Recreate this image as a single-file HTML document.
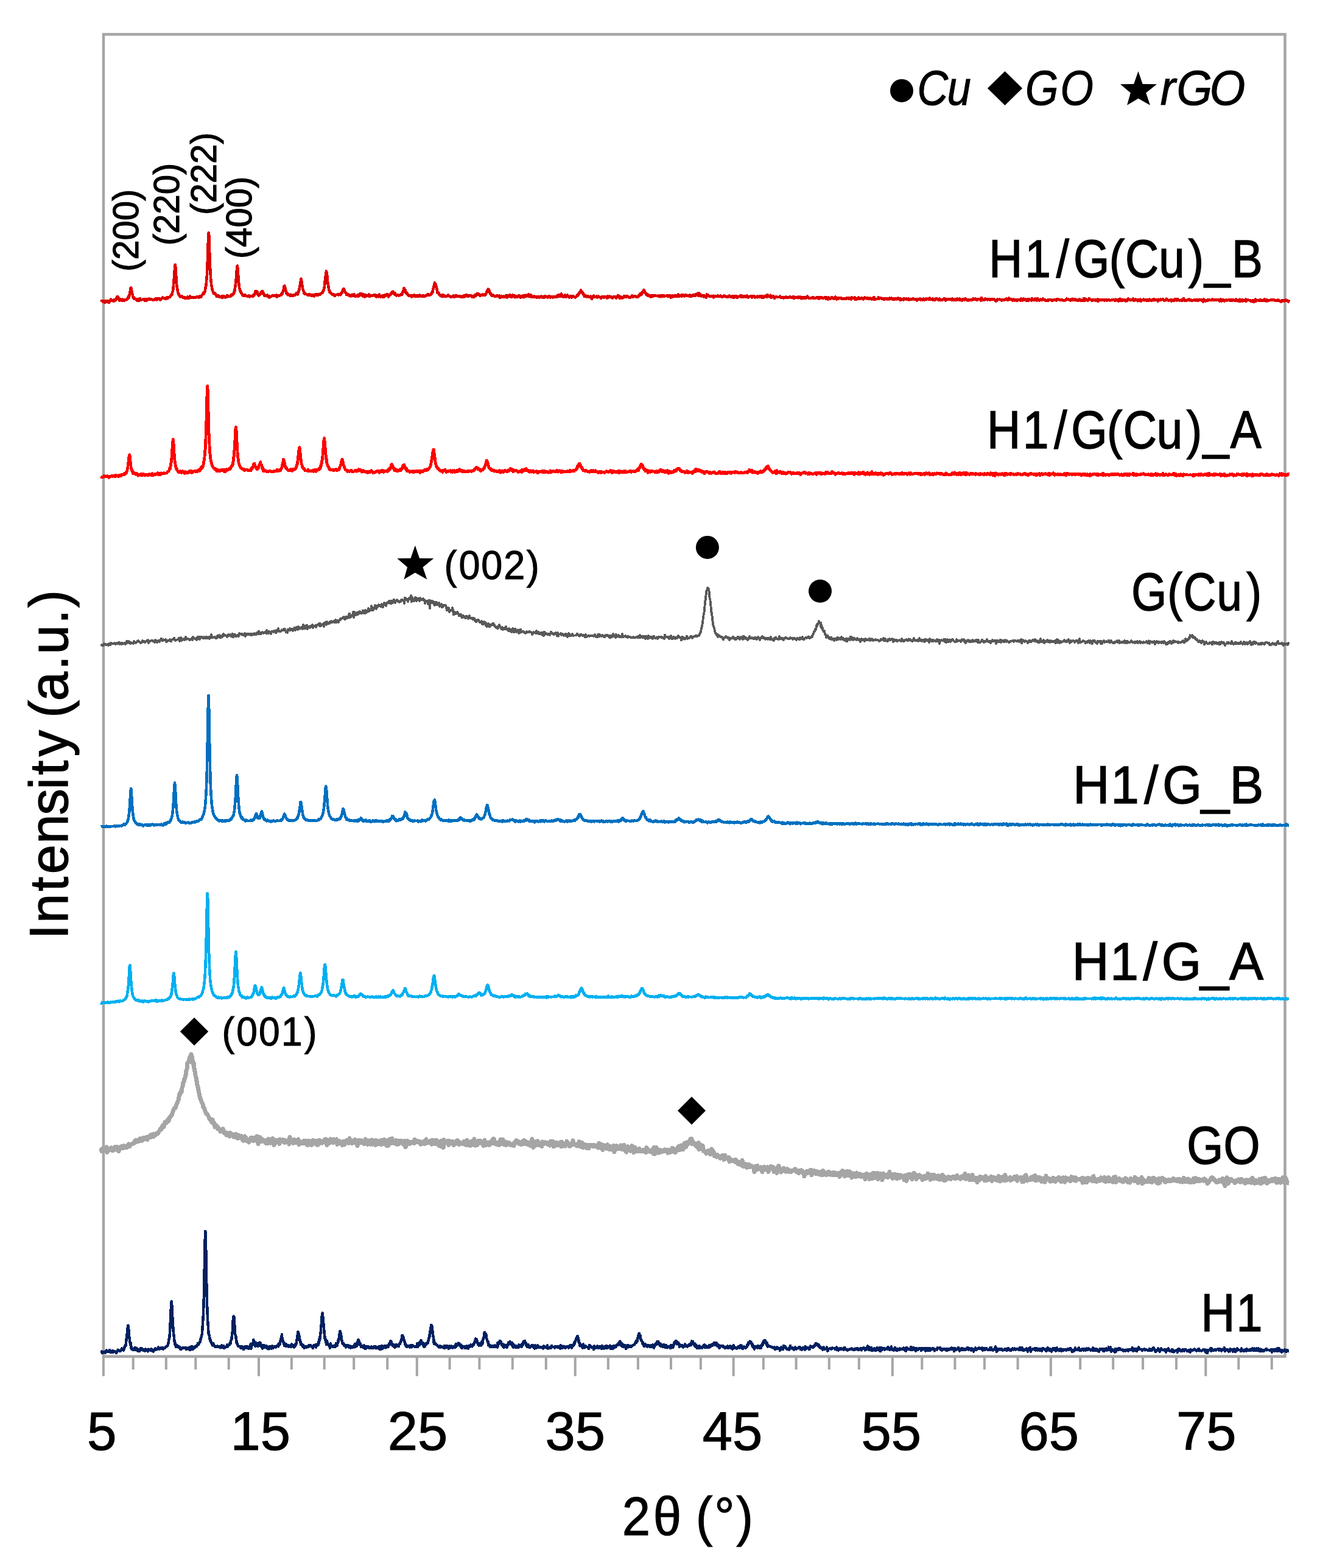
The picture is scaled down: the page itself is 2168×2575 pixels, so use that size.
<!DOCTYPE html>
<html><head><meta charset="utf-8"><title>XRD patterns</title>
<style>html,body{margin:0;padding:0;background:#fff;}svg{display:block;}</style>
</head><body>
<svg width="2168" height="2575" viewBox="0 0 2168 2575">
<rect width="2168" height="2575" fill="#fff"/>
<rect x="170.0" y="56.4" width="1940.5" height="2171.2" fill="none" stroke="#A6A6A6" stroke-width="4.5"/>
<path d="M169.9,2227.6V2260M218.7,2227.6V2249M272.8,2227.6V2249M321.3,2227.6V2249M375.7,2227.6V2249M425.0,2227.6V2260M478.9,2227.6V2249M532.7,2227.6V2249M581.2,2227.6V2249M636.2,2227.6V2249M684.8,2227.6V2260M738.6,2227.6V2249M787.4,2227.6V2249M841.8,2227.6V2249M896.8,2227.6V2249M944.7,2227.6V2260M998.8,2227.6V2249M1047.9,2227.6V2249M1102.0,2227.6V2249M1150.9,2227.6V2249M1204.7,2227.6V2260M1253.8,2227.6V2249M1307.6,2227.6V2249M1361.8,2227.6V2249M1410.8,2227.6V2249M1465.8,2227.6V2260M1514.3,2227.6V2249M1568.4,2227.6V2249M1616.9,2227.6V2249M1671.6,2227.6V2249M1725.9,2227.6V2260M1774.2,2227.6V2249M1828.2,2227.6V2249M1877.1,2227.6V2249M1932.0,2227.6V2249M1980.3,2227.6V2260M2034.3,2227.6V2249M2088.8,2227.6V2249" stroke="#A6A6A6" stroke-width="4" fill="none"/>
<polyline points="166.0,1885.2 167.0,1890.5 168.0,1886.3 169.0,1887.5 170.0,1887.8 171.0,1886.4 172.0,1885.2 173.0,1889.1 174.0,1888.5 175.0,1883.9 176.0,1892.3 177.0,1889.5 178.0,1886.1 179.0,1889.2 180.0,1886.5 181.0,1887.2 182.0,1888.7 183.0,1884.7 184.0,1888.1 185.0,1889.6 186.0,1889.4 187.0,1886.1 188.0,1888.3 189.0,1883.3 190.0,1886.0 191.0,1887.0 192.0,1883.5 193.0,1885.8 194.0,1889.1 195.0,1890.6 196.0,1886.9 197.0,1886.9 198.0,1883.4 199.0,1882.7 200.0,1882.2 201.0,1885.7 202.0,1885.9 203.0,1883.1 204.0,1881.7 205.0,1884.2 206.0,1883.9 207.0,1882.7 208.0,1884.8 209.0,1881.8 210.0,1881.4 211.0,1879.0 212.0,1880.7 213.0,1882.4 214.0,1879.5 215.0,1879.0 216.0,1879.1 217.0,1878.3 218.0,1878.3 219.0,1877.8 220.0,1877.5 221.0,1874.5 222.0,1876.0 223.0,1872.2 224.0,1875.2 225.0,1872.1 226.0,1873.9 227.0,1874.6 228.0,1872.7 229.0,1873.3 230.0,1869.9 231.0,1871.0 232.0,1873.4 233.0,1869.8 234.0,1872.7 235.0,1868.8 236.0,1869.4 237.0,1868.7 238.0,1870.3 239.0,1870.9 240.0,1867.8 241.0,1868.9 242.0,1871.7 243.0,1867.9 244.0,1866.7 245.0,1868.3 246.0,1866.8 247.0,1865.6 248.0,1863.3 249.0,1867.3 250.0,1864.4 251.0,1864.9 252.0,1862.6 253.0,1866.1 254.0,1864.6 255.0,1864.4 256.0,1861.9 257.0,1862.2 258.0,1862.2 259.0,1861.7 260.0,1859.7 261.0,1858.2 262.0,1856.7 263.0,1855.0 264.0,1853.5 265.0,1854.5 266.0,1852.3 267.0,1848.1 268.0,1849.8 269.0,1850.4 270.0,1846.8 271.0,1842.8 272.0,1844.2 273.0,1844.3 274.0,1841.9 275.0,1839.4 276.0,1841.7 277.0,1840.2 278.0,1835.5 279.0,1835.4 280.0,1833.1 281.0,1832.1 282.0,1831.5 283.0,1828.8 284.0,1825.8 285.0,1822.8 286.0,1820.6 287.0,1819.9 288.0,1819.7 289.0,1816.2 290.0,1813.5 291.0,1811.4 292.0,1808.5 293.0,1806.6 294.0,1801.1 295.0,1796.8 296.0,1796.3 297.0,1792.1 298.0,1793.3 299.0,1787.1 300.0,1783.5 301.0,1777.7 302.0,1776.9 303.0,1771.5 304.0,1770.2 305.0,1765.6 306.0,1758.3 307.0,1755.3 308.0,1745.6 309.0,1744.9 310.0,1744.3 311.0,1739.9 312.0,1735.9 313.0,1733.7 314.0,1731.5 315.0,1733.8 316.0,1740.1 317.0,1746.9 318.0,1744.9 319.0,1754.2 320.0,1759.7 321.0,1766.1 322.0,1769.0 323.0,1775.1 324.0,1781.8 325.0,1785.8 326.0,1790.6 327.0,1795.2 328.0,1800.1 329.0,1804.1 330.0,1806.6 331.0,1809.6 332.0,1811.1 333.0,1813.5 334.0,1818.8 335.0,1819.1 336.0,1821.2 337.0,1824.9 338.0,1827.3 339.0,1829.2 340.0,1829.5 341.0,1830.5 342.0,1832.7 343.0,1834.1 344.0,1837.6 345.0,1837.2 346.0,1839.2 347.0,1839.4 348.0,1843.1 349.0,1838.6 350.0,1844.1 351.0,1846.0 352.0,1844.0 353.0,1851.0 354.0,1848.2 355.0,1849.3 356.0,1848.8 357.0,1853.3 358.0,1853.2 359.0,1852.6 360.0,1854.9 361.0,1856.5 362.0,1858.2 363.0,1856.9 364.0,1855.3 365.0,1856.6 366.0,1853.8 367.0,1857.3 368.0,1860.7 369.0,1860.6 370.0,1859.9 371.0,1859.9 372.0,1864.2 373.0,1862.0 374.0,1863.6 375.0,1863.0 376.0,1861.1 377.0,1866.1 378.0,1860.6 379.0,1861.0 380.0,1862.9 381.0,1862.6 382.0,1863.2 383.0,1863.4 384.0,1867.1 385.0,1865.3 386.0,1866.2 387.0,1862.2 388.0,1864.1 389.0,1868.6 390.0,1863.7 391.0,1869.3 392.0,1864.5 393.0,1867.7 394.0,1865.3 395.0,1867.9 396.0,1865.6 397.0,1867.3 398.0,1871.9 399.0,1867.4 400.0,1873.2 401.0,1867.5 402.0,1866.0 403.0,1869.1 404.0,1868.1 405.0,1873.5 406.0,1871.5 407.0,1872.5 408.0,1871.3 409.0,1876.0 410.0,1872.0 411.0,1871.5 412.0,1868.3 413.0,1868.2 414.0,1871.1 415.0,1873.3 416.0,1873.8 417.0,1868.7 418.0,1872.6 419.0,1871.9 420.0,1868.7 421.0,1873.1 422.0,1866.0 423.0,1872.7 424.0,1878.6 425.0,1869.7 426.0,1872.6 427.0,1867.7 428.0,1870.9 429.0,1874.9 430.0,1870.4 431.0,1873.2 432.0,1872.5 433.0,1872.5 434.0,1874.2 435.0,1875.0 436.0,1877.1 437.0,1876.2 438.0,1872.7 439.0,1877.9 440.0,1877.6 441.0,1870.4 442.0,1876.3 443.0,1876.8 444.0,1877.2 445.0,1876.2 446.0,1871.5 447.0,1874.2 448.0,1869.6 449.0,1874.6 450.0,1880.3 451.0,1876.8 452.0,1877.2 453.0,1873.7 454.0,1872.5 455.0,1872.3 456.0,1875.5 457.0,1873.1 458.0,1873.5 459.0,1878.2 460.0,1871.0 461.0,1871.8 462.0,1873.9 463.0,1875.0 464.0,1874.9 465.0,1871.7 466.0,1875.8 467.0,1875.0 468.0,1876.3 469.0,1872.6 470.0,1876.0 471.0,1876.0 472.0,1873.7 473.0,1874.9 474.0,1874.0 475.0,1879.0 476.0,1867.4 477.0,1871.7 478.0,1871.1 479.0,1874.5 480.0,1873.7 481.0,1874.4 482.0,1877.4 483.0,1871.3 484.0,1873.3 485.0,1875.0 486.0,1872.4 487.0,1876.5 488.0,1876.4 489.0,1873.7 490.0,1871.0 491.0,1879.7 492.0,1876.8 493.0,1876.7 494.0,1875.8 495.0,1875.6 496.0,1877.7 497.0,1875.6 498.0,1874.0 499.0,1877.4 500.0,1875.8 501.0,1873.6 502.0,1873.3 503.0,1878.6 504.0,1877.2 505.0,1880.7 506.0,1874.2 507.0,1873.6 508.0,1876.6 509.0,1879.1 510.0,1877.1 511.0,1876.6 512.0,1880.4 513.0,1873.5 514.0,1872.2 515.0,1873.5 516.0,1874.6 517.0,1876.3 518.0,1878.0 519.0,1876.4 520.0,1879.3 521.0,1873.2 522.0,1880.2 523.0,1873.2 524.0,1878.2 525.0,1872.8 526.0,1876.1 527.0,1875.3 528.0,1876.5 529.0,1877.0 530.0,1874.5 531.0,1874.9 532.0,1875.7 533.0,1871.6 534.0,1873.1 535.0,1870.8 536.0,1875.0 537.0,1880.7 538.0,1876.8 539.0,1872.7 540.0,1873.1 541.0,1877.4 542.0,1873.6 543.0,1870.7 544.0,1872.2 545.0,1872.1 546.0,1872.2 547.0,1876.6 548.0,1875.0 549.0,1871.0 550.0,1873.4 551.0,1871.9 552.0,1871.7 553.0,1870.9 554.0,1879.3 555.0,1874.0 556.0,1876.3 557.0,1877.1 558.0,1873.9 559.0,1876.2 560.0,1876.3 561.0,1875.5 562.0,1880.5 563.0,1875.7 564.0,1874.4 565.0,1876.6 566.0,1879.6 567.0,1877.6 568.0,1873.8 569.0,1872.8 570.0,1872.7 571.0,1873.4 572.0,1876.1 573.0,1877.3 574.0,1869.3 575.0,1875.2 576.0,1872.4 577.0,1877.0 578.0,1877.6 579.0,1873.3 580.0,1874.2 581.0,1872.9 582.0,1876.4 583.0,1871.2 584.0,1872.5 585.0,1873.7 586.0,1878.6 587.0,1881.6 588.0,1875.5 589.0,1872.3 590.0,1875.7 591.0,1873.3 592.0,1876.7 593.0,1872.7 594.0,1874.6 595.0,1875.5 596.0,1876.9 597.0,1875.4 598.0,1878.8 599.0,1875.9 600.0,1870.9 601.0,1878.0 602.0,1874.9 603.0,1873.9 604.0,1879.5 605.0,1873.0 606.0,1875.8 607.0,1873.8 608.0,1879.1 609.0,1874.7 610.0,1876.2 611.0,1872.0 612.0,1879.3 613.0,1872.9 614.0,1877.9 615.0,1878.5 616.0,1878.8 617.0,1880.3 618.0,1872.6 619.0,1876.6 620.0,1876.0 621.0,1876.7 622.0,1878.4 623.0,1875.9 624.0,1873.5 625.0,1875.4 626.0,1879.5 627.0,1872.6 628.0,1875.8 629.0,1873.1 630.0,1878.4 631.0,1871.4 632.0,1874.7 633.0,1875.3 634.0,1875.9 635.0,1881.6 636.0,1879.6 637.0,1873.0 638.0,1881.1 639.0,1872.5 640.0,1870.8 641.0,1871.8 642.0,1876.1 643.0,1877.0 644.0,1869.9 645.0,1876.7 646.0,1874.9 647.0,1877.4 648.0,1874.6 649.0,1877.9 650.0,1877.0 651.0,1872.6 652.0,1879.3 653.0,1876.2 654.0,1877.5 655.0,1878.9 656.0,1873.1 657.0,1875.4 658.0,1873.6 659.0,1873.3 660.0,1876.4 661.0,1876.6 662.0,1879.1 663.0,1879.3 664.0,1875.7 665.0,1873.7 666.0,1884.0 667.0,1881.4 668.0,1875.6 669.0,1873.5 670.0,1874.9 671.0,1876.7 672.0,1878.9 673.0,1878.5 674.0,1877.2 675.0,1875.5 676.0,1876.6 677.0,1875.4 678.0,1876.4 679.0,1876.0 680.0,1877.6 681.0,1871.5 682.0,1875.4 683.0,1875.6 684.0,1873.5 685.0,1875.9 686.0,1873.7 687.0,1874.7 688.0,1875.7 689.0,1875.8 690.0,1875.0 691.0,1879.3 692.0,1877.0 693.0,1877.4 694.0,1877.2 695.0,1874.9 696.0,1874.3 697.0,1878.7 698.0,1875.7 699.0,1872.1 700.0,1871.0 701.0,1877.2 702.0,1874.7 703.0,1876.4 704.0,1875.2 705.0,1875.6 706.0,1876.2 707.0,1873.4 708.0,1876.5 709.0,1879.1 710.0,1878.4 711.0,1872.1 712.0,1873.2 713.0,1873.2 714.0,1875.9 715.0,1878.7 716.0,1877.4 717.0,1872.1 718.0,1876.7 719.0,1878.6 720.0,1875.4 721.0,1881.4 722.0,1874.9 723.0,1879.5 724.0,1882.5 725.0,1873.3 726.0,1875.7 727.0,1878.0 728.0,1884.7 729.0,1871.9 730.0,1877.9 731.0,1877.2 732.0,1875.4 733.0,1874.3 734.0,1875.1 735.0,1875.7 736.0,1873.2 737.0,1880.4 738.0,1873.6 739.0,1875.3 740.0,1874.7 741.0,1875.4 742.0,1876.7 743.0,1874.5 744.0,1875.8 745.0,1880.8 746.0,1879.1 747.0,1875.7 748.0,1878.7 749.0,1874.4 750.0,1877.0 751.0,1872.8 752.0,1873.5 753.0,1874.2 754.0,1879.6 755.0,1877.0 756.0,1877.8 757.0,1876.8 758.0,1877.4 759.0,1877.5 760.0,1878.4 761.0,1876.9 762.0,1874.2 763.0,1874.5 764.0,1879.6 765.0,1880.2 766.0,1878.0 767.0,1872.4 768.0,1880.6 769.0,1877.5 770.0,1876.5 771.0,1876.8 772.0,1875.8 773.0,1881.2 774.0,1881.0 775.0,1874.1 776.0,1876.3 777.0,1877.6 778.0,1880.1 779.0,1870.7 780.0,1879.3 781.0,1881.2 782.0,1876.1 783.0,1876.9 784.0,1880.2 785.0,1878.0 786.0,1873.6 787.0,1874.1 788.0,1874.4 789.0,1873.5 790.0,1877.1 791.0,1875.8 792.0,1877.2 793.0,1878.9 794.0,1881.7 795.0,1877.7 796.0,1872.4 797.0,1880.7 798.0,1876.9 799.0,1880.1 800.0,1876.0 801.0,1877.9 802.0,1876.8 803.0,1877.1 804.0,1880.4 805.0,1875.5 806.0,1877.6 807.0,1877.7 808.0,1876.2 809.0,1871.6 810.0,1878.0 811.0,1870.0 812.0,1873.3 813.0,1876.0 814.0,1878.2 815.0,1879.3 816.0,1879.3 817.0,1878.7 818.0,1876.2 819.0,1880.2 820.0,1876.5 821.0,1880.0 822.0,1871.5 823.0,1874.7 824.0,1875.7 825.0,1877.2 826.0,1871.1 827.0,1879.2 828.0,1879.7 829.0,1879.2 830.0,1875.9 831.0,1880.8 832.0,1875.8 833.0,1879.5 834.0,1877.0 835.0,1877.1 836.0,1876.8 837.0,1877.1 838.0,1880.0 839.0,1880.8 840.0,1880.8 841.0,1879.5 842.0,1878.9 843.0,1878.3 844.0,1881.6 845.0,1876.0 846.0,1875.6 847.0,1877.3 848.0,1872.9 849.0,1876.6 850.0,1877.0 851.0,1874.6 852.0,1875.7 853.0,1878.9 854.0,1876.6 855.0,1877.4 856.0,1879.8 857.0,1875.6 858.0,1874.3 859.0,1877.1 860.0,1878.3 861.0,1872.6 862.0,1878.9 863.0,1876.4 864.0,1876.2 865.0,1875.1 866.0,1876.8 867.0,1879.7 868.0,1878.6 869.0,1879.4 870.0,1876.4 871.0,1881.4 872.0,1880.6 873.0,1877.4 874.0,1870.8 875.0,1877.6 876.0,1884.4 877.0,1877.3 878.0,1874.9 879.0,1881.8 880.0,1876.0 881.0,1878.8 882.0,1879.5 883.0,1873.9 884.0,1877.9 885.0,1880.7 886.0,1876.8 887.0,1879.3 888.0,1877.7 889.0,1880.3 890.0,1882.4 891.0,1875.0 892.0,1877.1 893.0,1878.8 894.0,1876.3 895.0,1875.8 896.0,1877.0 897.0,1877.2 898.0,1876.3 899.0,1878.8 900.0,1880.0 901.0,1879.9 902.0,1879.8 903.0,1881.1 904.0,1874.7 905.0,1877.8 906.0,1878.6 907.0,1879.5 908.0,1874.1 909.0,1883.0 910.0,1876.0 911.0,1878.9 912.0,1880.2 913.0,1881.1 914.0,1876.6 915.0,1877.0 916.0,1879.4 917.0,1879.9 918.0,1880.8 919.0,1878.4 920.0,1876.8 921.0,1875.2 922.0,1883.0 923.0,1875.2 924.0,1880.5 925.0,1879.4 926.0,1880.7 927.0,1881.2 928.0,1882.2 929.0,1878.7 930.0,1879.9 931.0,1874.1 932.0,1879.1 933.0,1876.8 934.0,1878.7 935.0,1882.2 936.0,1879.4 937.0,1882.0 938.0,1878.8 939.0,1880.3 940.0,1878.3 941.0,1873.0 942.0,1877.6 943.0,1878.8 944.0,1879.9 945.0,1879.6 946.0,1879.3 947.0,1882.0 948.0,1881.3 949.0,1878.8 950.0,1882.0 951.0,1874.9 952.0,1879.2 953.0,1879.6 954.0,1883.3 955.0,1878.7 956.0,1876.5 957.0,1880.6 958.0,1884.5 959.0,1879.8 960.0,1880.1 961.0,1879.9 962.0,1880.6 963.0,1883.8 964.0,1885.6 965.0,1881.9 966.0,1880.5 967.0,1885.5 968.0,1881.2 969.0,1881.2 970.0,1880.2 971.0,1880.4 972.0,1881.8 973.0,1880.6 974.0,1882.4 975.0,1881.7 976.0,1882.9 977.0,1880.7 978.0,1881.2 979.0,1882.4 980.0,1882.0 981.0,1882.2 982.0,1885.0 983.0,1879.4 984.0,1877.3 985.0,1884.1 986.0,1881.8 987.0,1885.8 988.0,1882.3 989.0,1879.7 990.0,1888.2 991.0,1883.8 992.0,1881.7 993.0,1881.1 994.0,1884.4 995.0,1881.4 996.0,1884.2 997.0,1886.2 998.0,1879.9 999.0,1882.6 1000.0,1884.7 1001.0,1887.8 1002.0,1886.0 1003.0,1882.6 1004.0,1887.5 1005.0,1883.1 1006.0,1883.6 1007.0,1885.1 1008.0,1881.5 1009.0,1892.0 1010.0,1887.4 1011.0,1885.0 1012.0,1883.1 1013.0,1881.8 1014.0,1885.7 1015.0,1886.6 1016.0,1883.9 1017.0,1884.5 1018.0,1886.5 1019.0,1885.1 1020.0,1880.7 1021.0,1887.1 1022.0,1886.1 1023.0,1887.4 1024.0,1883.8 1025.0,1880.5 1026.0,1882.7 1027.0,1886.7 1028.0,1891.2 1029.0,1892.0 1030.0,1887.0 1031.0,1882.7 1032.0,1885.6 1033.0,1887.6 1034.0,1887.7 1035.0,1887.0 1036.0,1890.2 1037.0,1884.7 1038.0,1881.6 1039.0,1884.9 1040.0,1884.3 1041.0,1892.9 1042.0,1887.0 1043.0,1884.0 1044.0,1889.2 1045.0,1890.2 1046.0,1887.9 1047.0,1888.4 1048.0,1890.6 1049.0,1889.4 1050.0,1886.5 1051.0,1889.8 1052.0,1890.7 1053.0,1889.4 1054.0,1890.8 1055.0,1890.3 1056.0,1888.3 1057.0,1888.7 1058.0,1890.7 1059.0,1888.0 1060.0,1892.3 1061.0,1892.6 1062.0,1884.7 1063.0,1889.7 1064.0,1888.1 1065.0,1888.6 1066.0,1890.6 1067.0,1889.9 1068.0,1891.9 1069.0,1891.3 1070.0,1891.5 1071.0,1888.7 1072.0,1889.9 1073.0,1894.4 1074.0,1884.6 1075.0,1895.1 1076.0,1889.4 1077.0,1893.7 1078.0,1884.3 1079.0,1889.7 1080.0,1892.8 1081.0,1891.1 1082.0,1893.2 1083.0,1888.5 1084.0,1889.2 1085.0,1888.9 1086.0,1891.8 1087.0,1891.6 1088.0,1890.1 1089.0,1889.7 1090.0,1889.6 1091.0,1890.4 1092.0,1887.8 1093.0,1889.9 1094.0,1889.6 1095.0,1888.6 1096.0,1888.4 1097.0,1893.4 1098.0,1888.2 1099.0,1890.6 1100.0,1892.9 1101.0,1891.2 1102.0,1889.3 1103.0,1891.6 1104.0,1885.4 1105.0,1885.7 1106.0,1887.5 1107.0,1887.7 1108.0,1887.8 1109.0,1892.4 1110.0,1891.6 1111.0,1887.0 1112.0,1887.4 1113.0,1884.2 1114.0,1886.9 1115.0,1882.4 1116.0,1888.9 1117.0,1883.7 1118.0,1886.0 1119.0,1881.0 1120.0,1887.3 1121.0,1885.0 1122.0,1887.8 1123.0,1882.5 1124.0,1877.6 1125.0,1878.9 1126.0,1877.0 1127.0,1883.2 1128.0,1877.0 1129.0,1876.0 1130.0,1878.7 1131.0,1877.3 1132.0,1877.3 1133.0,1874.5 1134.0,1870.5 1135.0,1872.0 1136.0,1870.1 1137.0,1878.9 1138.0,1878.5 1139.0,1875.9 1140.0,1879.0 1141.0,1879.9 1142.0,1880.7 1143.0,1881.3 1144.0,1883.1 1145.0,1882.0 1146.0,1877.2 1147.0,1876.7 1148.0,1887.5 1149.0,1886.5 1150.0,1879.4 1151.0,1886.5 1152.0,1884.4 1153.0,1885.7 1154.0,1881.1 1155.0,1889.9 1156.0,1888.3 1157.0,1890.9 1158.0,1892.0 1159.0,1893.0 1160.0,1894.3 1161.0,1891.3 1162.0,1891.5 1163.0,1889.8 1164.0,1893.1 1165.0,1891.5 1166.0,1889.6 1167.0,1895.8 1168.0,1895.0 1169.0,1887.0 1170.0,1889.4 1171.0,1893.8 1172.0,1891.4 1173.0,1898.1 1174.0,1895.9 1175.0,1897.2 1176.0,1898.5 1177.0,1899.9 1178.0,1896.2 1179.0,1898.8 1180.0,1898.3 1181.0,1900.0 1182.0,1899.7 1183.0,1902.2 1184.0,1900.3 1185.0,1898.2 1186.0,1900.0 1187.0,1897.2 1188.0,1901.1 1189.0,1904.4 1190.0,1899.5 1191.0,1897.3 1192.0,1901.5 1193.0,1900.8 1194.0,1902.3 1195.0,1901.2 1196.0,1903.2 1197.0,1900.8 1198.0,1907.5 1199.0,1903.4 1200.0,1905.6 1201.0,1906.6 1202.0,1904.7 1203.0,1906.5 1204.0,1905.1 1205.0,1905.0 1206.0,1905.9 1207.0,1908.1 1208.0,1904.1 1209.0,1905.3 1210.0,1906.0 1211.0,1906.9 1212.0,1911.5 1213.0,1909.0 1214.0,1908.6 1215.0,1910.1 1216.0,1912.7 1217.0,1908.6 1218.0,1913.3 1219.0,1905.4 1220.0,1909.2 1221.0,1915.4 1222.0,1915.9 1223.0,1912.8 1224.0,1911.6 1225.0,1914.9 1226.0,1912.1 1227.0,1917.2 1228.0,1916.6 1229.0,1915.8 1230.0,1912.1 1231.0,1916.8 1232.0,1914.0 1233.0,1914.3 1234.0,1914.1 1235.0,1915.0 1236.0,1916.8 1237.0,1917.9 1238.0,1918.1 1239.0,1924.6 1240.0,1915.6 1241.0,1919.5 1242.0,1915.2 1243.0,1916.5 1244.0,1914.3 1245.0,1920.3 1246.0,1918.2 1247.0,1918.0 1248.0,1917.5 1249.0,1920.2 1250.0,1916.8 1251.0,1919.2 1252.0,1924.5 1253.0,1918.1 1254.0,1917.0 1255.0,1916.1 1256.0,1920.7 1257.0,1919.0 1258.0,1917.1 1259.0,1917.0 1260.0,1919.2 1261.0,1916.7 1262.0,1924.5 1263.0,1918.9 1264.0,1919.0 1265.0,1919.3 1266.0,1915.1 1267.0,1916.1 1268.0,1918.9 1269.0,1919.8 1270.0,1916.8 1271.0,1924.1 1272.0,1921.2 1273.0,1923.3 1274.0,1923.1 1275.0,1919.7 1276.0,1926.3 1277.0,1920.7 1278.0,1915.8 1279.0,1914.7 1280.0,1920.6 1281.0,1922.8 1282.0,1920.9 1283.0,1925.0 1284.0,1920.1 1285.0,1922.3 1286.0,1922.8 1287.0,1918.5 1288.0,1921.8 1289.0,1922.0 1290.0,1923.9 1291.0,1924.3 1292.0,1923.8 1293.0,1919.6 1294.0,1923.3 1295.0,1924.2 1296.0,1921.7 1297.0,1923.6 1298.0,1923.7 1299.0,1924.8 1300.0,1922.2 1301.0,1923.3 1302.0,1922.7 1303.0,1922.4 1304.0,1920.9 1305.0,1921.7 1306.0,1919.8 1307.0,1922.2 1308.0,1924.5 1309.0,1924.4 1310.0,1924.8 1311.0,1922.8 1312.0,1926.6 1313.0,1922.2 1314.0,1925.3 1315.0,1924.6 1316.0,1921.9 1317.0,1922.1 1318.0,1925.7 1319.0,1924.1 1320.0,1924.8 1321.0,1931.8 1322.0,1925.8 1323.0,1924.8 1324.0,1926.4 1325.0,1923.2 1326.0,1924.4 1327.0,1926.0 1328.0,1923.0 1329.0,1925.0 1330.0,1924.7 1331.0,1925.5 1332.0,1921.1 1333.0,1929.8 1334.0,1925.3 1335.0,1926.9 1336.0,1923.1 1337.0,1922.5 1338.0,1925.9 1339.0,1925.1 1340.0,1927.5 1341.0,1923.7 1342.0,1923.7 1343.0,1926.9 1344.0,1927.9 1345.0,1928.5 1346.0,1926.2 1347.0,1927.0 1348.0,1924.5 1349.0,1929.7 1350.0,1929.3 1351.0,1929.3 1352.0,1922.8 1353.0,1928.9 1354.0,1925.0 1355.0,1928.0 1356.0,1927.9 1357.0,1929.9 1358.0,1926.5 1359.0,1926.2 1360.0,1924.7 1361.0,1924.3 1362.0,1928.6 1363.0,1925.1 1364.0,1929.0 1365.0,1926.5 1366.0,1926.1 1367.0,1929.8 1368.0,1929.6 1369.0,1925.2 1370.0,1927.2 1371.0,1927.7 1372.0,1929.4 1373.0,1926.0 1374.0,1926.8 1375.0,1927.6 1376.0,1929.6 1377.0,1930.2 1378.0,1926.7 1379.0,1932.3 1380.0,1929.2 1381.0,1926.3 1382.0,1924.5 1383.0,1927.1 1384.0,1922.6 1385.0,1928.8 1386.0,1929.8 1387.0,1931.5 1388.0,1929.7 1389.0,1924.4 1390.0,1927.9 1391.0,1930.3 1392.0,1923.4 1393.0,1926.7 1394.0,1930.3 1395.0,1928.9 1396.0,1924.0 1397.0,1927.7 1398.0,1929.0 1399.0,1934.0 1400.0,1928.0 1401.0,1926.9 1402.0,1929.7 1403.0,1930.0 1404.0,1930.6 1405.0,1932.7 1406.0,1929.1 1407.0,1926.0 1408.0,1929.5 1409.0,1929.4 1410.0,1931.8 1411.0,1931.5 1412.0,1927.7 1413.0,1931.4 1414.0,1932.0 1415.0,1929.2 1416.0,1932.0 1417.0,1930.1 1418.0,1930.2 1419.0,1929.4 1420.0,1931.8 1421.0,1936.8 1422.0,1930.5 1423.0,1927.1 1424.0,1929.4 1425.0,1928.6 1426.0,1930.8 1427.0,1929.8 1428.0,1936.3 1429.0,1932.0 1430.0,1934.7 1431.0,1928.5 1432.0,1929.8 1433.0,1935.3 1434.0,1926.3 1435.0,1930.7 1436.0,1926.7 1437.0,1934.1 1438.0,1927.0 1439.0,1929.8 1440.0,1930.1 1441.0,1926.5 1442.0,1936.6 1443.0,1930.2 1444.0,1934.6 1445.0,1929.0 1446.0,1927.2 1447.0,1931.3 1448.0,1931.2 1449.0,1937.9 1450.0,1928.3 1451.0,1927.1 1452.0,1929.2 1453.0,1931.7 1454.0,1932.3 1455.0,1929.2 1456.0,1930.2 1457.0,1932.4 1458.0,1933.7 1459.0,1929.7 1460.0,1931.4 1461.0,1924.5 1462.0,1928.8 1463.0,1932.2 1464.0,1931.2 1465.0,1930.8 1466.0,1935.2 1467.0,1930.6 1468.0,1928.7 1469.0,1931.9 1470.0,1931.9 1471.0,1928.7 1472.0,1933.9 1473.0,1935.6 1474.0,1930.1 1475.0,1929.4 1476.0,1931.4 1477.0,1934.6 1478.0,1930.3 1479.0,1929.9 1480.0,1930.3 1481.0,1932.3 1482.0,1932.3 1483.0,1931.4 1484.0,1934.7 1485.0,1937.3 1486.0,1930.5 1487.0,1934.4 1488.0,1932.6 1489.0,1939.2 1490.0,1929.8 1491.0,1931.2 1492.0,1932.3 1493.0,1928.6 1494.0,1931.6 1495.0,1933.8 1496.0,1928.6 1497.0,1932.5 1498.0,1936.5 1499.0,1930.8 1500.0,1930.1 1501.0,1926.2 1502.0,1932.0 1503.0,1928.4 1504.0,1933.7 1505.0,1936.3 1506.0,1933.7 1507.0,1930.5 1508.0,1934.0 1509.0,1931.3 1510.0,1929.8 1511.0,1931.3 1512.0,1933.1 1513.0,1931.7 1514.0,1933.9 1515.0,1937.8 1516.0,1934.1 1517.0,1934.5 1518.0,1931.1 1519.0,1935.9 1520.0,1933.6 1521.0,1935.2 1522.0,1930.9 1523.0,1933.4 1524.0,1927.2 1525.0,1932.0 1526.0,1930.9 1527.0,1930.5 1528.0,1937.1 1529.0,1929.3 1530.0,1932.6 1531.0,1932.7 1532.0,1934.3 1533.0,1935.5 1534.0,1929.2 1535.0,1931.8 1536.0,1931.4 1537.0,1934.8 1538.0,1935.4 1539.0,1932.2 1540.0,1931.9 1541.0,1930.8 1542.0,1934.1 1543.0,1937.3 1544.0,1934.2 1545.0,1931.6 1546.0,1931.4 1547.0,1931.7 1548.0,1929.4 1549.0,1937.6 1550.0,1933.6 1551.0,1932.7 1552.0,1938.9 1553.0,1934.0 1554.0,1937.1 1555.0,1934.2 1556.0,1936.2 1557.0,1933.8 1558.0,1932.7 1559.0,1934.6 1560.0,1935.4 1561.0,1936.3 1562.0,1934.2 1563.0,1933.1 1564.0,1932.9 1565.0,1934.5 1566.0,1932.6 1567.0,1933.0 1568.0,1935.2 1569.0,1935.3 1570.0,1935.1 1571.0,1932.1 1572.0,1930.5 1573.0,1934.6 1574.0,1934.3 1575.0,1933.1 1576.0,1934.5 1577.0,1936.1 1578.0,1933.6 1579.0,1935.1 1580.0,1931.8 1581.0,1933.6 1582.0,1932.2 1583.0,1930.7 1584.0,1935.2 1585.0,1927.4 1586.0,1934.1 1587.0,1936.1 1588.0,1935.2 1589.0,1930.6 1590.0,1934.9 1591.0,1930.0 1592.0,1932.2 1593.0,1937.8 1594.0,1934.8 1595.0,1937.2 1596.0,1931.8 1597.0,1929.5 1598.0,1932.7 1599.0,1937.6 1600.0,1936.7 1601.0,1937.1 1602.0,1934.2 1603.0,1934.4 1604.0,1934.1 1605.0,1941.6 1606.0,1934.9 1607.0,1938.9 1608.0,1934.3 1609.0,1938.0 1610.0,1932.1 1611.0,1933.6 1612.0,1935.6 1613.0,1933.4 1614.0,1933.8 1615.0,1934.5 1616.0,1933.6 1617.0,1938.6 1618.0,1937.6 1619.0,1931.6 1620.0,1939.0 1621.0,1934.9 1622.0,1934.9 1623.0,1934.6 1624.0,1937.1 1625.0,1936.8 1626.0,1933.8 1627.0,1935.2 1628.0,1932.0 1629.0,1939.6 1630.0,1933.1 1631.0,1933.1 1632.0,1933.5 1633.0,1935.5 1634.0,1937.0 1635.0,1934.4 1636.0,1935.3 1637.0,1934.5 1638.0,1938.4 1639.0,1935.9 1640.0,1931.3 1641.0,1938.9 1642.0,1936.2 1643.0,1940.0 1644.0,1934.0 1645.0,1934.3 1646.0,1935.0 1647.0,1932.1 1648.0,1934.6 1649.0,1938.5 1650.0,1937.2 1651.0,1929.8 1652.0,1938.6 1653.0,1936.4 1654.0,1937.6 1655.0,1935.7 1656.0,1936.1 1657.0,1935.8 1658.0,1935.8 1659.0,1933.2 1660.0,1938.2 1661.0,1936.2 1662.0,1936.7 1663.0,1936.6 1664.0,1935.0 1665.0,1935.7 1666.0,1932.6 1667.0,1936.4 1668.0,1936.5 1669.0,1935.3 1670.0,1931.8 1671.0,1939.1 1672.0,1935.5 1673.0,1935.9 1674.0,1935.2 1675.0,1934.5 1676.0,1935.0 1677.0,1933.3 1678.0,1934.6 1679.0,1940.9 1680.0,1938.8 1681.0,1940.8 1682.0,1934.6 1683.0,1931.6 1684.0,1932.8 1685.0,1929.8 1686.0,1938.7 1687.0,1939.0 1688.0,1936.4 1689.0,1937.1 1690.0,1937.1 1691.0,1935.9 1692.0,1937.9 1693.0,1933.8 1694.0,1935.2 1695.0,1935.9 1696.0,1932.2 1697.0,1933.9 1698.0,1937.3 1699.0,1937.1 1700.0,1930.5 1701.0,1938.5 1702.0,1937.2 1703.0,1938.2 1704.0,1936.2 1705.0,1937.8 1706.0,1933.3 1707.0,1935.9 1708.0,1933.9 1709.0,1935.2 1710.0,1939.2 1711.0,1940.3 1712.0,1936.6 1713.0,1935.4 1714.0,1938.4 1715.0,1937.6 1716.0,1941.1 1717.0,1938.0 1718.0,1931.0 1719.0,1936.7 1720.0,1935.8 1721.0,1934.7 1722.0,1936.9 1723.0,1936.7 1724.0,1935.8 1725.0,1940.2 1726.0,1937.5 1727.0,1937.6 1728.0,1937.0 1729.0,1939.6 1730.0,1934.1 1731.0,1939.6 1732.0,1936.2 1733.0,1940.3 1734.0,1940.1 1735.0,1937.9 1736.0,1935.7 1737.0,1937.4 1738.0,1937.6 1739.0,1933.3 1740.0,1936.0 1741.0,1935.2 1742.0,1940.1 1743.0,1940.9 1744.0,1935.1 1745.0,1935.6 1746.0,1933.8 1747.0,1937.5 1748.0,1938.8 1749.0,1941.1 1750.0,1933.9 1751.0,1939.1 1752.0,1936.6 1753.0,1935.3 1754.0,1936.1 1755.0,1935.2 1756.0,1938.0 1757.0,1937.0 1758.0,1939.8 1759.0,1935.8 1760.0,1932.6 1761.0,1934.7 1762.0,1937.8 1763.0,1933.6 1764.0,1935.3 1765.0,1938.3 1766.0,1933.8 1767.0,1939.1 1768.0,1937.9 1769.0,1935.7 1770.0,1937.0 1771.0,1936.0 1772.0,1936.2 1773.0,1936.4 1774.0,1937.2 1775.0,1937.0 1776.0,1935.4 1777.0,1934.9 1778.0,1942.1 1779.0,1934.6 1780.0,1936.9 1781.0,1940.1 1782.0,1939.6 1783.0,1935.5 1784.0,1942.0 1785.0,1941.4 1786.0,1936.5 1787.0,1934.4 1788.0,1938.8 1789.0,1936.9 1790.0,1936.6 1791.0,1935.4 1792.0,1935.9 1793.0,1937.7 1794.0,1939.5 1795.0,1932.5 1796.0,1931.8 1797.0,1939.7 1798.0,1935.4 1799.0,1939.0 1800.0,1937.7 1801.0,1940.4 1802.0,1939.6 1803.0,1936.8 1804.0,1937.1 1805.0,1938.2 1806.0,1939.2 1807.0,1936.0 1808.0,1934.0 1809.0,1937.8 1810.0,1937.4 1811.0,1937.2 1812.0,1935.2 1813.0,1939.0 1814.0,1933.5 1815.0,1936.5 1816.0,1940.6 1817.0,1935.0 1818.0,1938.6 1819.0,1938.7 1820.0,1938.7 1821.0,1933.7 1822.0,1940.0 1823.0,1938.0 1824.0,1938.9 1825.0,1938.4 1826.0,1937.9 1827.0,1940.6 1828.0,1941.1 1829.0,1933.4 1830.0,1935.9 1831.0,1937.4 1832.0,1932.7 1833.0,1941.2 1834.0,1936.0 1835.0,1939.1 1836.0,1938.3 1837.0,1937.3 1838.0,1935.5 1839.0,1937.0 1840.0,1938.1 1841.0,1939.7 1842.0,1937.4 1843.0,1937.0 1844.0,1937.3 1845.0,1941.0 1846.0,1938.6 1847.0,1936.4 1848.0,1935.0 1849.0,1937.0 1850.0,1935.9 1851.0,1937.0 1852.0,1941.2 1853.0,1939.6 1854.0,1938.6 1855.0,1939.0 1856.0,1942.1 1857.0,1935.4 1858.0,1939.1 1859.0,1937.6 1860.0,1938.4 1861.0,1938.3 1862.0,1937.4 1863.0,1939.4 1864.0,1933.1 1865.0,1938.8 1866.0,1939.7 1867.0,1935.9 1868.0,1935.9 1869.0,1942.6 1870.0,1936.1 1871.0,1937.3 1872.0,1936.4 1873.0,1936.8 1874.0,1936.7 1875.0,1933.3 1876.0,1943.8 1877.0,1936.6 1878.0,1939.1 1879.0,1938.1 1880.0,1941.4 1881.0,1939.9 1882.0,1940.9 1883.0,1941.0 1884.0,1940.3 1885.0,1938.4 1886.0,1940.5 1887.0,1934.6 1888.0,1940.4 1889.0,1940.0 1890.0,1939.1 1891.0,1935.3 1892.0,1941.5 1893.0,1936.8 1894.0,1939.9 1895.0,1934.1 1896.0,1938.0 1897.0,1936.9 1898.0,1936.6 1899.0,1936.9 1900.0,1942.6 1901.0,1938.4 1902.0,1939.3 1903.0,1943.4 1904.0,1935.2 1905.0,1942.1 1906.0,1937.6 1907.0,1937.1 1908.0,1937.6 1909.0,1934.3 1910.0,1935.0 1911.0,1935.9 1912.0,1937.3 1913.0,1940.2 1914.0,1941.1 1915.0,1937.7 1916.0,1939.5 1917.0,1939.6 1918.0,1938.1 1919.0,1939.1 1920.0,1937.3 1921.0,1939.9 1922.0,1938.1 1923.0,1938.7 1924.0,1939.2 1925.0,1939.0 1926.0,1937.0 1927.0,1935.5 1928.0,1938.5 1929.0,1937.4 1930.0,1937.5 1931.0,1938.5 1932.0,1937.1 1933.0,1939.8 1934.0,1939.7 1935.0,1936.6 1936.0,1939.6 1937.0,1936.5 1938.0,1940.4 1939.0,1940.2 1940.0,1938.7 1941.0,1940.8 1942.0,1941.2 1943.0,1939.8 1944.0,1934.5 1945.0,1939.1 1946.0,1939.3 1947.0,1940.7 1948.0,1936.5 1949.0,1940.5 1950.0,1939.7 1951.0,1939.8 1952.0,1936.0 1953.0,1936.9 1954.0,1941.5 1955.0,1940.8 1956.0,1938.7 1957.0,1941.4 1958.0,1939.5 1959.0,1937.9 1960.0,1935.2 1961.0,1941.3 1962.0,1938.6 1963.0,1939.5 1964.0,1934.8 1965.0,1937.7 1966.0,1939.6 1967.0,1938.4 1968.0,1937.2 1969.0,1936.4 1970.0,1939.4 1971.0,1938.1 1972.0,1938.2 1973.0,1938.3 1974.0,1937.5 1975.0,1938.2 1976.0,1937.6 1977.0,1939.1 1978.0,1935.8 1979.0,1936.5 1980.0,1939.1 1981.0,1938.6 1982.0,1939.4 1983.0,1943.7 1984.0,1940.8 1985.0,1941.6 1986.0,1940.0 1987.0,1938.8 1988.0,1937.2 1989.0,1934.8 1990.0,1935.8 1991.0,1933.7 1992.0,1936.5 1993.0,1935.4 1994.0,1936.9 1995.0,1939.1 1996.0,1938.2 1997.0,1941.1 1998.0,1941.2 1999.0,1941.5 2000.0,1941.1 2001.0,1939.8 2002.0,1938.0 2003.0,1940.2 2004.0,1938.6 2005.0,1938.7 2006.0,1940.1 2007.0,1936.7 2008.0,1935.4 2009.0,1939.9 2010.0,1943.3 2011.0,1941.8 2012.0,1947.8 2013.0,1936.0 2014.0,1937.7 2015.0,1933.9 2016.0,1937.2 2017.0,1943.6 2018.0,1942.9 2019.0,1936.9 2020.0,1938.5 2021.0,1937.4 2022.0,1936.2 2023.0,1938.7 2024.0,1938.5 2025.0,1939.5 2026.0,1939.9 2027.0,1940.9 2028.0,1942.4 2029.0,1939.1 2030.0,1938.8 2031.0,1939.3 2032.0,1940.3 2033.0,1939.0 2034.0,1937.0 2035.0,1938.1 2036.0,1941.0 2037.0,1937.0 2038.0,1941.2 2039.0,1936.1 2040.0,1940.7 2041.0,1940.7 2042.0,1938.9 2043.0,1939.3 2044.0,1938.8 2045.0,1943.2 2046.0,1938.4 2047.0,1937.7 2048.0,1940.2 2049.0,1941.9 2050.0,1940.1 2051.0,1939.0 2052.0,1941.7 2053.0,1937.6 2054.0,1937.6 2055.0,1936.6 2056.0,1942.2 2057.0,1934.3 2058.0,1936.5 2059.0,1940.0 2060.0,1940.3 2061.0,1943.4 2062.0,1940.4 2063.0,1938.3 2064.0,1942.6 2065.0,1941.9 2066.0,1942.1 2067.0,1941.9 2068.0,1940.6 2069.0,1936.1 2070.0,1937.0 2071.0,1943.9 2072.0,1939.5 2073.0,1935.2 2074.0,1939.6 2075.0,1941.6 2076.0,1940.3 2077.0,1939.5 2078.0,1934.2 2079.0,1939.6 2080.0,1939.1 2081.0,1943.3 2082.0,1939.5 2083.0,1939.3 2084.0,1938.5 2085.0,1939.2 2086.0,1940.1 2087.0,1938.3 2088.0,1937.5 2089.0,1936.6 2090.0,1939.7 2091.0,1938.7 2092.0,1938.7 2093.0,1936.0 2094.0,1937.6 2095.0,1935.2 2096.0,1941.6 2097.0,1942.2 2098.0,1940.4 2099.0,1939.2 2100.0,1940.5 2101.0,1936.1 2102.0,1936.5 2103.0,1942.1 2104.0,1937.1 2105.0,1939.3 2106.0,1937.9 2107.0,1933.9 2108.0,1937.9 2109.0,1941.3 2110.0,1942.4 2111.0,1933.7 2112.0,1935.9 2113.0,1938.1 2114.0,1941.7 2115.0,1942.2 2116.0,1943.1 2117.0,1943.3" fill="none" stroke="#A5A5A5" stroke-width="7.0" stroke-linejoin="round" stroke-linecap="butt" shape-rendering="crispEdges"/>
<polyline points="166.0,2220.2 167.0,2219.3 168.0,2222.0 169.0,2220.2 170.0,2220.5 171.0,2219.9 172.0,2219.8 173.0,2221.6 174.0,2218.7 175.0,2217.5 176.0,2219.0 177.0,2220.1 178.0,2219.4 179.0,2219.6 180.0,2216.8 181.0,2218.4 182.0,2221.2 183.0,2219.2 184.0,2218.4 185.0,2221.0 186.0,2218.4 187.0,2220.3 188.0,2219.4 189.0,2219.6 190.0,2220.4 191.0,2222.1 192.0,2220.5 193.0,2217.2 194.0,2216.7 195.0,2217.7 196.0,2217.8 197.0,2218.9 198.0,2217.6 199.0,2217.6 200.0,2214.4 201.0,2216.5 202.0,2216.7 203.0,2217.7 204.0,2215.2 204.3,2213.8 204.8,2211.0 205.0,2212.4 205.3,2211.8 205.8,2210.2 206.0,2210.1 206.3,2209.5 206.8,2207.3 207.0,2208.9 207.3,2202.3 207.8,2197.8 208.0,2199.0 208.3,2193.6 208.8,2189.4 209.0,2187.2 209.3,2182.4 209.8,2179.6 210.0,2178.1 210.3,2176.6 210.8,2179.3 211.0,2181.5 211.3,2183.0 211.8,2190.5 212.0,2192.2 212.3,2195.3 212.8,2199.2 213.0,2204.1 213.3,2204.0 213.8,2204.2 214.0,2208.0 214.3,2204.6 214.8,2210.5 215.0,2211.7 215.3,2213.4 215.8,2212.6 216.0,2211.6 216.3,2216.0 217.0,2215.5 218.0,2216.8 219.0,2215.1 220.0,2216.8 221.0,2213.6 222.0,2217.1 223.0,2213.5 224.0,2215.2 225.0,2214.6 226.0,2218.6 227.0,2218.3 228.0,2216.1 229.0,2218.9 230.0,2217.2 231.0,2214.1 232.0,2216.5 233.0,2214.5 234.0,2217.1 235.0,2217.6 236.0,2215.9 237.0,2218.2 238.0,2218.5 239.0,2215.6 240.0,2217.8 241.0,2216.7 242.0,2216.4 243.0,2219.3 244.0,2215.7 245.0,2216.2 246.0,2216.6 247.0,2217.5 248.0,2217.8 249.0,2215.2 250.0,2218.6 251.0,2219.2 252.0,2219.5 253.0,2216.6 254.0,2215.6 255.0,2214.7 256.0,2216.7 257.0,2216.0 258.0,2215.9 259.0,2215.0 260.0,2212.5 261.0,2215.3 262.0,2215.4 263.0,2214.9 264.0,2213.2 265.0,2214.7 266.0,2214.7 267.0,2213.0 268.0,2215.4 269.0,2214.0 270.0,2213.9 271.0,2213.7 272.0,2212.1 273.0,2211.5 274.0,2211.2 275.0,2209.8 275.8,2208.1 276.0,2205.9 276.3,2206.4 276.8,2205.1 277.0,2200.3 277.3,2200.3 277.8,2197.8 278.0,2196.3 278.3,2196.5 278.8,2190.4 279.0,2185.9 279.3,2181.6 279.8,2171.0 280.0,2167.5 280.3,2164.5 280.8,2148.4 281.0,2147.7 281.3,2140.4 281.8,2137.1 282.0,2138.0 282.3,2144.1 282.8,2151.4 283.0,2156.2 283.3,2163.9 283.8,2169.6 284.0,2179.4 284.3,2179.1 284.8,2187.3 285.0,2191.6 285.3,2191.7 285.8,2194.9 286.0,2200.6 286.3,2200.1 286.8,2204.4 287.0,2204.5 287.3,2204.6 287.8,2208.9 288.0,2206.5 289.0,2211.9 290.0,2208.9 291.0,2209.7 292.0,2210.9 293.0,2212.8 294.0,2211.2 295.0,2212.1 296.0,2215.5 297.0,2213.8 298.0,2215.4 299.0,2214.3 300.0,2213.0 301.0,2212.8 302.0,2214.2 303.0,2214.0 304.0,2213.2 305.0,2213.1 306.0,2216.1 307.0,2215.4 308.0,2214.2 309.0,2213.2 310.0,2213.0 311.0,2216.6 312.0,2212.6 313.0,2216.8 314.0,2212.2 315.0,2210.8 316.0,2215.9 317.0,2212.5 318.0,2214.7 319.0,2212.8 320.0,2211.4 321.0,2212.8 322.0,2210.5 323.0,2211.0 324.0,2209.5 325.0,2206.2 326.0,2208.3 327.0,2205.6 328.0,2204.4 329.0,2202.7 330.0,2196.6 331.0,2194.7 331.3,2192.8 331.8,2191.1 332.0,2187.7 332.3,2184.1 332.8,2176.7 333.0,2174.9 333.3,2168.1 333.8,2161.0 334.0,2155.4 334.3,2147.1 334.8,2131.1 335.0,2123.8 335.3,2110.2 335.8,2082.2 336.0,2074.7 336.3,2056.0 336.8,2033.1 337.0,2026.7 337.3,2021.8 337.8,2032.9 338.0,2040.1 338.3,2054.6 338.8,2084.0 339.0,2095.8 339.3,2110.6 339.8,2131.2 340.0,2137.2 340.3,2147.0 340.8,2160.0 341.0,2162.3 341.3,2171.2 341.8,2177.6 342.0,2178.1 342.3,2185.6 342.8,2190.9 343.0,2187.7 343.3,2191.4 344.0,2194.5 345.0,2201.0 346.0,2200.8 347.0,2205.7 348.0,2207.1 349.0,2209.3 350.0,2205.8 351.0,2208.2 352.0,2209.6 353.0,2211.8 354.0,2210.9 355.0,2212.2 356.0,2212.1 357.0,2210.3 358.0,2211.6 359.0,2211.3 360.0,2211.6 361.0,2210.8 362.0,2213.3 363.0,2212.7 364.0,2209.4 365.0,2213.3 366.0,2211.4 367.0,2210.0 368.0,2213.9 369.0,2212.0 370.0,2212.4 371.0,2211.5 372.0,2211.4 373.0,2208.4 374.0,2211.8 375.0,2209.0 376.0,2209.3 377.0,2208.0 377.8,2205.3 378.0,2204.5 378.3,2205.5 378.8,2206.2 379.0,2202.7 379.3,2201.7 379.8,2200.6 380.0,2198.6 380.3,2199.6 380.8,2194.8 381.0,2196.1 381.3,2189.8 381.8,2186.9 382.0,2180.0 382.3,2176.9 382.8,2167.6 383.0,2165.9 383.3,2162.7 383.8,2161.7 384.0,2163.2 384.3,2162.8 384.8,2167.1 385.0,2172.2 385.3,2176.4 385.8,2182.9 386.0,2187.4 386.3,2191.2 386.8,2193.1 387.0,2194.7 387.3,2193.9 387.8,2199.6 388.0,2202.7 388.3,2201.4 388.8,2205.8 389.0,2206.0 389.3,2206.7 389.8,2207.8 390.0,2207.1 391.0,2210.3 392.0,2211.3 393.0,2211.0 394.0,2211.0 395.0,2213.4 396.0,2214.0 397.0,2211.0 398.0,2213.4 399.0,2212.4 400.0,2215.9 401.0,2212.0 402.0,2211.6 403.0,2211.2 404.0,2213.9 405.0,2211.0 406.0,2213.5 407.0,2211.7 408.0,2214.4 409.0,2214.5 410.0,2213.7 411.0,2208.7 411.5,2209.2 412.0,2207.0 412.5,2214.6 413.0,2209.3 413.5,2209.0 414.0,2208.9 414.5,2208.7 415.0,2206.0 415.5,2205.2 416.0,2203.5 416.5,2200.3 417.0,2204.5 417.5,2204.8 418.0,2203.4 418.5,2204.6 419.0,2209.0 419.5,2211.0 420.0,2208.3 420.4,2209.6 420.5,2208.2 420.9,2209.7 421.0,2205.4 421.4,2206.1 421.5,2210.2 421.9,2209.3 422.0,2210.2 422.4,2209.7 422.5,2210.5 422.9,2209.8 423.0,2209.1 423.4,2209.7 423.9,2207.6 424.0,2210.5 424.4,2206.4 424.9,2206.3 425.0,2208.1 425.4,2205.4 425.9,2206.7 426.0,2207.3 426.4,2206.2 426.9,2204.7 427.0,2208.4 427.4,2207.0 427.9,2205.9 428.0,2210.6 428.4,2208.7 428.9,2210.2 429.0,2210.8 429.4,2209.2 429.9,2211.9 430.0,2208.8 430.4,2209.5 430.9,2210.8 431.0,2214.7 431.4,2212.5 431.9,2213.6 432.0,2211.3 432.4,2212.9 433.0,2209.1 434.0,2212.1 435.0,2213.2 436.0,2211.8 437.0,2209.8 438.0,2210.4 439.0,2213.8 440.0,2214.9 441.0,2212.3 442.0,2215.3 443.0,2210.9 444.0,2213.8 445.0,2213.3 446.0,2214.4 447.0,2210.5 448.0,2214.2 449.0,2212.8 450.0,2211.2 451.0,2211.7 452.0,2211.9 453.0,2212.4 454.0,2210.5 455.0,2210.1 456.0,2211.0 456.7,2210.4 457.0,2210.9 457.2,2211.3 457.7,2206.7 458.0,2208.9 458.2,2209.1 458.7,2208.0 459.0,2205.7 459.2,2207.9 459.7,2208.1 460.0,2204.3 460.2,2202.6 460.7,2202.9 461.0,2200.4 461.2,2199.5 461.7,2197.3 462.0,2195.0 462.2,2195.0 462.7,2193.1 463.0,2191.5 463.2,2196.5 463.7,2197.3 464.0,2198.2 464.2,2201.3 464.7,2201.4 465.0,2204.6 465.2,2204.9 465.7,2204.9 466.0,2204.3 466.2,2207.4 466.7,2208.0 467.0,2209.7 467.2,2206.2 467.7,2209.0 468.0,2209.8 468.2,2210.2 468.7,2210.2 469.0,2210.7 470.0,2207.3 471.0,2210.6 472.0,2210.3 473.0,2209.1 474.0,2211.7 475.0,2211.0 476.0,2209.8 477.0,2209.4 478.0,2211.9 479.0,2207.5 480.0,2210.9 481.0,2209.1 482.0,2210.6 483.0,2212.7 484.0,2210.5 484.5,2208.2 485.0,2209.9 485.5,2209.6 486.0,2207.1 486.5,2207.0 487.0,2202.7 487.5,2201.0 488.0,2197.2 488.5,2193.6 489.0,2191.0 489.5,2187.3 490.0,2187.3 490.5,2191.8 491.0,2192.0 491.5,2193.8 492.0,2199.9 492.5,2202.2 493.0,2200.7 493.5,2203.1 494.0,2208.2 494.5,2206.8 495.0,2207.8 495.5,2207.5 496.0,2207.2 497.0,2211.5 498.0,2209.1 499.0,2211.5 500.0,2213.8 501.0,2212.0 502.0,2211.1 503.0,2212.4 504.0,2212.4 505.0,2210.9 506.0,2212.0 507.0,2209.8 508.0,2209.0 509.0,2210.8 510.0,2208.9 511.0,2210.5 512.0,2211.2 513.0,2211.5 514.0,2213.9 515.0,2209.5 516.0,2210.0 517.0,2209.7 518.0,2208.4 519.0,2212.6 520.0,2207.7 521.0,2207.7 522.0,2206.6 523.0,2208.9 523.6,2203.4 524.0,2201.7 524.1,2204.4 524.6,2199.9 525.0,2196.1 525.1,2200.5 525.6,2197.7 526.0,2191.5 526.1,2191.1 526.6,2188.8 527.0,2183.5 527.1,2181.5 527.6,2175.9 528.0,2175.1 528.1,2172.6 528.6,2162.5 529.0,2159.5 529.1,2159.0 529.6,2156.3 530.0,2158.1 530.1,2161.5 530.6,2163.1 531.0,2168.3 531.1,2170.8 531.6,2176.7 532.0,2181.9 532.1,2183.1 532.6,2187.3 533.0,2194.0 533.1,2191.8 533.6,2198.1 534.0,2196.9 534.1,2197.2 534.6,2201.1 535.0,2201.7 535.1,2203.7 535.6,2204.7 536.0,2208.2 537.0,2201.8 538.0,2205.9 539.0,2208.3 540.0,2208.7 541.0,2209.4 542.0,2213.8 543.0,2206.6 544.0,2211.3 545.0,2210.0 546.0,2210.4 547.0,2212.0 548.0,2210.2 549.0,2211.3 550.0,2211.8 551.0,2211.2 552.0,2205.9 552.7,2207.1 553.0,2205.8 553.2,2206.3 553.7,2206.5 554.0,2209.5 554.2,2205.0 554.7,2204.4 555.0,2203.8 555.2,2205.7 555.7,2200.8 556.0,2201.1 556.2,2200.8 556.7,2197.8 557.0,2192.1 557.2,2192.0 557.7,2192.2 558.0,2187.0 558.2,2188.7 558.7,2185.9 559.0,2189.1 559.2,2188.9 559.7,2188.8 560.0,2192.5 560.2,2192.4 560.7,2196.1 561.0,2200.5 561.2,2200.0 561.7,2202.3 562.0,2205.2 562.2,2203.7 562.7,2207.0 563.0,2206.3 563.2,2206.5 563.7,2206.5 564.0,2206.2 564.2,2206.2 564.7,2206.9 565.0,2209.5 566.0,2210.1 567.0,2208.8 568.0,2212.4 569.0,2209.8 570.0,2210.4 571.0,2209.1 572.0,2210.0 573.0,2212.7 574.0,2212.1 575.0,2210.5 576.0,2213.4 577.0,2211.4 578.0,2211.6 579.0,2213.0 580.0,2212.0 581.0,2210.5 582.0,2209.1 582.6,2212.5 583.0,2206.7 583.1,2209.3 583.6,2207.3 584.0,2208.7 584.1,2210.8 584.6,2208.5 585.0,2207.9 585.1,2208.4 585.6,2210.7 586.0,2209.1 586.1,2207.1 586.6,2204.7 587.0,2204.1 587.1,2204.9 587.6,2202.9 588.0,2202.3 588.1,2200.7 588.6,2199.9 589.0,2200.5 589.1,2202.7 589.6,2201.9 590.0,2208.1 590.1,2205.3 590.6,2206.7 591.0,2208.2 591.1,2205.3 591.6,2206.0 592.0,2208.1 592.1,2209.5 592.6,2210.1 593.0,2212.2 593.1,2211.9 593.6,2211.8 594.0,2212.2 594.1,2211.0 594.6,2212.1 595.0,2210.6 596.0,2210.8 597.0,2213.1 598.0,2209.4 599.0,2214.1 600.0,2215.0 601.0,2211.5 602.0,2213.5 603.0,2212.6 604.0,2210.9 605.0,2213.0 606.0,2213.3 607.0,2214.1 608.0,2212.1 609.0,2212.8 610.0,2211.7 611.0,2214.1 612.0,2212.5 613.0,2213.9 614.0,2211.6 615.0,2212.8 616.0,2211.3 617.0,2211.5 618.0,2214.3 619.0,2212.3 620.0,2212.5 621.0,2213.7 622.0,2211.4 623.0,2215.5 624.0,2211.4 625.0,2211.9 626.0,2215.8 627.0,2209.9 628.0,2215.1 629.0,2212.9 630.0,2213.1 631.0,2210.6 632.0,2212.3 633.0,2210.0 634.0,2213.3 635.0,2211.1 636.0,2210.1 636.5,2210.1 637.0,2210.4 637.5,2211.7 638.0,2210.4 638.5,2208.1 639.0,2207.3 639.5,2206.3 640.0,2208.1 640.5,2206.7 641.0,2203.3 641.5,2201.8 642.0,2203.9 642.5,2203.4 643.0,2205.7 643.5,2205.6 644.0,2207.3 644.5,2208.8 645.0,2209.9 645.5,2208.6 646.0,2210.5 646.5,2208.9 647.0,2208.2 647.5,2210.6 648.0,2212.3 649.0,2212.8 650.0,2210.6 651.0,2208.1 652.0,2211.0 653.0,2210.0 654.0,2210.8 655.0,2210.8 655.4,2208.2 655.9,2207.3 656.0,2207.7 656.4,2206.7 656.9,2205.5 657.0,2207.1 657.4,2204.9 657.9,2204.5 658.0,2204.1 658.4,2202.5 658.9,2202.6 659.0,2200.7 659.4,2199.6 659.9,2198.8 660.0,2197.0 660.4,2193.4 660.9,2193.3 661.0,2193.1 661.4,2194.4 661.9,2196.5 662.0,2194.6 662.4,2195.4 662.9,2199.8 663.0,2197.0 663.4,2200.2 663.9,2202.5 664.0,2202.0 664.4,2203.2 664.9,2205.2 665.0,2207.4 665.4,2206.9 665.9,2206.1 666.0,2207.6 666.4,2209.3 666.9,2211.1 667.0,2209.8 667.4,2209.3 668.0,2211.5 669.0,2211.4 670.0,2210.8 671.0,2209.9 672.0,2211.2 673.0,2212.7 674.0,2209.8 675.0,2209.1 676.0,2212.3 677.0,2209.3 678.0,2209.6 679.0,2211.2 680.0,2211.1 681.0,2211.5 682.0,2211.5 683.0,2211.9 684.0,2210.8 685.0,2209.4 685.4,2206.2 685.9,2212.0 686.0,2211.3 686.4,2210.8 686.9,2209.5 687.0,2208.1 687.4,2209.8 687.9,2208.5 688.0,2206.4 688.4,2209.5 688.9,2205.0 689.0,2206.4 689.4,2208.9 689.9,2204.2 690.0,2205.5 690.4,2206.1 690.9,2203.8 691.0,2201.6 691.4,2202.8 691.9,2203.6 692.0,2201.6 692.4,2206.4 692.9,2205.5 693.0,2206.2 693.4,2206.2 693.9,2207.1 694.0,2206.2 694.4,2205.0 694.9,2208.7 695.0,2207.8 695.4,2210.4 695.9,2206.6 696.0,2208.7 696.4,2211.8 696.9,2206.7 697.0,2206.9 697.4,2209.0 698.0,2211.2 699.0,2206.6 700.0,2208.0 701.0,2206.8 702.0,2205.0 702.4,2204.8 702.9,2206.0 703.0,2204.2 703.4,2201.1 703.9,2200.6 704.0,2201.4 704.4,2197.6 704.9,2196.5 705.0,2196.4 705.4,2191.7 705.9,2194.4 706.0,2188.5 706.4,2188.1 706.9,2183.8 707.0,2182.4 707.4,2182.2 707.9,2177.8 708.0,2176.1 708.4,2178.5 708.9,2178.6 709.0,2176.6 709.4,2178.2 709.9,2185.5 710.0,2184.7 710.4,2185.9 710.9,2192.6 711.0,2190.3 711.4,2194.0 711.9,2196.5 712.0,2195.2 712.4,2201.0 712.9,2207.1 713.0,2203.1 713.4,2203.9 713.9,2204.2 714.0,2204.7 714.4,2206.0 715.0,2207.5 716.0,2207.1 717.0,2208.8 718.0,2209.1 719.0,2210.8 720.0,2211.8 721.0,2212.3 722.0,2210.3 723.0,2210.4 724.0,2212.4 725.0,2211.1 726.0,2211.3 727.0,2212.4 728.0,2212.4 729.0,2213.8 730.0,2210.1 731.0,2213.6 732.0,2211.3 733.0,2213.1 734.0,2210.1 735.0,2211.9 736.0,2211.2 737.0,2214.8 738.0,2210.7 739.0,2213.8 740.0,2210.8 741.0,2210.3 742.0,2212.4 743.0,2213.5 744.0,2211.7 745.0,2212.5 746.0,2211.8 746.6,2211.1 747.0,2213.2 747.1,2211.1 747.6,2212.2 748.0,2208.9 748.1,2210.3 748.6,2211.7 749.0,2209.3 749.1,2206.7 749.6,2210.6 750.0,2209.9 750.1,2208.5 750.6,2208.5 751.0,2207.3 751.1,2208.2 751.6,2208.7 752.0,2207.2 752.1,2206.5 752.6,2205.8 753.0,2206.3 753.1,2205.9 753.6,2208.5 754.0,2205.9 754.1,2206.8 754.6,2208.8 755.0,2209.3 755.1,2209.3 755.6,2208.8 756.0,2210.1 756.1,2207.8 756.6,2208.0 757.0,2208.6 757.1,2211.2 757.6,2212.9 758.0,2210.4 758.1,2210.2 758.6,2210.8 759.0,2214.1 760.0,2211.9 761.0,2211.9 762.0,2211.0 763.0,2212.6 764.0,2213.9 765.0,2212.2 766.0,2210.7 767.0,2213.8 768.0,2211.8 769.0,2214.4 770.0,2210.1 771.0,2211.3 772.0,2211.7 773.0,2208.5 774.0,2210.9 775.0,2211.3 775.5,2209.9 776.0,2210.4 776.5,2209.6 777.0,2207.6 777.5,2209.3 778.0,2206.4 778.5,2206.3 779.0,2204.6 779.5,2205.6 780.0,2202.8 780.5,2201.8 781.0,2198.5 781.5,2201.0 782.0,2203.1 782.5,2199.1 783.0,2203.7 783.5,2204.1 784.0,2202.5 784.5,2205.3 785.0,2208.0 785.5,2207.1 786.0,2208.1 786.5,2209.5 787.0,2207.5 787.5,2209.4 788.0,2206.2 789.0,2206.6 790.0,2209.4 790.8,2208.5 791.0,2207.6 791.3,2203.6 791.8,2204.7 792.0,2203.3 792.3,2206.8 792.8,2200.7 793.0,2200.2 793.3,2200.3 793.8,2199.8 794.0,2197.6 794.3,2196.7 794.8,2195.2 795.0,2193.8 795.3,2189.4 795.8,2188.0 796.0,2191.6 796.3,2188.3 796.8,2190.3 797.0,2189.9 797.3,2189.9 797.8,2190.1 798.0,2193.2 798.3,2191.7 798.8,2198.3 799.0,2196.8 799.3,2198.3 799.8,2199.1 800.0,2199.6 800.3,2201.2 800.8,2202.4 801.0,2202.4 801.3,2202.9 801.8,2205.9 802.0,2207.8 802.3,2209.4 802.8,2208.4 803.0,2207.4 804.0,2209.5 805.0,2211.9 806.0,2210.1 807.0,2211.8 808.0,2211.2 809.0,2211.0 810.0,2210.1 811.0,2212.1 812.0,2209.8 813.0,2209.5 814.0,2211.3 815.0,2212.0 815.6,2211.7 816.0,2211.4 816.1,2209.7 816.6,2209.6 817.0,2211.2 817.1,2212.5 817.6,2205.0 818.0,2210.4 818.1,2208.8 818.6,2207.8 819.0,2206.2 819.1,2206.2 819.6,2204.5 820.0,2206.0 820.1,2204.0 820.6,2204.4 821.0,2202.0 821.1,2205.9 821.6,2204.9 822.0,2202.3 822.1,2204.8 822.6,2204.1 823.0,2204.0 823.1,2205.5 823.6,2207.5 824.0,2209.2 824.1,2207.5 824.6,2209.5 825.0,2209.3 825.1,2209.4 825.6,2210.4 826.0,2207.3 826.1,2208.8 826.6,2211.9 827.0,2207.9 827.1,2208.7 827.6,2213.0 828.0,2208.8 829.0,2210.7 830.0,2211.0 831.0,2210.1 831.6,2211.8 832.0,2211.5 832.1,2209.2 832.6,2212.6 833.0,2208.6 833.1,2209.1 833.6,2209.2 834.0,2209.4 834.1,2207.3 834.6,2208.8 835.0,2204.7 835.1,2207.1 835.6,2205.8 836.0,2205.6 836.1,2206.4 836.6,2206.2 837.0,2204.4 837.1,2205.4 837.6,2203.0 838.0,2204.8 838.1,2206.8 838.6,2204.9 839.0,2205.9 839.1,2206.5 839.6,2208.4 840.0,2208.3 840.1,2207.7 840.6,2207.1 841.0,2209.3 841.1,2204.8 841.6,2210.2 842.0,2208.7 842.1,2210.9 842.6,2210.1 843.0,2212.4 843.1,2209.5 843.6,2207.8 844.0,2210.9 845.0,2210.4 846.0,2211.2 847.0,2213.2 848.0,2210.2 849.0,2212.5 850.0,2212.8 851.0,2213.0 852.0,2208.4 853.0,2211.4 854.0,2209.9 855.0,2210.2 855.4,2209.1 855.9,2209.6 856.0,2211.4 856.4,2212.2 856.9,2210.3 857.0,2207.4 857.4,2210.6 857.9,2206.4 858.0,2207.5 858.4,2209.1 858.9,2205.8 859.0,2207.5 859.4,2205.4 859.9,2203.1 860.0,2205.0 860.4,2203.2 860.9,2206.0 861.0,2206.0 861.4,2205.5 861.9,2201.9 862.0,2206.3 862.4,2204.5 862.9,2205.6 863.0,2205.4 863.4,2205.0 863.9,2206.9 864.0,2208.2 864.4,2209.9 864.9,2209.1 865.0,2208.5 865.4,2208.2 865.9,2209.0 866.0,2211.9 866.4,2210.9 866.9,2210.6 867.0,2207.9 867.4,2207.9 868.0,2211.9 869.0,2212.2 870.0,2213.2 871.0,2212.0 872.0,2210.9 873.0,2209.5 874.0,2210.8 875.0,2208.8 876.0,2212.7 877.0,2213.0 878.0,2214.4 879.0,2209.7 880.0,2210.4 881.0,2213.4 882.0,2213.0 883.0,2209.5 884.0,2211.5 885.0,2212.7 886.0,2212.0 887.0,2213.1 888.0,2212.6 889.0,2211.8 890.0,2213.2 891.0,2212.5 892.0,2214.3 893.0,2210.5 894.0,2212.3 895.0,2211.6 896.0,2212.3 897.0,2213.2 898.0,2213.6 899.0,2209.5 900.0,2214.4 901.0,2213.4 902.0,2213.4 903.0,2212.7 904.0,2214.1 905.0,2213.3 906.0,2210.0 907.0,2211.6 908.0,2212.3 909.0,2212.1 910.0,2212.0 911.0,2213.5 912.0,2210.9 913.0,2211.5 914.0,2211.1 915.0,2212.5 916.0,2213.2 917.0,2211.2 918.0,2213.1 919.0,2211.7 920.0,2214.6 921.0,2209.2 922.0,2212.5 923.0,2214.2 924.0,2211.9 925.0,2210.7 926.0,2211.1 927.0,2213.2 928.0,2211.5 929.0,2213.8 930.0,2212.2 931.0,2211.3 932.0,2211.4 933.0,2212.6 934.0,2213.3 935.0,2210.4 936.0,2209.7 937.0,2209.5 938.0,2211.6 939.0,2213.3 940.0,2209.3 941.0,2210.4 942.0,2207.8 942.5,2209.2 943.0,2204.9 943.5,2207.1 944.0,2203.3 944.5,2202.8 945.0,2203.2 945.5,2200.8 946.0,2199.3 946.5,2198.5 947.0,2196.6 947.5,2197.4 948.0,2196.0 948.5,2193.9 949.0,2196.2 949.5,2196.9 950.0,2198.8 950.5,2203.8 951.0,2201.5 951.5,2206.0 952.0,2207.5 952.5,2210.4 953.0,2207.1 953.5,2208.2 954.0,2208.9 955.0,2208.8 956.0,2212.7 957.0,2213.5 958.0,2207.5 959.0,2210.8 960.0,2213.3 961.0,2210.1 962.0,2210.8 963.0,2212.0 964.0,2212.0 965.0,2211.8 966.0,2212.0 967.0,2215.0 968.0,2208.8 969.0,2211.6 970.0,2210.7 971.0,2212.8 972.0,2211.8 973.0,2213.2 974.0,2212.5 975.0,2216.0 976.0,2210.5 977.0,2211.8 978.0,2213.9 979.0,2212.0 980.0,2212.8 981.0,2210.3 982.0,2213.6 983.0,2212.4 984.0,2213.4 985.0,2211.2 986.0,2211.7 987.0,2211.3 988.0,2215.1 989.0,2209.9 990.0,2213.2 991.0,2212.9 992.0,2214.5 993.0,2212.9 994.0,2210.9 995.0,2213.3 996.0,2209.8 997.0,2214.0 998.0,2212.3 999.0,2211.3 1000.0,2211.6 1001.0,2213.2 1002.0,2209.7 1003.0,2214.8 1004.0,2211.1 1005.0,2214.4 1006.0,2212.2 1007.0,2214.8 1008.0,2209.9 1009.0,2212.9 1010.0,2211.2 1011.0,2210.0 1012.0,2211.8 1012.5,2209.9 1013.0,2208.8 1013.5,2209.2 1014.0,2207.8 1014.5,2208.2 1015.0,2207.8 1015.5,2208.8 1016.0,2206.3 1016.5,2204.6 1017.0,2206.3 1017.5,2204.1 1018.0,2203.0 1018.5,2202.8 1019.0,2207.7 1019.5,2205.5 1020.0,2208.8 1020.5,2205.6 1021.0,2206.1 1021.5,2211.0 1022.0,2208.5 1022.5,2209.0 1023.0,2209.3 1023.5,2208.4 1024.0,2211.8 1025.0,2208.8 1026.0,2212.1 1027.0,2209.5 1028.0,2215.2 1029.0,2212.4 1030.0,2213.0 1031.0,2208.8 1032.0,2211.9 1033.0,2210.3 1034.0,2209.9 1035.0,2209.8 1036.0,2212.2 1037.0,2210.8 1038.0,2209.8 1039.0,2209.3 1040.0,2208.9 1041.0,2208.5 1042.0,2208.2 1043.0,2206.0 1044.0,2205.1 1044.5,2202.4 1045.0,2204.8 1045.5,2204.6 1046.0,2201.7 1046.5,2203.1 1047.0,2198.1 1047.5,2197.5 1048.0,2197.2 1048.5,2193.9 1049.0,2190.7 1049.5,2191.3 1050.0,2189.7 1050.5,2192.4 1051.0,2193.0 1051.5,2193.2 1052.0,2196.3 1052.5,2200.1 1053.0,2201.0 1053.5,2202.3 1054.0,2202.1 1054.5,2202.8 1055.0,2203.6 1055.5,2207.2 1056.0,2204.8 1057.0,2208.3 1058.0,2211.0 1059.0,2206.8 1060.0,2210.2 1061.0,2208.6 1062.0,2210.2 1063.0,2211.4 1064.0,2209.2 1065.0,2208.9 1066.0,2210.3 1067.0,2211.3 1068.0,2210.4 1069.0,2209.5 1070.0,2212.0 1071.0,2209.2 1072.0,2208.5 1073.0,2210.7 1074.0,2213.5 1075.0,2209.1 1075.5,2209.4 1076.0,2207.7 1076.5,2208.0 1077.0,2206.7 1077.5,2208.4 1078.0,2206.4 1078.5,2205.6 1079.0,2207.5 1079.5,2203.2 1080.0,2206.3 1080.5,2204.2 1081.0,2203.0 1081.5,2204.5 1082.0,2204.5 1082.5,2205.9 1083.0,2205.8 1083.5,2209.6 1084.0,2209.0 1084.5,2209.7 1085.0,2206.7 1085.5,2208.4 1086.0,2211.1 1086.5,2210.5 1087.0,2209.9 1088.0,2210.2 1089.0,2212.2 1090.0,2207.9 1091.0,2209.7 1092.0,2209.0 1093.0,2212.9 1094.0,2209.1 1095.0,2210.9 1096.0,2213.3 1097.0,2210.8 1098.0,2211.6 1099.0,2211.2 1100.0,2212.1 1101.0,2214.2 1102.0,2208.9 1103.0,2210.3 1104.0,2212.5 1105.0,2213.1 1105.5,2208.9 1106.0,2210.9 1106.5,2209.4 1107.0,2208.8 1107.5,2205.1 1108.0,2204.1 1108.5,2206.1 1109.0,2204.9 1109.5,2204.2 1110.0,2201.9 1110.5,2205.5 1111.0,2202.9 1111.5,2207.4 1112.0,2203.4 1112.5,2204.9 1113.0,2206.2 1113.5,2205.3 1114.0,2205.1 1114.5,2206.4 1115.0,2207.9 1115.5,2207.6 1116.0,2211.8 1116.5,2208.4 1117.0,2210.7 1118.0,2211.2 1119.0,2210.6 1120.0,2209.0 1121.0,2211.5 1122.0,2212.3 1123.0,2211.2 1124.0,2211.0 1125.0,2207.7 1126.0,2209.3 1127.0,2210.6 1128.0,2211.0 1129.0,2211.7 1130.0,2209.8 1131.0,2210.1 1131.5,2208.0 1132.0,2210.2 1132.5,2210.0 1133.0,2208.3 1133.5,2209.5 1134.0,2207.0 1134.5,2206.1 1135.0,2205.8 1135.5,2208.6 1136.0,2202.6 1136.5,2205.0 1137.0,2204.1 1137.5,2204.9 1138.0,2202.9 1138.5,2206.7 1139.0,2207.3 1139.5,2206.5 1140.0,2206.9 1140.5,2208.2 1141.0,2210.1 1141.5,2206.7 1142.0,2211.6 1142.5,2209.3 1143.0,2211.3 1144.0,2209.2 1145.0,2213.8 1146.0,2211.5 1147.0,2214.0 1148.0,2210.5 1149.0,2210.6 1150.0,2213.4 1151.0,2212.8 1152.0,2212.3 1153.0,2213.7 1154.0,2212.5 1155.0,2211.4 1156.0,2209.0 1157.0,2208.4 1158.0,2212.8 1159.0,2212.7 1160.0,2210.4 1161.0,2212.6 1162.0,2211.4 1163.0,2211.6 1164.0,2212.9 1165.0,2208.9 1166.0,2211.5 1167.0,2211.5 1168.0,2210.0 1168.5,2210.2 1169.0,2207.9 1169.5,2209.5 1170.0,2209.8 1170.5,2209.5 1171.0,2206.7 1171.5,2208.3 1172.0,2206.9 1172.5,2206.9 1173.0,2205.3 1173.5,2205.9 1174.0,2205.1 1174.5,2208.7 1175.0,2204.9 1175.5,2207.6 1176.0,2206.5 1176.5,2204.9 1177.0,2208.5 1177.5,2210.2 1178.0,2210.0 1178.5,2210.5 1179.0,2208.5 1179.5,2210.6 1180.0,2208.3 1181.0,2213.5 1182.0,2213.6 1183.0,2209.9 1184.0,2211.1 1185.0,2210.0 1186.0,2210.9 1187.0,2211.4 1188.0,2210.4 1189.0,2211.6 1190.0,2213.3 1191.0,2211.9 1192.0,2213.5 1193.0,2212.2 1194.0,2212.7 1195.0,2210.6 1196.0,2214.0 1197.0,2210.9 1198.0,2212.1 1199.0,2210.7 1200.0,2213.4 1201.0,2211.1 1202.0,2213.5 1203.0,2215.6 1204.0,2213.2 1205.0,2209.3 1206.0,2214.2 1207.0,2213.0 1208.0,2213.6 1209.0,2213.3 1210.0,2214.5 1211.0,2214.2 1212.0,2212.6 1213.0,2210.8 1214.0,2212.5 1215.0,2213.8 1216.0,2209.7 1217.0,2212.7 1218.0,2209.7 1219.0,2214.1 1220.0,2215.1 1221.0,2213.5 1222.0,2211.3 1223.0,2213.0 1224.0,2213.5 1225.0,2213.6 1226.0,2212.7 1226.5,2211.9 1227.0,2208.4 1227.5,2209.3 1228.0,2209.7 1228.5,2208.5 1229.0,2204.8 1229.5,2206.8 1230.0,2205.3 1230.5,2206.1 1231.0,2205.7 1231.5,2202.7 1232.0,2203.5 1232.5,2205.1 1233.0,2203.6 1233.5,2205.7 1234.0,2205.1 1234.5,2206.0 1235.0,2209.0 1235.5,2208.1 1236.0,2208.0 1236.5,2211.7 1237.0,2209.3 1237.5,2210.1 1238.0,2210.4 1239.0,2215.5 1240.0,2212.2 1241.0,2212.8 1242.0,2211.0 1243.0,2213.0 1244.0,2213.4 1245.0,2209.8 1246.0,2212.2 1247.0,2213.8 1248.0,2213.8 1249.0,2210.9 1250.0,2213.5 1250.5,2208.5 1251.0,2210.7 1251.5,2209.4 1252.0,2206.4 1252.5,2208.8 1253.0,2204.6 1253.5,2204.7 1254.0,2204.7 1254.5,2202.2 1255.0,2205.2 1255.5,2202.3 1256.0,2200.9 1256.5,2203.4 1257.0,2203.4 1257.5,2202.5 1258.0,2204.2 1258.5,2207.2 1259.0,2208.0 1259.5,2205.2 1260.0,2209.8 1260.5,2210.4 1261.0,2211.3 1261.5,2209.3 1262.0,2209.3 1263.0,2211.0 1264.0,2210.7 1265.0,2211.7 1266.0,2211.5 1267.0,2212.2 1268.0,2212.1 1269.0,2213.1 1270.0,2213.4 1271.0,2212.9 1272.0,2212.5 1273.0,2215.9 1274.0,2214.9 1275.0,2214.3 1276.0,2212.3 1277.0,2214.7 1278.0,2213.5 1279.0,2214.7 1280.0,2214.2 1281.0,2217.7 1282.0,2214.0 1283.0,2212.4 1284.0,2215.6 1285.0,2215.8 1286.0,2216.1 1287.0,2210.1 1288.0,2212.7 1289.0,2212.9 1290.0,2211.6 1291.0,2214.3 1292.0,2215.2 1293.0,2215.8 1294.0,2215.6 1295.0,2214.2 1296.0,2216.6 1297.0,2214.6 1298.0,2210.0 1299.0,2213.8 1300.0,2213.1 1301.0,2214.8 1302.0,2213.6 1303.0,2213.8 1304.0,2216.4 1305.0,2213.2 1306.0,2212.2 1307.0,2214.7 1308.0,2215.3 1309.0,2214.2 1310.0,2214.3 1311.0,2213.4 1312.0,2212.3 1313.0,2213.2 1314.0,2212.7 1315.0,2216.2 1316.0,2213.9 1317.0,2216.5 1318.0,2214.1 1319.0,2212.9 1320.0,2214.6 1321.0,2214.6 1322.0,2216.3 1323.0,2211.2 1324.0,2213.6 1325.0,2214.8 1326.0,2213.0 1327.0,2214.2 1328.0,2213.5 1329.0,2216.1 1330.0,2215.7 1331.0,2210.4 1332.0,2211.0 1333.0,2211.9 1334.0,2212.6 1335.0,2212.0 1335.5,2211.1 1336.0,2212.5 1336.5,2212.5 1337.0,2210.8 1337.5,2209.7 1338.0,2209.6 1338.5,2207.7 1339.0,2209.6 1339.5,2209.1 1340.0,2205.9 1340.5,2209.2 1341.0,2206.8 1341.5,2208.3 1342.0,2207.4 1342.5,2207.6 1343.0,2209.5 1343.5,2207.6 1344.0,2209.3 1344.5,2208.4 1345.0,2211.5 1345.5,2210.9 1346.0,2211.2 1346.5,2211.2 1347.0,2213.4 1348.0,2213.3 1349.0,2213.0 1350.0,2212.9 1351.0,2216.6 1352.0,2216.3 1353.0,2212.5 1354.0,2216.2 1355.0,2215.2 1356.0,2215.0 1357.0,2215.3 1358.0,2212.6 1359.0,2218.5 1360.0,2217.9 1361.0,2214.9 1362.0,2214.9 1363.0,2215.1 1364.0,2213.9 1365.0,2215.8 1366.0,2214.9 1367.0,2213.4 1368.0,2214.3 1369.0,2214.1 1370.0,2214.2 1371.0,2214.6 1372.0,2216.1 1373.0,2214.5 1374.0,2212.7 1375.0,2217.3 1376.0,2214.3 1377.0,2217.4 1378.0,2215.6 1379.0,2216.0 1380.0,2213.9 1381.0,2215.4 1382.0,2214.7 1383.0,2215.2 1384.0,2216.0 1385.0,2214.7 1386.0,2216.5 1387.0,2213.1 1388.0,2213.7 1389.0,2216.0 1390.0,2216.1 1391.0,2216.9 1392.0,2217.8 1393.0,2216.0 1394.0,2216.5 1395.0,2215.8 1396.0,2215.6 1397.0,2215.2 1398.0,2215.6 1399.0,2214.6 1400.0,2215.2 1401.0,2216.6 1402.0,2216.2 1403.0,2217.2 1404.0,2214.7 1405.0,2214.9 1406.0,2216.1 1407.0,2214.2 1408.0,2214.1 1409.0,2216.4 1410.0,2215.0 1411.0,2216.8 1412.0,2215.6 1413.0,2214.8 1414.0,2213.9 1415.0,2217.3 1416.0,2215.3 1417.0,2214.1 1418.0,2213.2 1419.0,2213.6 1420.0,2214.8 1421.0,2217.3 1422.0,2214.1 1423.0,2215.9 1424.0,2215.8 1425.0,2210.4 1426.0,2213.5 1427.0,2216.7 1428.0,2212.3 1429.0,2217.1 1430.0,2215.5 1431.0,2212.9 1432.0,2218.3 1433.0,2215.2 1434.0,2217.8 1435.0,2215.8 1436.0,2214.3 1437.0,2217.1 1438.0,2218.2 1439.0,2217.4 1440.0,2213.6 1441.0,2216.4 1442.0,2213.7 1443.0,2214.6 1444.0,2217.5 1445.0,2213.3 1446.0,2219.3 1447.0,2213.1 1448.0,2213.5 1449.0,2216.6 1450.0,2215.2 1451.0,2215.3 1452.0,2214.1 1453.0,2216.6 1454.0,2215.8 1455.0,2215.4 1456.0,2214.2 1457.0,2213.2 1458.0,2215.5 1459.0,2212.2 1460.0,2214.5 1461.0,2216.5 1462.0,2216.5 1463.0,2214.9 1464.0,2211.6 1465.0,2216.3 1466.0,2216.9 1467.0,2215.6 1468.0,2217.5 1469.0,2217.1 1470.0,2213.0 1471.0,2215.2 1472.0,2214.8 1473.0,2217.9 1474.0,2217.2 1475.0,2215.7 1476.0,2216.4 1477.0,2216.9 1478.0,2214.5 1479.0,2215.3 1480.0,2215.4 1481.0,2214.9 1482.0,2215.1 1483.0,2215.9 1484.0,2213.6 1485.0,2213.8 1486.0,2216.8 1487.0,2217.9 1488.0,2218.4 1489.0,2212.9 1490.0,2216.2 1491.0,2214.3 1492.0,2214.8 1493.0,2215.2 1494.0,2216.2 1495.0,2216.4 1496.0,2211.9 1497.0,2214.7 1498.0,2217.2 1499.0,2215.8 1500.0,2213.1 1501.0,2214.1 1502.0,2214.4 1503.0,2217.1 1504.0,2218.3 1505.0,2213.9 1506.0,2216.4 1507.0,2215.2 1508.0,2216.5 1509.0,2215.2 1510.0,2213.9 1511.0,2214.6 1512.0,2214.6 1513.0,2217.8 1514.0,2214.4 1515.0,2216.4 1516.0,2214.3 1517.0,2214.6 1518.0,2215.9 1519.0,2214.7 1520.0,2218.6 1521.0,2217.6 1522.0,2213.9 1523.0,2216.4 1524.0,2217.9 1525.0,2213.8 1526.0,2215.0 1527.0,2217.9 1528.0,2214.4 1529.0,2216.6 1530.0,2215.5 1531.0,2215.9 1532.0,2214.0 1533.0,2215.5 1534.0,2215.0 1535.0,2218.3 1536.0,2216.6 1537.0,2215.8 1538.0,2215.6 1539.0,2216.7 1540.0,2213.2 1541.0,2214.1 1542.0,2214.2 1543.0,2214.4 1544.0,2213.1 1545.0,2216.4 1546.0,2214.9 1547.0,2217.6 1548.0,2215.5 1549.0,2215.1 1550.0,2216.3 1551.0,2216.3 1552.0,2215.2 1553.0,2216.5 1554.0,2217.6 1555.0,2215.0 1556.0,2217.6 1557.0,2215.4 1558.0,2217.0 1559.0,2215.6 1560.0,2215.1 1561.0,2216.1 1562.0,2214.0 1563.0,2213.2 1564.0,2215.6 1565.0,2215.3 1566.0,2214.0 1567.0,2218.9 1568.0,2216.3 1569.0,2214.6 1570.0,2216.5 1571.0,2216.5 1572.0,2215.1 1573.0,2215.3 1574.0,2212.9 1575.0,2216.0 1576.0,2218.6 1577.0,2217.5 1578.0,2217.3 1579.0,2214.8 1580.0,2214.1 1581.0,2217.1 1582.0,2216.2 1583.0,2215.4 1584.0,2215.2 1585.0,2217.2 1586.0,2216.7 1587.0,2215.0 1588.0,2215.6 1589.0,2213.2 1590.0,2213.9 1591.0,2216.6 1592.0,2215.0 1593.0,2214.4 1594.0,2216.2 1595.0,2217.7 1596.0,2214.5 1597.0,2215.3 1598.0,2215.4 1599.0,2219.5 1600.0,2217.3 1601.0,2216.2 1602.0,2213.6 1603.0,2216.9 1604.0,2216.6 1605.0,2215.5 1606.0,2214.6 1607.0,2215.1 1608.0,2213.3 1609.0,2215.2 1610.0,2215.1 1611.0,2214.4 1612.0,2215.3 1613.0,2213.4 1614.0,2217.5 1615.0,2215.5 1616.0,2214.0 1617.0,2217.0 1618.0,2216.6 1619.0,2215.0 1620.0,2213.8 1621.0,2215.7 1622.0,2216.5 1623.0,2216.8 1624.0,2217.2 1625.0,2217.1 1626.0,2213.6 1627.0,2216.0 1628.0,2213.0 1629.0,2217.3 1630.0,2216.4 1631.0,2217.3 1632.0,2215.9 1633.0,2215.8 1634.0,2215.0 1635.0,2211.6 1636.0,2215.5 1637.0,2219.7 1638.0,2217.8 1639.0,2215.5 1640.0,2216.3 1641.0,2216.5 1642.0,2215.0 1643.0,2215.9 1644.0,2216.4 1645.0,2215.1 1646.0,2216.6 1647.0,2217.7 1648.0,2217.1 1649.0,2216.3 1650.0,2215.6 1651.0,2217.0 1652.0,2215.1 1653.0,2214.9 1654.0,2217.8 1655.0,2215.4 1656.0,2213.9 1657.0,2217.2 1658.0,2217.0 1659.0,2217.6 1660.0,2215.8 1661.0,2217.7 1662.0,2215.7 1663.0,2214.4 1664.0,2215.7 1665.0,2216.3 1666.0,2214.3 1667.0,2215.7 1668.0,2216.3 1669.0,2215.3 1670.0,2216.1 1671.0,2215.9 1672.0,2214.8 1673.0,2216.5 1674.0,2216.9 1675.0,2213.0 1676.0,2215.0 1677.0,2217.2 1678.0,2216.7 1679.0,2213.2 1680.0,2216.4 1681.0,2218.1 1682.0,2217.4 1683.0,2217.2 1684.0,2215.9 1685.0,2216.2 1686.0,2214.3 1687.0,2216.1 1688.0,2219.5 1689.0,2216.1 1690.0,2214.7 1691.0,2216.9 1692.0,2213.0 1693.0,2219.5 1694.0,2217.0 1695.0,2215.7 1696.0,2215.6 1697.0,2214.8 1698.0,2216.3 1699.0,2216.2 1700.0,2213.8 1701.0,2217.6 1702.0,2215.6 1703.0,2214.5 1704.0,2217.6 1705.0,2217.3 1706.0,2215.3 1707.0,2215.2 1708.0,2217.8 1709.0,2215.6 1710.0,2216.5 1711.0,2218.3 1712.0,2214.4 1713.0,2213.9 1714.0,2214.9 1715.0,2215.3 1716.0,2216.3 1717.0,2217.7 1718.0,2215.6 1719.0,2218.8 1720.0,2216.6 1721.0,2213.3 1722.0,2216.2 1723.0,2217.3 1724.0,2217.9 1725.0,2215.2 1726.0,2216.1 1727.0,2219.6 1728.0,2216.5 1729.0,2214.9 1730.0,2214.0 1731.0,2215.6 1732.0,2216.9 1733.0,2214.6 1734.0,2218.4 1735.0,2215.2 1736.0,2213.5 1737.0,2217.3 1738.0,2216.4 1739.0,2216.0 1740.0,2218.3 1741.0,2215.4 1742.0,2217.4 1743.0,2215.6 1744.0,2218.8 1745.0,2216.4 1746.0,2216.4 1747.0,2217.3 1748.0,2216.3 1749.0,2217.1 1750.0,2216.0 1751.0,2217.3 1752.0,2216.5 1753.0,2215.6 1754.0,2217.3 1755.0,2217.1 1756.0,2214.8 1757.0,2216.0 1758.0,2213.9 1759.0,2216.6 1760.0,2217.7 1761.0,2220.1 1762.0,2216.9 1763.0,2218.0 1764.0,2218.6 1765.0,2217.5 1766.0,2213.6 1767.0,2215.7 1768.0,2217.0 1769.0,2216.9 1770.0,2216.6 1771.0,2215.1 1772.0,2213.7 1773.0,2217.0 1774.0,2218.2 1775.0,2215.8 1776.0,2217.3 1777.0,2215.7 1778.0,2216.3 1779.0,2215.6 1780.0,2217.7 1781.0,2215.1 1782.0,2216.7 1783.0,2217.8 1784.0,2216.5 1785.0,2214.7 1786.0,2217.1 1787.0,2216.2 1788.0,2214.6 1789.0,2216.2 1790.0,2216.1 1791.0,2217.4 1792.0,2215.8 1793.0,2216.7 1794.0,2217.4 1795.0,2213.7 1796.0,2218.0 1797.0,2216.5 1798.0,2215.0 1799.0,2216.7 1800.0,2218.1 1801.0,2215.5 1802.0,2215.7 1803.0,2218.6 1804.0,2218.9 1805.0,2219.5 1806.0,2216.6 1807.0,2215.1 1808.0,2215.1 1809.0,2216.1 1810.0,2215.1 1811.0,2217.2 1812.0,2218.4 1813.0,2215.0 1814.0,2218.8 1815.0,2215.2 1816.0,2215.5 1817.0,2214.5 1818.0,2217.7 1819.0,2216.5 1820.0,2216.6 1821.0,2212.3 1822.0,2215.7 1823.0,2217.0 1824.0,2212.5 1825.0,2219.5 1826.0,2217.1 1827.0,2218.2 1828.0,2216.2 1829.0,2218.0 1830.0,2218.5 1831.0,2220.5 1832.0,2215.1 1833.0,2219.8 1834.0,2215.1 1835.0,2216.9 1836.0,2216.1 1837.0,2216.4 1838.0,2213.8 1839.0,2216.3 1840.0,2214.9 1841.0,2216.4 1842.0,2217.1 1843.0,2216.8 1844.0,2216.6 1845.0,2218.8 1846.0,2217.3 1847.0,2217.7 1848.0,2218.8 1849.0,2216.7 1850.0,2216.9 1851.0,2217.8 1852.0,2216.4 1853.0,2218.7 1854.0,2215.9 1855.0,2216.5 1856.0,2216.6 1857.0,2216.3 1858.0,2216.8 1859.0,2216.1 1860.0,2213.2 1861.0,2218.5 1862.0,2216.2 1863.0,2217.9 1864.0,2215.2 1865.0,2217.7 1866.0,2214.9 1867.0,2219.0 1868.0,2216.6 1869.0,2216.1 1870.0,2212.5 1871.0,2213.4 1872.0,2216.0 1873.0,2215.8 1874.0,2215.8 1875.0,2216.0 1876.0,2218.2 1877.0,2216.2 1878.0,2216.2 1879.0,2215.6 1880.0,2215.2 1881.0,2217.3 1882.0,2216.1 1883.0,2216.2 1884.0,2217.2 1885.0,2216.9 1886.0,2217.9 1887.0,2217.9 1888.0,2214.9 1889.0,2215.6 1890.0,2218.2 1891.0,2216.2 1892.0,2217.7 1893.0,2215.5 1894.0,2213.2 1895.0,2213.5 1896.0,2215.8 1897.0,2216.2 1898.0,2220.3 1899.0,2218.0 1900.0,2217.9 1901.0,2218.2 1902.0,2214.5 1903.0,2216.9 1904.0,2216.7 1905.0,2219.8 1906.0,2215.8 1907.0,2214.7 1908.0,2217.0 1909.0,2216.6 1910.0,2217.1 1911.0,2217.3 1912.0,2217.2 1913.0,2216.0 1914.0,2216.3 1915.0,2220.4 1916.0,2216.0 1917.0,2217.7 1918.0,2215.5 1919.0,2214.4 1920.0,2218.3 1921.0,2217.3 1922.0,2219.0 1923.0,2218.6 1924.0,2217.4 1925.0,2215.9 1926.0,2220.0 1927.0,2217.2 1928.0,2220.3 1929.0,2218.2 1930.0,2218.5 1931.0,2218.1 1932.0,2217.9 1933.0,2216.9 1934.0,2220.7 1935.0,2215.9 1936.0,2215.0 1937.0,2217.7 1938.0,2216.3 1939.0,2218.7 1940.0,2217.0 1941.0,2219.0 1942.0,2217.4 1943.0,2216.1 1944.0,2216.8 1945.0,2218.3 1946.0,2216.4 1947.0,2216.0 1948.0,2217.0 1949.0,2217.7 1950.0,2219.1 1951.0,2217.9 1952.0,2218.6 1953.0,2217.0 1954.0,2220.0 1955.0,2220.5 1956.0,2216.3 1957.0,2217.6 1958.0,2217.1 1959.0,2217.8 1960.0,2216.8 1961.0,2216.2 1962.0,2215.4 1963.0,2216.5 1964.0,2217.3 1965.0,2218.8 1966.0,2218.1 1967.0,2216.7 1968.0,2216.3 1969.0,2215.1 1970.0,2218.3 1971.0,2217.4 1972.0,2218.2 1973.0,2218.4 1974.0,2218.1 1975.0,2217.2 1976.0,2216.9 1977.0,2215.8 1978.0,2216.4 1979.0,2217.9 1980.0,2220.7 1981.0,2216.7 1982.0,2217.6 1983.0,2222.1 1984.0,2217.4 1985.0,2216.8 1986.0,2217.3 1987.0,2216.9 1988.0,2214.4 1989.0,2218.5 1990.0,2214.6 1991.0,2216.4 1992.0,2216.6 1993.0,2217.9 1994.0,2216.9 1995.0,2216.5 1996.0,2215.9 1997.0,2217.6 1998.0,2216.7 1999.0,2216.1 2000.0,2215.2 2001.0,2215.9 2002.0,2217.4 2003.0,2214.8 2004.0,2217.3 2005.0,2217.3 2006.0,2218.8 2007.0,2216.1 2008.0,2215.7 2009.0,2217.0 2010.0,2216.5 2011.0,2213.2 2012.0,2218.9 2013.0,2217.5 2014.0,2217.3 2015.0,2215.9 2016.0,2217.6 2017.0,2216.7 2018.0,2219.5 2019.0,2218.2 2020.0,2219.2 2021.0,2215.3 2022.0,2215.8 2023.0,2216.5 2024.0,2216.2 2025.0,2219.5 2026.0,2217.7 2027.0,2215.5 2028.0,2216.7 2029.0,2219.9 2030.0,2216.7 2031.0,2218.1 2032.0,2214.6 2033.0,2216.3 2034.0,2216.9 2035.0,2216.8 2036.0,2217.2 2037.0,2217.7 2038.0,2218.9 2039.0,2214.6 2040.0,2217.3 2041.0,2218.2 2042.0,2217.5 2043.0,2218.9 2044.0,2217.0 2045.0,2216.6 2046.0,2216.0 2047.0,2218.6 2048.0,2215.3 2049.0,2216.6 2050.0,2217.1 2051.0,2218.1 2052.0,2216.8 2053.0,2215.8 2054.0,2218.1 2055.0,2215.5 2056.0,2216.1 2057.0,2214.2 2058.0,2217.5 2059.0,2217.4 2060.0,2214.6 2061.0,2216.9 2062.0,2218.0 2063.0,2216.2 2064.0,2214.7 2065.0,2217.0 2066.0,2218.1 2067.0,2214.4 2068.0,2218.5 2069.0,2217.1 2070.0,2218.6 2071.0,2215.7 2072.0,2218.6 2073.0,2217.7 2074.0,2218.4 2075.0,2217.3 2076.0,2218.7 2077.0,2217.0 2078.0,2216.6 2079.0,2215.7 2080.0,2214.9 2081.0,2217.3 2082.0,2216.7 2083.0,2217.1 2084.0,2216.8 2085.0,2217.8 2086.0,2217.3 2087.0,2216.4 2088.0,2218.4 2089.0,2220.4 2090.0,2216.0 2091.0,2216.6 2092.0,2218.1 2093.0,2216.2 2094.0,2218.8 2095.0,2216.3 2096.0,2215.5 2097.0,2215.9 2098.0,2218.9 2099.0,2214.3 2100.0,2217.5 2101.0,2214.2 2102.0,2218.5 2103.0,2218.0 2104.0,2218.4 2105.0,2220.6 2106.0,2217.3 2107.0,2219.2 2108.0,2218.4 2109.0,2219.1 2110.0,2216.4 2111.0,2219.2 2112.0,2217.1 2113.0,2219.8 2114.0,2219.0 2115.0,2217.7 2116.0,2218.5 2117.0,2218.5" fill="none" stroke="#002060" stroke-width="4.5" stroke-linejoin="round" stroke-linecap="butt" shape-rendering="crispEdges"/>
<polyline points="166.0,1646.8 167.0,1647.9 168.0,1646.2 169.0,1645.8 170.0,1645.8 171.0,1646.3 172.0,1646.4 173.0,1646.7 174.0,1646.8 175.0,1646.4 176.0,1646.3 177.0,1645.7 178.0,1646.6 179.0,1646.7 180.0,1645.9 181.0,1646.3 182.0,1645.5 183.0,1645.8 184.0,1645.8 185.0,1646.1 186.0,1644.9 187.0,1645.6 188.0,1645.9 189.0,1645.6 190.0,1645.6 191.0,1644.0 192.0,1644.7 193.0,1644.8 194.0,1644.5 195.0,1643.6 196.0,1645.2 197.0,1644.6 198.0,1643.3 199.0,1643.9 200.0,1643.9 201.0,1644.0 202.0,1643.5 203.0,1642.2 204.0,1641.8 205.0,1641.5 206.0,1640.8 207.0,1638.5 207.3,1637.8 207.8,1637.2 208.0,1636.5 208.3,1636.2 208.8,1633.9 209.0,1633.2 209.3,1630.3 209.8,1627.5 210.0,1625.9 210.3,1623.8 210.8,1619.2 211.0,1616.4 211.3,1612.6 211.8,1603.8 212.0,1601.2 212.3,1595.9 212.8,1587.3 213.0,1585.7 213.3,1584.9 213.8,1588.5 214.0,1591.1 214.3,1596.3 214.8,1603.4 215.0,1607.6 215.3,1612.2 215.8,1618.7 216.0,1621.0 216.3,1622.9 216.8,1628.1 217.0,1629.0 217.3,1630.4 217.8,1634.0 218.0,1633.8 218.3,1635.3 218.8,1636.2 219.0,1636.3 219.3,1637.5 220.0,1639.1 221.0,1639.7 222.0,1641.4 223.0,1642.7 224.0,1642.9 225.0,1642.5 226.0,1642.5 227.0,1643.6 228.0,1642.6 229.0,1642.9 230.0,1644.4 231.0,1643.8 232.0,1643.9 233.0,1643.6 234.0,1645.2 235.0,1645.4 236.0,1643.8 237.0,1644.3 238.0,1643.7 239.0,1644.1 240.0,1644.6 241.0,1644.5 242.0,1643.8 243.0,1644.1 244.0,1645.3 245.0,1644.4 246.0,1644.6 247.0,1644.1 248.0,1643.8 249.0,1643.2 250.0,1643.3 251.0,1642.9 252.0,1643.2 253.0,1643.2 254.0,1644.0 255.0,1642.8 256.0,1643.8 257.0,1642.5 258.0,1644.8 259.0,1643.2 260.0,1643.5 261.0,1644.2 262.0,1643.2 263.0,1643.3 264.0,1643.2 265.0,1643.4 266.0,1642.7 267.0,1643.8 268.0,1643.4 269.0,1642.8 270.0,1643.2 271.0,1642.3 272.0,1641.9 273.0,1641.9 274.0,1641.9 275.0,1640.6 276.0,1640.8 277.0,1640.6 278.0,1639.0 279.0,1638.6 279.4,1637.3 279.9,1637.0 280.0,1636.7 280.4,1636.0 280.9,1634.1 281.0,1633.1 281.4,1631.3 281.9,1632.3 282.0,1629.1 282.4,1626.9 282.9,1622.6 283.0,1623.2 283.4,1618.8 283.9,1612.8 284.0,1610.5 284.4,1606.4 284.9,1600.0 285.0,1600.2 285.4,1598.1 285.9,1599.1 286.0,1601.1 286.4,1605.3 286.9,1613.5 287.0,1612.8 287.4,1618.1 287.9,1623.1 288.0,1623.6 288.4,1626.7 288.9,1630.0 289.0,1630.7 289.4,1632.1 289.9,1633.9 290.0,1634.3 290.4,1634.9 290.9,1636.3 291.0,1636.6 291.4,1637.8 292.0,1638.4 293.0,1639.3 294.0,1640.2 295.0,1639.8 296.0,1641.1 297.0,1640.6 298.0,1640.9 299.0,1640.8 300.0,1641.5 301.0,1640.9 302.0,1641.6 303.0,1641.1 304.0,1641.0 305.0,1641.5 306.0,1640.8 307.0,1641.8 308.0,1640.8 309.0,1640.9 310.0,1641.7 311.0,1640.3 312.0,1641.4 313.0,1640.9 314.0,1640.8 315.0,1640.8 316.0,1640.1 317.0,1641.3 318.0,1640.5 319.0,1640.4 320.0,1640.3 321.0,1640.2 322.0,1639.6 323.0,1638.7 324.0,1638.1 325.0,1637.7 326.0,1637.7 327.0,1637.8 328.0,1635.9 329.0,1635.5 330.0,1634.9 331.0,1632.9 332.0,1631.0 333.0,1627.8 334.0,1624.6 334.7,1620.5 335.0,1618.5 335.2,1617.2 335.7,1613.3 336.0,1610.6 336.2,1607.2 336.7,1601.1 337.0,1595.2 337.2,1591.0 337.7,1580.0 338.0,1571.7 338.2,1565.1 338.7,1545.9 339.0,1530.9 339.2,1522.8 339.7,1497.0 340.0,1483.0 340.2,1474.4 340.7,1466.9 341.0,1469.5 341.2,1474.9 341.7,1496.5 342.0,1511.0 342.2,1522.6 342.7,1546.1 343.0,1558.2 343.2,1565.7 343.7,1579.3 344.0,1587.4 344.2,1591.6 344.7,1600.1 345.0,1605.5 345.2,1608.9 345.7,1612.4 346.0,1615.9 346.2,1617.2 346.7,1620.6 347.0,1622.3 348.0,1627.1 349.0,1629.4 350.0,1631.7 351.0,1634.4 352.0,1634.8 353.0,1635.7 354.0,1635.6 355.0,1637.3 356.0,1637.8 357.0,1638.0 358.0,1638.9 359.0,1637.4 360.0,1639.0 361.0,1637.9 362.0,1638.3 363.0,1638.0 364.0,1639.4 365.0,1639.0 366.0,1638.9 367.0,1639.1 368.0,1638.0 369.0,1638.7 370.0,1639.0 371.0,1638.5 372.0,1638.6 373.0,1637.6 374.0,1638.3 375.0,1637.7 376.0,1637.5 377.0,1637.7 378.0,1636.2 379.0,1634.8 380.0,1633.9 381.0,1631.2 381.4,1631.5 381.9,1629.1 382.0,1628.7 382.4,1627.4 382.9,1624.0 383.0,1624.1 383.4,1621.4 383.9,1618.5 384.0,1617.2 384.4,1613.1 384.9,1605.4 385.0,1603.9 385.4,1597.4 385.9,1586.3 386.0,1584.0 386.4,1576.7 386.9,1567.4 387.0,1566.2 387.4,1562.8 387.9,1566.9 388.0,1568.3 388.4,1575.6 388.9,1586.8 389.0,1588.3 389.4,1596.2 389.9,1606.3 390.0,1607.1 390.4,1611.6 390.9,1618.4 391.0,1618.5 391.4,1621.6 391.9,1623.2 392.0,1625.9 392.4,1627.1 392.9,1629.7 393.0,1630.2 393.4,1630.0 394.0,1633.1 395.0,1634.4 396.0,1635.3 397.0,1635.0 398.0,1637.8 399.0,1637.5 400.0,1638.1 401.0,1637.4 402.0,1638.6 403.0,1638.7 404.0,1639.3 405.0,1638.1 406.0,1637.5 407.0,1638.3 408.0,1638.0 409.0,1638.5 410.0,1638.1 411.0,1638.0 412.0,1638.1 413.0,1637.7 413.2,1636.8 413.7,1635.5 414.0,1635.9 414.2,1635.6 414.7,1635.0 415.0,1634.4 415.2,1634.1 415.7,1631.8 416.0,1632.4 416.2,1631.7 416.7,1629.8 417.0,1628.2 417.2,1627.7 417.7,1623.7 418.0,1622.8 418.2,1622.0 418.7,1619.2 419.0,1618.6 419.2,1618.9 419.7,1619.2 420.0,1620.0 420.2,1621.2 420.7,1624.3 421.0,1625.2 421.2,1626.7 421.7,1628.6 422.0,1629.9 422.2,1630.8 422.7,1632.1 423.0,1632.3 423.2,1632.7 423.7,1633.5 423.8,1632.9 424.0,1633.5 424.2,1632.9 424.3,1634.1 424.7,1633.6 424.8,1633.0 425.0,1633.3 425.2,1633.9 425.3,1633.6 425.8,1632.2 426.0,1633.7 426.3,1632.5 426.8,1631.6 427.0,1630.8 427.3,1629.7 427.8,1627.7 428.0,1627.7 428.3,1626.4 428.8,1624.1 429.0,1623.8 429.3,1622.6 429.8,1621.3 430.0,1621.8 430.3,1623.2 430.8,1623.8 431.0,1626.5 431.3,1626.6 431.8,1630.4 432.0,1630.1 432.3,1630.2 432.8,1632.8 433.0,1633.1 433.3,1633.6 433.8,1634.8 434.0,1635.1 434.3,1633.9 434.8,1636.4 435.0,1636.1 435.3,1636.6 435.8,1637.3 436.0,1637.1 437.0,1637.0 438.0,1638.3 439.0,1638.0 440.0,1638.5 441.0,1638.1 442.0,1638.5 443.0,1638.2 444.0,1639.5 445.0,1638.2 446.0,1639.2 447.0,1637.8 448.0,1638.8 449.0,1638.6 450.0,1639.1 451.0,1638.7 452.0,1639.7 453.0,1639.9 454.0,1638.1 455.0,1638.6 456.0,1637.6 457.0,1637.4 458.0,1637.5 459.0,1637.6 460.0,1636.9 460.5,1636.1 461.0,1636.3 461.5,1634.6 462.0,1634.0 462.5,1633.5 463.0,1631.5 463.5,1631.6 464.0,1629.1 464.5,1626.9 465.0,1625.2 465.5,1622.7 466.0,1622.6 466.5,1622.5 467.0,1624.8 467.5,1627.0 468.0,1629.8 468.5,1630.7 469.0,1632.8 469.5,1633.2 470.0,1633.3 470.5,1635.1 471.0,1635.3 471.5,1635.4 472.0,1636.5 473.0,1635.9 474.0,1636.6 475.0,1637.3 476.0,1637.4 477.0,1636.7 478.0,1637.1 479.0,1637.0 480.0,1637.1 481.0,1636.5 482.0,1635.3 483.0,1635.8 484.0,1636.3 485.0,1634.5 486.0,1633.9 487.0,1633.1 487.3,1632.1 487.8,1630.8 488.0,1630.9 488.3,1630.0 488.8,1628.3 489.0,1627.9 489.3,1626.2 489.8,1623.8 490.0,1622.9 490.3,1621.6 490.8,1618.0 491.0,1616.1 491.3,1614.2 491.8,1608.9 492.0,1606.5 492.3,1604.1 492.8,1600.3 493.0,1598.9 493.3,1597.7 493.8,1599.9 494.0,1601.4 494.3,1603.7 494.8,1608.5 495.0,1610.7 495.3,1613.7 495.8,1617.0 496.0,1620.3 496.3,1621.6 496.8,1625.4 497.0,1625.4 497.3,1626.3 497.8,1628.9 498.0,1629.1 498.3,1630.4 498.8,1630.8 499.0,1631.2 499.3,1631.6 500.0,1632.7 501.0,1634.3 502.0,1634.1 503.0,1635.4 504.0,1636.2 505.0,1635.5 506.0,1636.1 507.0,1635.9 508.0,1636.2 509.0,1636.6 510.0,1636.9 511.0,1637.0 512.0,1636.2 513.0,1636.9 514.0,1636.2 515.0,1635.9 516.0,1635.9 517.0,1635.3 518.0,1636.1 519.0,1635.0 520.0,1635.8 521.0,1636.7 522.0,1634.6 523.0,1633.6 524.0,1634.2 525.0,1632.7 526.0,1632.1 527.0,1630.6 527.7,1629.3 528.0,1629.5 528.2,1628.0 528.7,1626.4 529.0,1625.0 529.2,1623.9 529.7,1621.4 530.0,1619.4 530.2,1619.0 530.7,1614.6 531.0,1612.2 531.2,1610.0 531.7,1605.1 532.0,1600.0 532.2,1597.7 532.7,1590.6 533.0,1588.1 533.2,1585.7 533.7,1583.9 534.0,1583.9 534.2,1586.1 534.7,1591.7 535.0,1595.4 535.2,1596.8 535.7,1604.4 536.0,1607.2 536.2,1609.0 536.7,1614.0 537.0,1617.7 537.2,1618.4 537.7,1621.1 538.0,1623.4 538.2,1624.3 538.7,1626.0 539.0,1627.4 539.2,1627.5 539.7,1629.6 540.0,1630.1 541.0,1631.4 542.0,1632.8 543.0,1633.9 544.0,1634.0 545.0,1634.8 546.0,1634.8 547.0,1634.9 548.0,1634.3 549.0,1634.7 550.0,1634.8 551.0,1635.3 552.0,1636.5 553.0,1634.5 554.0,1634.4 555.0,1633.6 556.0,1633.3 557.0,1632.4 557.5,1632.2 558.0,1630.3 558.5,1630.2 559.0,1628.7 559.5,1626.8 560.0,1624.2 560.5,1621.8 561.0,1619.1 561.5,1616.1 562.0,1612.4 562.5,1609.6 563.0,1609.1 563.5,1609.4 564.0,1612.9 564.5,1617.4 565.0,1619.0 565.5,1622.9 566.0,1624.5 566.5,1627.1 567.0,1629.1 567.5,1630.7 568.0,1631.2 568.5,1632.8 569.0,1632.2 570.0,1633.8 571.0,1634.7 572.0,1635.3 573.0,1635.5 574.0,1636.8 575.0,1636.0 576.0,1636.8 577.0,1636.7 578.0,1637.6 579.0,1636.6 580.0,1637.1 581.0,1637.1 582.0,1635.2 583.0,1637.0 584.0,1637.3 585.0,1637.5 586.0,1636.0 586.7,1636.3 587.0,1637.0 587.2,1635.8 587.7,1635.8 588.0,1636.4 588.2,1636.3 588.7,1636.4 589.0,1636.1 589.2,1635.6 589.7,1634.5 590.0,1634.5 590.2,1634.6 590.7,1634.3 591.0,1633.7 591.2,1633.9 591.7,1632.5 592.0,1632.4 592.2,1631.8 592.7,1633.3 593.0,1632.3 593.2,1632.9 593.7,1633.5 594.0,1633.4 594.2,1633.4 594.7,1633.9 595.0,1634.4 595.2,1633.8 595.7,1634.9 596.0,1635.8 596.2,1635.7 596.7,1636.3 597.0,1636.5 597.2,1636.5 597.7,1636.4 598.0,1636.6 598.2,1637.0 598.7,1636.5 599.0,1636.1 600.0,1637.3 601.0,1637.1 602.0,1637.7 603.0,1636.9 604.0,1636.5 605.0,1637.2 606.0,1637.0 607.0,1636.9 608.0,1638.2 609.0,1637.6 610.0,1636.9 611.0,1636.6 612.0,1637.4 613.0,1637.8 614.0,1637.6 615.0,1638.1 616.0,1637.6 617.0,1637.7 618.0,1636.5 619.0,1638.1 620.0,1637.2 621.0,1637.9 622.0,1636.7 623.0,1637.0 624.0,1638.0 625.0,1636.8 626.0,1637.5 627.0,1637.2 628.0,1638.2 629.0,1637.5 630.0,1637.9 631.0,1637.2 632.0,1636.3 633.0,1638.1 634.0,1636.7 635.0,1636.9 636.0,1636.7 637.0,1635.7 638.0,1636.6 639.0,1635.6 639.4,1634.7 639.9,1634.6 640.0,1634.1 640.4,1634.6 640.9,1634.4 641.0,1633.9 641.4,1634.0 641.9,1633.2 642.0,1633.4 642.4,1632.5 642.9,1631.5 643.0,1630.9 643.4,1629.8 643.9,1628.8 644.0,1629.2 644.4,1627.8 644.9,1627.9 645.0,1627.5 645.4,1626.2 645.9,1627.4 646.0,1627.9 646.4,1627.7 646.9,1629.7 647.0,1629.0 647.4,1631.1 647.9,1631.7 648.0,1631.5 648.4,1631.5 648.9,1633.0 649.0,1632.8 649.4,1633.9 649.9,1633.8 650.0,1634.5 650.4,1634.4 650.9,1635.2 651.0,1635.4 651.4,1635.3 652.0,1635.6 653.0,1636.2 654.0,1635.3 655.0,1636.1 656.0,1635.8 657.0,1636.3 658.0,1635.1 659.0,1635.2 659.2,1633.8 659.7,1634.9 660.0,1634.2 660.2,1634.0 660.7,1633.7 661.0,1632.3 661.2,1632.5 661.7,1631.8 662.0,1631.0 662.2,1630.5 662.7,1630.0 663.0,1628.6 663.2,1627.9 663.7,1626.5 664.0,1626.2 664.2,1625.9 664.7,1624.4 665.0,1623.8 665.2,1622.8 665.7,1623.6 666.0,1624.0 666.2,1624.5 666.7,1627.1 667.0,1627.1 667.2,1628.8 667.7,1629.6 668.0,1630.3 668.2,1630.7 668.7,1631.1 669.0,1632.2 669.2,1633.2 669.7,1633.8 670.0,1633.9 670.2,1634.3 670.7,1634.5 671.0,1634.9 671.2,1636.1 672.0,1635.4 673.0,1634.9 674.0,1635.0 675.0,1635.9 676.0,1636.6 677.0,1637.1 678.0,1636.7 679.0,1636.9 680.0,1637.2 681.0,1636.4 682.0,1636.9 683.0,1637.1 684.0,1636.8 685.0,1636.6 686.0,1637.2 687.0,1637.5 688.0,1637.0 689.0,1635.7 690.0,1636.5 691.0,1636.6 692.0,1637.0 693.0,1636.5 694.0,1636.4 695.0,1637.1 696.0,1637.1 697.0,1636.4 698.0,1635.6 699.0,1635.4 700.0,1636.1 701.0,1635.1 702.0,1635.1 703.0,1634.6 704.0,1634.1 705.0,1633.4 706.0,1631.5 706.8,1630.4 707.0,1630.5 707.3,1629.8 707.8,1627.9 708.0,1628.9 708.3,1626.4 708.8,1625.8 709.0,1623.6 709.3,1623.5 709.8,1619.5 710.0,1619.6 710.3,1617.3 710.8,1614.0 711.0,1611.7 711.3,1609.9 711.8,1606.3 712.0,1605.1 712.3,1603.3 712.8,1603.3 713.0,1601.9 713.3,1602.8 713.8,1605.5 714.0,1608.3 714.3,1609.3 714.8,1613.3 715.0,1614.7 715.3,1617.1 715.8,1620.3 716.0,1621.3 716.3,1622.3 716.8,1625.5 717.0,1626.0 717.3,1627.8 717.8,1628.7 718.0,1629.0 718.3,1629.0 718.8,1630.8 719.0,1631.4 720.0,1633.4 721.0,1633.7 722.0,1634.7 723.0,1635.1 724.0,1636.1 725.0,1636.2 726.0,1635.9 727.0,1635.3 728.0,1637.1 729.0,1636.4 730.0,1636.1 731.0,1635.9 732.0,1635.8 733.0,1636.9 734.0,1636.7 735.0,1637.0 736.0,1637.5 737.0,1636.6 738.0,1637.1 739.0,1636.7 740.0,1636.5 741.0,1635.8 742.0,1636.5 743.0,1637.4 744.0,1636.6 745.0,1636.9 746.0,1636.7 747.0,1637.5 748.0,1637.1 748.5,1635.9 749.0,1635.8 749.5,1636.4 750.0,1635.7 750.5,1635.3 751.0,1635.5 751.5,1634.8 752.0,1634.1 752.5,1635.1 753.0,1633.3 753.5,1632.1 754.0,1632.8 754.5,1632.9 755.0,1633.9 755.5,1633.7 756.0,1633.7 756.5,1634.7 757.0,1634.3 757.5,1635.1 758.0,1635.8 758.5,1635.4 759.0,1635.0 759.5,1635.7 760.0,1635.9 761.0,1636.8 762.0,1636.4 763.0,1636.8 764.0,1636.4 765.0,1636.9 766.0,1636.6 767.0,1637.2 768.0,1637.1 769.0,1637.7 770.0,1637.2 771.0,1636.8 772.0,1636.5 773.0,1637.0 774.0,1637.2 775.0,1637.5 776.0,1636.4 777.0,1635.9 778.0,1635.5 779.0,1635.7 780.0,1635.8 780.6,1635.6 781.0,1635.4 781.1,1635.5 781.6,1635.5 782.0,1634.2 782.1,1635.0 782.6,1634.6 783.0,1634.2 783.1,1634.0 783.6,1632.8 784.0,1633.5 784.1,1632.9 784.6,1632.5 785.0,1632.2 785.1,1631.9 785.6,1631.5 786.0,1631.1 786.1,1630.3 786.6,1630.0 787.0,1631.0 787.1,1630.3 787.6,1632.1 788.0,1630.9 788.1,1631.6 788.6,1632.0 789.0,1632.6 789.1,1632.1 789.6,1633.1 790.0,1634.3 790.1,1633.0 790.6,1632.5 791.0,1634.0 791.1,1633.9 791.6,1634.1 792.0,1633.4 792.1,1634.0 792.6,1634.2 793.0,1633.4 794.0,1633.3 794.9,1632.8 795.0,1632.8 795.4,1631.9 795.9,1631.4 796.0,1632.2 796.4,1631.5 796.9,1629.0 797.0,1630.4 797.4,1628.1 797.9,1627.4 798.0,1625.9 798.4,1625.0 798.9,1622.8 799.0,1623.2 799.4,1621.3 799.9,1619.5 800.0,1619.2 800.4,1618.1 800.9,1618.0 801.0,1617.6 801.4,1618.0 801.9,1619.1 802.0,1619.3 802.4,1621.0 802.9,1623.5 803.0,1624.2 803.4,1625.2 803.9,1628.0 804.0,1628.0 804.4,1628.6 804.9,1630.0 805.0,1630.1 805.4,1630.0 805.9,1632.2 806.0,1632.0 806.4,1631.7 806.9,1633.6 807.0,1632.9 808.0,1634.0 809.0,1633.9 810.0,1635.2 811.0,1635.8 812.0,1635.7 813.0,1636.1 814.0,1635.3 815.0,1636.7 816.0,1636.5 817.0,1636.6 818.0,1637.0 819.0,1637.3 820.0,1636.8 821.0,1637.3 822.0,1637.8 823.0,1636.4 824.0,1637.0 825.0,1636.1 826.0,1637.1 827.0,1637.6 828.0,1636.9 829.0,1636.3 830.0,1636.6 831.0,1637.1 832.0,1636.0 833.0,1636.0 834.0,1636.8 835.0,1635.7 835.5,1636.3 836.0,1635.6 836.5,1635.2 837.0,1636.2 837.5,1636.1 838.0,1634.9 838.5,1636.1 839.0,1634.7 839.5,1634.5 840.0,1634.0 840.5,1633.1 841.0,1634.1 841.5,1633.8 842.0,1634.2 842.5,1634.3 843.0,1634.4 843.5,1636.2 844.0,1635.5 844.5,1635.5 845.0,1636.1 845.5,1635.4 846.0,1636.3 846.5,1637.7 847.0,1636.1 848.0,1636.8 849.0,1636.1 850.0,1636.7 851.0,1637.3 852.0,1636.3 853.0,1636.3 854.0,1637.3 855.0,1636.8 856.0,1636.9 857.0,1636.7 858.0,1635.6 858.8,1635.1 859.0,1634.9 859.3,1636.0 859.8,1634.8 860.0,1634.6 860.3,1635.0 860.8,1634.9 861.0,1635.0 861.3,1633.7 861.8,1634.8 862.0,1633.5 862.3,1633.7 862.8,1633.0 863.0,1632.3 863.3,1632.7 863.8,1632.1 864.0,1632.3 864.3,1632.5 864.8,1632.5 865.0,1631.9 865.3,1631.9 865.8,1631.8 866.0,1631.4 866.3,1632.7 866.8,1632.8 867.0,1633.2 867.3,1633.4 867.8,1634.4 868.0,1634.2 868.3,1635.9 868.8,1635.5 869.0,1634.9 869.3,1635.6 869.8,1636.4 870.0,1635.1 870.3,1636.0 870.8,1635.8 871.0,1636.2 872.0,1636.2 873.0,1636.7 874.0,1637.0 875.0,1637.2 876.0,1636.2 877.0,1637.4 878.0,1637.1 879.0,1636.8 880.0,1637.1 881.0,1638.0 882.0,1637.1 883.0,1636.8 884.0,1637.6 885.0,1637.2 886.0,1637.6 887.0,1637.4 888.0,1638.0 889.0,1637.0 890.0,1637.1 891.0,1637.9 892.0,1638.2 893.0,1637.4 894.0,1638.0 895.0,1637.6 896.0,1637.3 897.0,1636.5 898.0,1638.4 899.0,1637.9 900.0,1636.2 901.0,1637.7 902.0,1637.0 903.0,1636.8 904.0,1637.0 905.0,1637.6 906.0,1637.2 907.0,1637.1 908.0,1637.0 909.0,1636.9 910.0,1637.2 911.0,1635.8 911.5,1636.1 912.0,1636.6 912.5,1636.0 913.0,1636.5 913.5,1636.1 914.0,1636.3 914.5,1635.8 915.0,1636.0 915.5,1635.5 916.0,1635.6 916.5,1634.8 917.0,1633.9 917.5,1634.8 918.0,1634.8 918.5,1634.7 919.0,1635.7 919.5,1635.7 920.0,1636.5 920.5,1635.7 921.0,1635.9 921.5,1636.6 922.0,1637.2 922.5,1636.2 923.0,1636.9 923.5,1636.7 924.0,1636.7 925.0,1637.4 926.0,1637.4 927.0,1637.4 928.0,1636.7 929.0,1637.1 930.0,1636.2 931.0,1637.4 932.0,1636.4 933.0,1636.9 934.0,1637.5 935.0,1636.9 936.0,1637.1 937.0,1636.6 938.0,1638.2 939.0,1636.2 940.0,1636.5 941.0,1636.6 942.0,1637.9 943.0,1636.1 944.0,1636.2 945.0,1636.4 946.0,1634.6 947.0,1635.7 948.0,1634.8 949.0,1634.6 949.5,1634.1 950.0,1633.0 950.5,1632.6 951.0,1630.8 951.5,1629.6 952.0,1628.9 952.5,1627.8 953.0,1626.2 953.5,1625.1 954.0,1624.0 954.5,1623.7 955.0,1622.4 955.5,1622.6 956.0,1623.9 956.5,1625.0 957.0,1626.6 957.5,1628.6 958.0,1628.6 958.5,1630.6 959.0,1631.9 959.5,1632.7 960.0,1632.0 960.5,1633.2 961.0,1634.5 962.0,1634.7 963.0,1635.5 964.0,1635.6 965.0,1636.7 966.0,1636.4 967.0,1636.3 968.0,1636.7 969.0,1637.5 970.0,1637.1 971.0,1636.1 972.0,1636.0 973.0,1637.4 974.0,1636.3 975.0,1637.2 976.0,1636.8 977.0,1637.3 978.0,1636.9 979.0,1636.0 980.0,1638.0 981.0,1637.3 982.0,1637.2 983.0,1638.1 984.0,1637.7 985.0,1637.9 986.0,1637.2 987.0,1637.4 988.0,1637.6 989.0,1637.0 990.0,1637.8 991.0,1637.6 992.0,1637.2 993.0,1637.2 994.0,1637.8 995.0,1637.3 996.0,1637.6 997.0,1637.5 998.0,1637.3 999.0,1635.8 1000.0,1637.5 1001.0,1637.8 1002.0,1637.0 1003.0,1637.0 1004.0,1637.8 1005.0,1636.7 1006.0,1637.9 1007.0,1637.6 1008.0,1638.0 1009.0,1637.2 1010.0,1637.3 1011.0,1637.3 1012.0,1636.4 1013.0,1636.6 1013.6,1637.6 1014.0,1636.6 1014.1,1636.5 1014.6,1637.0 1015.0,1637.5 1015.1,1636.8 1015.6,1636.6 1016.0,1636.6 1016.1,1636.8 1016.6,1635.7 1017.0,1636.5 1017.1,1636.5 1017.6,1636.7 1018.0,1636.6 1018.1,1636.4 1018.6,1636.9 1019.0,1635.8 1019.1,1635.8 1019.6,1636.6 1020.0,1635.9 1020.1,1635.5 1020.6,1635.6 1021.0,1636.0 1021.1,1635.3 1021.6,1636.7 1022.0,1636.4 1022.1,1636.9 1022.6,1635.9 1023.0,1636.4 1023.1,1636.2 1023.6,1636.9 1024.0,1636.9 1024.1,1637.1 1024.6,1637.2 1025.0,1636.3 1025.1,1637.0 1025.6,1637.0 1026.0,1637.0 1027.0,1637.3 1028.0,1636.1 1029.0,1636.7 1030.0,1637.0 1031.0,1636.7 1032.0,1636.5 1033.0,1637.5 1034.0,1637.5 1035.0,1637.9 1036.0,1636.5 1037.0,1635.8 1038.0,1637.2 1039.0,1636.6 1040.0,1636.1 1041.0,1636.8 1042.0,1636.3 1043.0,1635.3 1044.0,1636.0 1045.0,1634.8 1046.0,1635.5 1047.0,1634.0 1048.0,1633.2 1048.3,1634.0 1048.8,1633.6 1049.0,1632.8 1049.3,1632.0 1049.8,1632.1 1050.0,1631.6 1050.3,1631.1 1050.8,1629.8 1051.0,1628.9 1051.3,1628.7 1051.8,1628.4 1052.0,1626.9 1052.3,1626.4 1052.8,1625.1 1053.0,1625.2 1053.3,1624.2 1053.8,1623.1 1054.0,1624.1 1054.3,1623.1 1054.8,1623.5 1055.0,1623.2 1055.3,1623.3 1055.8,1625.4 1056.0,1625.5 1056.3,1626.6 1056.8,1626.6 1057.0,1629.0 1057.3,1629.0 1057.8,1630.4 1058.0,1629.9 1058.3,1631.1 1058.8,1631.9 1059.0,1632.7 1059.3,1632.9 1059.8,1632.2 1060.0,1633.5 1060.3,1633.7 1061.0,1634.1 1062.0,1635.0 1063.0,1635.7 1064.0,1636.2 1065.0,1635.5 1066.0,1635.9 1067.0,1636.5 1068.0,1636.9 1069.0,1636.2 1070.0,1636.8 1071.0,1636.2 1072.0,1636.9 1073.0,1636.8 1074.0,1637.2 1075.0,1637.6 1076.0,1636.5 1077.0,1637.1 1078.0,1636.1 1079.0,1636.9 1080.0,1637.5 1080.5,1635.8 1081.0,1636.1 1081.5,1634.7 1082.0,1636.3 1082.5,1637.0 1083.0,1635.3 1083.5,1635.7 1084.0,1635.9 1084.5,1634.6 1085.0,1634.9 1085.5,1634.3 1086.0,1634.4 1086.5,1634.7 1087.0,1635.3 1087.5,1635.2 1088.0,1635.3 1088.5,1635.5 1089.0,1636.3 1089.5,1636.3 1090.0,1636.4 1090.5,1635.4 1091.0,1636.4 1091.5,1636.1 1092.0,1637.6 1093.0,1637.2 1094.0,1637.7 1095.0,1636.7 1096.0,1636.4 1097.0,1636.8 1098.0,1637.5 1099.0,1636.9 1100.0,1637.5 1101.0,1637.8 1102.0,1637.0 1103.0,1637.6 1104.0,1635.9 1105.0,1636.3 1106.0,1636.5 1107.0,1636.4 1108.0,1635.6 1109.0,1635.8 1109.5,1636.3 1110.0,1636.0 1110.5,1635.5 1111.0,1634.4 1111.5,1635.2 1112.0,1634.4 1112.5,1633.0 1113.0,1633.4 1113.5,1632.2 1114.0,1632.0 1114.5,1631.5 1115.0,1631.2 1115.5,1631.6 1116.0,1632.2 1116.5,1631.5 1117.0,1631.9 1117.5,1632.4 1118.0,1633.2 1118.5,1633.9 1119.0,1633.4 1119.5,1634.6 1120.0,1636.1 1120.5,1635.7 1121.0,1636.2 1121.5,1635.9 1122.0,1637.2 1123.0,1636.7 1124.0,1636.5 1125.0,1636.5 1126.0,1637.3 1127.0,1638.0 1128.0,1636.9 1129.0,1636.8 1130.0,1636.2 1131.0,1637.7 1132.0,1636.8 1133.0,1637.0 1134.0,1636.8 1135.0,1636.9 1136.0,1637.7 1137.0,1636.8 1138.0,1637.2 1139.0,1636.6 1140.0,1636.6 1141.0,1636.9 1141.5,1636.7 1142.0,1635.6 1142.5,1636.0 1143.0,1635.2 1143.5,1635.7 1144.0,1634.7 1144.5,1634.2 1145.0,1634.7 1145.5,1633.6 1146.0,1633.6 1146.5,1633.7 1147.0,1633.0 1147.5,1633.2 1148.0,1633.9 1148.5,1635.0 1149.0,1634.6 1149.5,1635.1 1150.0,1635.1 1150.5,1635.4 1151.0,1636.5 1151.5,1635.7 1152.0,1636.0 1152.5,1637.3 1153.0,1636.3 1154.0,1636.4 1155.0,1637.4 1156.0,1637.9 1157.0,1638.4 1158.0,1638.7 1159.0,1636.6 1160.0,1637.7 1161.0,1637.7 1162.0,1638.1 1163.0,1637.5 1164.0,1638.0 1165.0,1638.1 1166.0,1638.1 1167.0,1637.6 1168.0,1638.2 1169.0,1637.6 1170.0,1637.7 1171.0,1638.0 1172.0,1638.5 1173.0,1637.1 1174.0,1638.1 1175.0,1638.9 1176.0,1638.3 1177.0,1637.9 1178.0,1638.3 1179.0,1639.0 1180.0,1638.2 1181.0,1637.9 1182.0,1638.6 1183.0,1638.1 1184.0,1637.9 1185.0,1638.7 1186.0,1637.9 1187.0,1638.2 1188.0,1639.0 1189.0,1638.4 1190.0,1639.0 1191.0,1637.4 1192.0,1637.6 1193.0,1638.0 1194.0,1638.3 1195.0,1637.4 1196.0,1638.5 1197.0,1638.1 1198.0,1638.1 1199.0,1638.4 1200.0,1638.3 1201.0,1637.8 1202.0,1638.3 1203.0,1637.8 1204.0,1639.1 1205.0,1638.2 1206.0,1638.3 1207.0,1638.1 1208.0,1638.4 1209.0,1638.5 1210.0,1638.3 1211.0,1637.8 1212.0,1638.9 1213.0,1638.3 1214.0,1637.4 1215.0,1637.2 1216.0,1637.7 1217.0,1637.6 1218.0,1637.3 1219.0,1637.6 1220.0,1638.2 1221.0,1638.6 1222.0,1637.9 1223.0,1637.8 1224.0,1638.0 1225.0,1638.3 1226.0,1637.4 1226.5,1636.9 1227.0,1636.2 1227.5,1635.5 1228.0,1635.8 1228.5,1635.8 1229.0,1634.9 1229.5,1634.0 1230.0,1634.1 1230.5,1633.3 1231.0,1632.6 1231.5,1631.6 1232.0,1632.8 1232.5,1632.3 1233.0,1633.5 1233.5,1633.0 1234.0,1633.8 1234.5,1634.0 1235.0,1635.7 1235.5,1635.9 1236.0,1635.6 1236.5,1636.7 1237.0,1635.7 1237.5,1636.9 1238.0,1636.6 1239.0,1637.1 1240.0,1637.3 1241.0,1638.0 1242.0,1636.9 1243.0,1637.7 1244.0,1638.7 1245.0,1636.9 1246.0,1638.0 1247.0,1637.5 1248.0,1636.8 1249.0,1638.3 1250.0,1637.8 1251.0,1638.6 1252.0,1636.9 1253.0,1637.9 1254.0,1638.2 1255.0,1636.2 1255.5,1637.2 1256.0,1637.0 1256.5,1636.5 1257.0,1636.7 1257.5,1636.0 1258.0,1634.9 1258.5,1634.4 1259.0,1634.3 1259.5,1634.8 1260.0,1633.5 1260.5,1633.8 1261.0,1633.2 1261.5,1633.7 1262.0,1633.9 1262.5,1634.6 1263.0,1635.4 1263.5,1634.7 1264.0,1634.8 1264.5,1635.8 1265.0,1636.2 1265.5,1636.7 1266.0,1637.4 1266.5,1636.9 1267.0,1637.3 1268.0,1637.7 1269.0,1638.6 1270.0,1638.0 1271.0,1639.0 1272.0,1639.5 1273.0,1638.5 1274.0,1639.5 1275.0,1639.1 1276.0,1638.8 1277.0,1640.0 1278.0,1639.6 1279.0,1638.9 1280.0,1639.4 1281.0,1638.8 1282.0,1638.4 1283.0,1639.7 1284.0,1639.2 1285.0,1640.1 1286.0,1639.3 1287.0,1639.4 1288.0,1639.2 1289.0,1639.4 1290.0,1638.9 1291.0,1639.2 1292.0,1638.5 1293.0,1638.5 1294.0,1638.7 1295.0,1639.1 1296.0,1639.4 1297.0,1639.3 1298.0,1640.0 1299.0,1640.7 1300.0,1638.2 1301.0,1640.2 1302.0,1640.0 1303.0,1639.2 1304.0,1639.6 1305.0,1638.5 1306.0,1639.4 1307.0,1640.3 1308.0,1638.9 1309.0,1639.2 1310.0,1639.6 1311.0,1639.9 1312.0,1639.6 1313.0,1639.3 1314.0,1639.9 1315.0,1639.3 1316.0,1640.8 1317.0,1640.3 1318.0,1639.7 1319.0,1639.2 1320.0,1639.4 1321.0,1639.3 1322.0,1639.5 1323.0,1639.9 1324.0,1639.0 1325.0,1639.8 1326.0,1639.7 1327.0,1639.2 1328.0,1640.4 1329.0,1640.0 1330.0,1639.9 1331.0,1639.4 1332.0,1639.4 1333.0,1639.8 1334.0,1639.0 1335.0,1639.9 1336.0,1639.2 1337.0,1639.8 1338.0,1640.1 1339.0,1639.6 1340.0,1639.5 1341.0,1639.4 1342.0,1639.9 1343.0,1639.2 1344.0,1639.8 1345.0,1640.3 1346.0,1638.9 1347.0,1639.4 1348.0,1640.0 1349.0,1639.3 1350.0,1639.3 1351.0,1639.2 1352.0,1640.3 1353.0,1638.8 1354.0,1639.8 1355.0,1639.7 1356.0,1639.9 1357.0,1639.5 1358.0,1639.9 1359.0,1639.6 1360.0,1639.4 1361.0,1641.2 1362.0,1640.4 1363.0,1639.3 1364.0,1639.5 1365.0,1640.1 1366.0,1640.6 1367.0,1639.8 1368.0,1640.3 1369.0,1640.0 1370.0,1640.5 1371.0,1639.6 1372.0,1639.5 1373.0,1640.1 1374.0,1640.1 1375.0,1639.9 1376.0,1640.5 1377.0,1640.3 1378.0,1640.0 1379.0,1639.3 1380.0,1640.3 1381.0,1640.4 1382.0,1639.6 1383.0,1639.9 1384.0,1639.4 1385.0,1640.0 1386.0,1639.8 1387.0,1639.1 1388.0,1640.0 1389.0,1639.8 1390.0,1639.8 1391.0,1640.5 1392.0,1640.2 1393.0,1640.4 1394.0,1639.8 1395.0,1640.6 1396.0,1639.6 1397.0,1640.3 1398.0,1639.2 1399.0,1640.1 1400.0,1639.5 1401.0,1639.2 1402.0,1640.3 1403.0,1640.1 1404.0,1640.2 1405.0,1640.0 1406.0,1640.1 1407.0,1640.0 1408.0,1639.9 1409.0,1640.0 1410.0,1641.1 1411.0,1639.5 1412.0,1639.2 1413.0,1639.5 1414.0,1639.6 1415.0,1640.3 1416.0,1640.5 1417.0,1640.6 1418.0,1639.9 1419.0,1640.4 1420.0,1640.9 1421.0,1640.3 1422.0,1640.7 1423.0,1639.5 1424.0,1640.5 1425.0,1640.4 1426.0,1639.4 1427.0,1640.0 1428.0,1640.3 1429.0,1639.6 1430.0,1640.5 1431.0,1640.5 1432.0,1640.2 1433.0,1640.0 1434.0,1639.9 1435.0,1640.2 1436.0,1640.6 1437.0,1639.3 1438.0,1640.1 1439.0,1640.1 1440.0,1639.6 1441.0,1639.4 1442.0,1639.9 1443.0,1639.2 1444.0,1640.1 1445.0,1639.9 1446.0,1639.4 1447.0,1640.0 1448.0,1639.6 1449.0,1639.6 1450.0,1640.6 1451.0,1639.6 1452.0,1638.7 1453.0,1640.1 1454.0,1639.5 1455.0,1639.5 1456.0,1640.8 1457.0,1639.9 1458.0,1640.4 1459.0,1639.3 1460.0,1639.5 1461.0,1639.6 1462.0,1640.3 1463.0,1639.6 1464.0,1639.0 1465.0,1640.4 1466.0,1639.7 1467.0,1640.0 1468.0,1640.4 1469.0,1641.1 1470.0,1640.0 1471.0,1640.8 1472.0,1639.3 1473.0,1640.1 1474.0,1640.1 1475.0,1638.9 1476.0,1639.5 1477.0,1639.6 1478.0,1640.2 1479.0,1639.7 1480.0,1639.8 1481.0,1639.6 1482.0,1640.2 1483.0,1639.9 1484.0,1639.9 1485.0,1639.9 1486.0,1640.3 1487.0,1639.6 1488.0,1640.0 1489.0,1640.0 1490.0,1640.2 1491.0,1640.5 1492.0,1640.2 1493.0,1639.3 1494.0,1640.5 1495.0,1640.6 1496.0,1640.6 1497.0,1640.4 1498.0,1639.2 1499.0,1639.9 1500.0,1640.4 1501.0,1640.4 1502.0,1640.0 1503.0,1640.1 1504.0,1639.5 1505.0,1640.2 1506.0,1639.0 1507.0,1639.9 1508.0,1640.5 1509.0,1639.4 1510.0,1640.7 1511.0,1641.0 1512.0,1640.3 1513.0,1639.8 1514.0,1639.8 1515.0,1639.4 1516.0,1640.4 1517.0,1639.5 1518.0,1640.1 1519.0,1639.5 1520.0,1640.3 1521.0,1639.3 1522.0,1640.0 1523.0,1639.7 1524.0,1640.5 1525.0,1639.8 1526.0,1640.0 1527.0,1640.6 1528.0,1639.5 1529.0,1639.4 1530.0,1640.0 1531.0,1639.5 1532.0,1640.9 1533.0,1640.1 1534.0,1640.2 1535.0,1639.9 1536.0,1638.4 1537.0,1640.7 1538.0,1640.0 1539.0,1639.0 1540.0,1639.5 1541.0,1640.0 1542.0,1640.6 1543.0,1640.2 1544.0,1640.2 1545.0,1640.2 1546.0,1639.6 1547.0,1639.7 1548.0,1640.0 1549.0,1639.3 1550.0,1640.0 1551.0,1640.3 1552.0,1638.8 1553.0,1639.9 1554.0,1639.9 1555.0,1640.1 1556.0,1640.9 1557.0,1639.3 1558.0,1641.0 1559.0,1640.4 1560.0,1641.3 1561.0,1639.8 1562.0,1640.2 1563.0,1640.0 1564.0,1640.3 1565.0,1639.6 1566.0,1639.6 1567.0,1639.9 1568.0,1640.3 1569.0,1639.4 1570.0,1639.8 1571.0,1639.7 1572.0,1640.2 1573.0,1640.4 1574.0,1639.3 1575.0,1639.5 1576.0,1639.8 1577.0,1639.5 1578.0,1640.7 1579.0,1640.9 1580.0,1640.4 1581.0,1640.3 1582.0,1639.4 1583.0,1639.5 1584.0,1640.2 1585.0,1640.7 1586.0,1639.8 1587.0,1640.1 1588.0,1640.8 1589.0,1640.9 1590.0,1639.5 1591.0,1640.1 1592.0,1640.4 1593.0,1639.2 1594.0,1639.8 1595.0,1640.1 1596.0,1639.7 1597.0,1640.3 1598.0,1639.8 1599.0,1639.1 1600.0,1639.4 1601.0,1638.9 1602.0,1639.3 1603.0,1640.3 1604.0,1640.1 1605.0,1640.2 1606.0,1640.6 1607.0,1639.4 1608.0,1639.7 1609.0,1640.0 1610.0,1640.8 1611.0,1640.1 1612.0,1639.9 1613.0,1640.1 1614.0,1639.5 1615.0,1639.0 1616.0,1640.2 1617.0,1639.8 1618.0,1640.2 1619.0,1639.4 1620.0,1639.5 1621.0,1640.3 1622.0,1640.1 1623.0,1640.4 1624.0,1639.6 1625.0,1640.0 1626.0,1640.3 1627.0,1640.4 1628.0,1639.9 1629.0,1640.1 1630.0,1639.9 1631.0,1639.9 1632.0,1639.9 1633.0,1640.2 1634.0,1639.3 1635.0,1639.9 1636.0,1639.4 1637.0,1640.0 1638.0,1639.8 1639.0,1640.0 1640.0,1639.8 1641.0,1639.9 1642.0,1639.2 1643.0,1640.6 1644.0,1639.3 1645.0,1639.0 1646.0,1640.1 1647.0,1640.2 1648.0,1639.9 1649.0,1639.8 1650.0,1639.4 1651.0,1640.9 1652.0,1639.1 1653.0,1641.1 1654.0,1639.1 1655.0,1639.4 1656.0,1639.8 1657.0,1639.7 1658.0,1640.2 1659.0,1639.5 1660.0,1639.8 1661.0,1639.1 1662.0,1640.5 1663.0,1639.8 1664.0,1639.6 1665.0,1639.9 1666.0,1640.4 1667.0,1640.1 1668.0,1639.6 1669.0,1640.0 1670.0,1640.1 1671.0,1640.2 1672.0,1639.8 1673.0,1640.3 1674.0,1639.4 1675.0,1640.0 1676.0,1639.6 1677.0,1640.0 1678.0,1639.7 1679.0,1640.3 1680.0,1639.8 1681.0,1640.6 1682.0,1639.5 1683.0,1640.5 1684.0,1639.5 1685.0,1638.7 1686.0,1639.5 1687.0,1640.4 1688.0,1640.1 1689.0,1640.2 1690.0,1639.8 1691.0,1640.1 1692.0,1639.5 1693.0,1640.8 1694.0,1640.8 1695.0,1640.2 1696.0,1639.7 1697.0,1639.7 1698.0,1640.3 1699.0,1640.2 1700.0,1639.5 1701.0,1640.4 1702.0,1640.4 1703.0,1640.3 1704.0,1640.2 1705.0,1640.1 1706.0,1640.0 1707.0,1639.9 1708.0,1639.7 1709.0,1640.6 1710.0,1639.2 1711.0,1640.1 1712.0,1640.4 1713.0,1641.2 1714.0,1639.8 1715.0,1640.7 1716.0,1640.7 1717.0,1640.5 1718.0,1641.0 1719.0,1639.2 1720.0,1640.5 1721.0,1640.0 1722.0,1640.3 1723.0,1640.0 1724.0,1639.6 1725.0,1639.1 1726.0,1640.3 1727.0,1639.9 1728.0,1639.4 1729.0,1640.0 1730.0,1639.5 1731.0,1639.6 1732.0,1640.1 1733.0,1640.4 1734.0,1639.1 1735.0,1640.0 1736.0,1640.3 1737.0,1639.4 1738.0,1639.9 1739.0,1640.2 1740.0,1640.5 1741.0,1639.4 1742.0,1639.2 1743.0,1639.7 1744.0,1639.8 1745.0,1640.0 1746.0,1640.0 1747.0,1639.0 1748.0,1640.4 1749.0,1639.2 1750.0,1640.2 1751.0,1640.2 1752.0,1640.2 1753.0,1640.1 1754.0,1640.2 1755.0,1639.6 1756.0,1639.6 1757.0,1641.1 1758.0,1640.8 1759.0,1640.7 1760.0,1640.4 1761.0,1639.2 1762.0,1640.9 1763.0,1639.9 1764.0,1640.0 1765.0,1640.4 1766.0,1639.7 1767.0,1640.7 1768.0,1638.8 1769.0,1640.6 1770.0,1640.3 1771.0,1639.6 1772.0,1640.4 1773.0,1640.6 1774.0,1640.4 1775.0,1640.5 1776.0,1639.9 1777.0,1640.5 1778.0,1640.5 1779.0,1640.6 1780.0,1640.3 1781.0,1639.1 1782.0,1640.3 1783.0,1639.3 1784.0,1639.6 1785.0,1639.9 1786.0,1640.1 1787.0,1639.8 1788.0,1640.1 1789.0,1640.2 1790.0,1640.1 1791.0,1640.0 1792.0,1640.1 1793.0,1640.3 1794.0,1639.5 1795.0,1639.2 1796.0,1640.5 1797.0,1640.0 1798.0,1638.8 1799.0,1640.5 1800.0,1640.5 1801.0,1639.0 1802.0,1639.3 1803.0,1639.7 1804.0,1639.3 1805.0,1639.6 1806.0,1639.9 1807.0,1640.4 1808.0,1638.7 1809.0,1640.0 1810.0,1640.5 1811.0,1638.7 1812.0,1640.1 1813.0,1639.9 1814.0,1639.7 1815.0,1640.3 1816.0,1640.6 1817.0,1640.5 1818.0,1641.0 1819.0,1639.6 1820.0,1638.9 1821.0,1639.7 1822.0,1640.0 1823.0,1640.5 1824.0,1640.2 1825.0,1639.7 1826.0,1640.7 1827.0,1640.2 1828.0,1640.1 1829.0,1639.9 1830.0,1640.2 1831.0,1640.3 1832.0,1640.0 1833.0,1638.8 1834.0,1639.5 1835.0,1640.2 1836.0,1640.8 1837.0,1640.6 1838.0,1640.5 1839.0,1640.9 1840.0,1640.3 1841.0,1640.7 1842.0,1640.5 1843.0,1640.1 1844.0,1639.5 1845.0,1639.2 1846.0,1640.2 1847.0,1639.4 1848.0,1639.9 1849.0,1640.4 1850.0,1639.6 1851.0,1640.5 1852.0,1640.0 1853.0,1639.5 1854.0,1640.3 1855.0,1640.4 1856.0,1639.8 1857.0,1640.3 1858.0,1639.4 1859.0,1640.1 1860.0,1640.2 1861.0,1639.5 1862.0,1640.1 1863.0,1640.7 1864.0,1639.7 1865.0,1639.4 1866.0,1639.3 1867.0,1639.6 1868.0,1639.4 1869.0,1639.2 1870.0,1640.1 1871.0,1640.2 1872.0,1639.5 1873.0,1640.0 1874.0,1640.5 1875.0,1640.2 1876.0,1640.1 1877.0,1640.4 1878.0,1639.7 1879.0,1640.5 1880.0,1641.0 1881.0,1639.7 1882.0,1639.1 1883.0,1639.7 1884.0,1639.5 1885.0,1640.1 1886.0,1640.6 1887.0,1640.3 1888.0,1640.9 1889.0,1640.3 1890.0,1640.1 1891.0,1639.0 1892.0,1640.2 1893.0,1639.7 1894.0,1639.8 1895.0,1639.9 1896.0,1640.9 1897.0,1640.5 1898.0,1640.1 1899.0,1639.3 1900.0,1639.8 1901.0,1639.9 1902.0,1640.5 1903.0,1640.3 1904.0,1640.3 1905.0,1639.6 1906.0,1640.5 1907.0,1641.4 1908.0,1639.3 1909.0,1639.5 1910.0,1640.1 1911.0,1640.5 1912.0,1640.2 1913.0,1640.1 1914.0,1640.8 1915.0,1639.5 1916.0,1639.0 1917.0,1639.2 1918.0,1640.4 1919.0,1640.5 1920.0,1639.8 1921.0,1639.3 1922.0,1639.6 1923.0,1640.2 1924.0,1640.5 1925.0,1639.7 1926.0,1639.6 1927.0,1639.5 1928.0,1639.7 1929.0,1640.3 1930.0,1640.1 1931.0,1640.2 1932.0,1640.0 1933.0,1640.1 1934.0,1639.3 1935.0,1639.4 1936.0,1640.2 1937.0,1640.2 1938.0,1640.5 1939.0,1639.9 1940.0,1639.5 1941.0,1639.9 1942.0,1639.9 1943.0,1640.3 1944.0,1639.9 1945.0,1640.3 1946.0,1640.3 1947.0,1640.3 1948.0,1640.3 1949.0,1639.5 1950.0,1640.6 1951.0,1640.9 1952.0,1640.5 1953.0,1640.9 1954.0,1640.3 1955.0,1639.8 1956.0,1640.3 1957.0,1640.0 1958.0,1640.0 1959.0,1640.9 1960.0,1639.6 1961.0,1640.6 1962.0,1639.8 1963.0,1639.2 1964.0,1640.4 1965.0,1640.1 1966.0,1640.2 1967.0,1640.2 1968.0,1640.6 1969.0,1640.3 1970.0,1640.0 1971.0,1640.1 1972.0,1640.3 1973.0,1639.8 1974.0,1640.3 1975.0,1639.1 1976.0,1640.1 1977.0,1640.1 1978.0,1640.5 1979.0,1639.6 1980.0,1640.0 1981.0,1640.3 1982.0,1641.5 1983.0,1640.2 1984.0,1640.4 1985.0,1639.8 1986.0,1641.2 1987.0,1640.0 1988.0,1640.0 1989.0,1640.2 1990.0,1639.5 1991.0,1639.6 1992.0,1639.9 1993.0,1639.7 1994.0,1640.6 1995.0,1639.8 1996.0,1641.2 1997.0,1640.2 1998.0,1639.7 1999.0,1640.2 2000.0,1640.4 2001.0,1640.1 2002.0,1640.3 2003.0,1640.0 2004.0,1639.7 2005.0,1640.0 2006.0,1640.9 2007.0,1639.9 2008.0,1640.0 2009.0,1639.3 2010.0,1639.7 2011.0,1640.2 2012.0,1639.9 2013.0,1640.6 2014.0,1640.5 2015.0,1639.8 2016.0,1640.0 2017.0,1640.4 2018.0,1640.2 2019.0,1639.9 2020.0,1639.1 2021.0,1640.7 2022.0,1640.1 2023.0,1640.1 2024.0,1639.7 2025.0,1640.8 2026.0,1640.0 2027.0,1640.1 2028.0,1639.0 2029.0,1639.8 2030.0,1640.0 2031.0,1640.2 2032.0,1640.4 2033.0,1639.9 2034.0,1640.5 2035.0,1640.0 2036.0,1639.9 2037.0,1640.0 2038.0,1639.2 2039.0,1638.9 2040.0,1640.9 2041.0,1639.2 2042.0,1639.7 2043.0,1640.3 2044.0,1639.7 2045.0,1640.6 2046.0,1639.0 2047.0,1640.1 2048.0,1640.3 2049.0,1641.1 2050.0,1640.7 2051.0,1639.6 2052.0,1640.4 2053.0,1640.1 2054.0,1639.4 2055.0,1639.7 2056.0,1640.5 2057.0,1639.9 2058.0,1639.5 2059.0,1639.7 2060.0,1639.4 2061.0,1639.2 2062.0,1640.2 2063.0,1640.2 2064.0,1640.5 2065.0,1639.2 2066.0,1639.4 2067.0,1640.2 2068.0,1640.1 2069.0,1639.9 2070.0,1639.4 2071.0,1639.8 2072.0,1639.3 2073.0,1640.7 2074.0,1640.3 2075.0,1639.5 2076.0,1640.6 2077.0,1639.5 2078.0,1640.3 2079.0,1640.1 2080.0,1639.8 2081.0,1640.6 2082.0,1639.2 2083.0,1639.8 2084.0,1639.8 2085.0,1639.1 2086.0,1639.2 2087.0,1640.0 2088.0,1640.1 2089.0,1639.5 2090.0,1640.2 2091.0,1640.2 2092.0,1640.3 2093.0,1639.8 2094.0,1639.9 2095.0,1640.3 2096.0,1639.7 2097.0,1639.6 2098.0,1639.4 2099.0,1640.2 2100.0,1640.6 2101.0,1639.1 2102.0,1639.8 2103.0,1640.3 2104.0,1640.7 2105.0,1640.1 2106.0,1639.6 2107.0,1640.4 2108.0,1641.1 2109.0,1640.2 2110.0,1640.4 2111.0,1640.9 2112.0,1639.3 2113.0,1640.4 2114.0,1640.8 2115.0,1640.5 2116.0,1640.1 2117.0,1639.9" fill="none" stroke="#00B0F0" stroke-width="4.6" stroke-linejoin="round" stroke-linecap="butt" shape-rendering="crispEdges"/>
<polyline points="166.0,1357.6 167.0,1357.1 168.0,1357.5 169.0,1357.1 170.0,1357.7 171.0,1357.6 172.0,1357.3 173.0,1357.4 174.0,1357.6 175.0,1356.8 176.0,1357.9 177.0,1357.6 178.0,1357.8 179.0,1357.2 180.0,1357.2 181.0,1357.4 182.0,1357.3 183.0,1357.0 184.0,1357.0 185.0,1356.8 186.0,1356.8 187.0,1356.6 188.0,1356.5 189.0,1356.3 190.0,1357.6 191.0,1356.3 192.0,1356.6 193.0,1356.0 194.0,1356.6 195.0,1357.1 196.0,1355.9 197.0,1356.2 198.0,1356.0 199.0,1356.4 200.0,1355.6 201.0,1355.4 202.0,1355.1 203.0,1353.8 204.0,1355.1 205.0,1354.9 206.0,1352.9 207.0,1353.0 208.0,1351.3 209.0,1350.4 209.1,1349.0 209.6,1348.4 210.0,1347.7 210.1,1346.9 210.6,1344.8 211.0,1342.8 211.1,1341.9 211.6,1339.2 212.0,1335.4 212.1,1336.0 212.6,1330.0 213.0,1324.2 213.1,1321.9 213.6,1315.0 214.0,1307.9 214.1,1305.6 214.6,1298.3 215.0,1295.4 215.1,1294.8 215.6,1297.6 216.0,1303.7 216.1,1306.0 216.6,1314.0 217.0,1320.2 217.1,1322.7 217.6,1329.6 218.0,1333.8 218.1,1334.9 218.6,1338.2 219.0,1341.0 219.1,1341.8 219.6,1344.4 220.0,1346.3 220.1,1346.7 220.6,1347.9 221.0,1348.7 221.1,1348.4 222.0,1350.3 223.0,1350.9 224.0,1352.2 225.0,1353.5 226.0,1354.0 227.0,1353.4 228.0,1354.9 229.0,1353.1 230.0,1354.9 231.0,1354.7 232.0,1354.7 233.0,1355.1 234.0,1354.7 235.0,1356.3 236.0,1354.8 237.0,1354.8 238.0,1355.2 239.0,1353.9 240.0,1355.0 241.0,1354.2 242.0,1355.8 243.0,1354.7 244.0,1354.9 245.0,1354.0 246.0,1356.0 247.0,1353.9 248.0,1354.0 249.0,1354.4 250.0,1353.5 251.0,1354.0 252.0,1354.5 253.0,1355.3 254.0,1355.2 255.0,1353.9 256.0,1354.2 257.0,1354.8 258.0,1355.1 259.0,1353.9 260.0,1354.1 261.0,1354.2 262.0,1354.2 263.0,1353.9 264.0,1355.0 265.0,1353.7 266.0,1354.4 267.0,1353.9 268.0,1355.5 269.0,1354.2 270.0,1352.1 271.0,1353.4 272.0,1351.7 273.0,1353.3 274.0,1352.1 275.0,1350.7 276.0,1350.9 277.0,1350.7 278.0,1351.0 279.0,1349.2 280.0,1348.0 281.0,1345.4 281.5,1344.2 282.0,1341.9 282.5,1340.4 283.0,1337.8 283.5,1334.5 284.0,1329.5 284.5,1324.0 285.0,1316.3 285.5,1307.6 286.0,1297.2 286.5,1288.9 287.0,1285.4 287.5,1288.8 288.0,1297.3 288.5,1306.7 289.0,1317.0 289.5,1324.4 290.0,1329.8 290.5,1334.5 291.0,1336.8 291.5,1339.7 292.0,1341.9 292.5,1343.9 293.0,1345.5 294.0,1347.4 295.0,1347.3 296.0,1349.0 297.0,1350.3 298.0,1349.9 299.0,1350.7 300.0,1349.7 301.0,1350.9 302.0,1350.8 303.0,1349.9 304.0,1351.6 305.0,1351.9 306.0,1351.6 307.0,1351.0 308.0,1351.1 309.0,1350.7 310.0,1351.4 311.0,1351.3 312.0,1351.8 313.0,1350.9 314.0,1351.3 315.0,1350.5 316.0,1350.2 317.0,1350.4 318.0,1349.8 319.0,1349.6 320.0,1350.4 321.0,1350.1 322.0,1349.0 323.0,1348.7 324.0,1348.8 325.0,1348.1 326.0,1348.5 327.0,1347.4 328.0,1346.2 329.0,1345.7 330.0,1345.6 331.0,1345.4 332.0,1343.1 333.0,1340.1 334.0,1337.8 335.0,1335.0 336.0,1329.8 336.5,1326.7 337.0,1323.7 337.5,1316.9 338.0,1310.5 338.5,1302.8 339.0,1292.2 339.5,1278.4 340.0,1260.7 340.5,1237.1 341.0,1209.6 341.5,1178.7 342.0,1153.5 342.5,1142.1 343.0,1152.8 343.5,1178.3 344.0,1209.2 344.5,1236.6 345.0,1259.5 345.5,1277.6 346.0,1292.9 346.5,1301.7 347.0,1310.8 347.5,1317.1 348.0,1323.0 348.5,1326.6 349.0,1329.2 350.0,1334.8 351.0,1338.4 352.0,1339.9 353.0,1341.0 354.0,1342.6 355.0,1344.4 356.0,1344.6 357.0,1345.9 358.0,1347.0 359.0,1346.9 360.0,1348.3 361.0,1347.3 362.0,1346.9 363.0,1347.8 364.0,1348.4 365.0,1347.2 366.0,1348.3 367.0,1349.0 368.0,1348.2 369.0,1349.1 370.0,1347.2 371.0,1348.3 372.0,1346.9 373.0,1346.8 374.0,1346.8 375.0,1348.0 376.0,1347.3 377.0,1347.5 378.0,1345.8 379.0,1344.6 380.0,1345.3 381.0,1343.2 382.0,1341.2 383.0,1340.1 383.5,1338.7 384.0,1335.7 384.5,1333.7 385.0,1330.8 385.5,1325.9 386.0,1320.7 386.5,1314.5 387.0,1306.8 387.5,1295.2 388.0,1285.5 388.5,1276.6 389.0,1272.9 389.5,1276.2 390.0,1284.5 390.5,1296.1 391.0,1305.8 391.5,1312.9 392.0,1321.3 392.5,1325.9 393.0,1330.4 393.5,1334.8 394.0,1336.3 394.5,1336.8 395.0,1339.4 396.0,1341.3 397.0,1344.1 398.0,1342.7 399.0,1345.9 400.0,1346.2 401.0,1346.4 402.0,1347.2 403.0,1348.3 404.0,1346.4 405.0,1347.3 406.0,1347.7 407.0,1347.9 408.0,1347.8 409.0,1348.2 410.0,1348.0 411.0,1347.6 412.0,1346.7 413.0,1348.0 414.0,1348.2 414.8,1347.7 415.0,1347.2 415.3,1347.5 415.8,1345.6 416.0,1346.8 416.3,1346.3 416.8,1345.6 417.0,1346.1 417.3,1344.9 417.8,1344.0 418.0,1343.2 418.3,1342.1 418.8,1341.6 419.0,1342.3 419.3,1341.5 419.8,1338.4 420.0,1338.3 420.3,1338.4 420.8,1336.3 421.0,1336.7 421.3,1336.5 421.8,1339.3 422.0,1338.5 422.3,1339.5 422.8,1341.0 423.0,1340.9 423.3,1343.6 423.8,1343.4 424.0,1344.2 424.3,1342.0 424.8,1343.8 425.0,1343.3 425.3,1342.7 425.8,1343.1 426.0,1343.8 426.3,1343.2 426.8,1341.3 427.0,1343.3 427.3,1341.1 427.8,1338.4 428.0,1337.6 428.3,1336.6 428.8,1335.0 429.0,1334.0 429.3,1333.0 429.8,1333.4 430.0,1332.6 430.3,1333.7 430.8,1334.9 431.0,1336.0 431.3,1338.2 431.8,1339.6 432.0,1340.8 432.3,1341.3 432.8,1343.4 433.0,1343.2 433.3,1344.6 433.8,1344.0 434.0,1345.7 434.3,1345.7 434.8,1345.5 435.0,1345.8 435.3,1345.3 435.8,1346.6 436.0,1347.0 437.0,1347.1 438.0,1348.4 439.0,1346.7 440.0,1348.0 441.0,1347.5 442.0,1348.1 443.0,1349.0 444.0,1348.5 445.0,1349.5 446.0,1348.4 447.0,1348.2 448.0,1348.5 449.0,1347.7 450.0,1348.1 451.0,1348.6 452.0,1349.1 453.0,1347.9 454.0,1347.9 455.0,1347.5 456.0,1347.5 457.0,1348.2 458.0,1348.1 459.0,1348.1 460.0,1347.5 461.0,1347.9 461.3,1346.1 461.8,1346.9 462.0,1347.2 462.3,1346.4 462.8,1346.4 463.0,1345.8 463.3,1345.4 463.8,1345.1 464.0,1344.3 464.3,1344.2 464.8,1343.5 465.0,1342.0 465.3,1342.3 465.8,1341.1 466.0,1340.8 466.3,1338.8 466.8,1338.5 467.0,1336.4 467.3,1336.5 467.8,1337.8 468.0,1337.5 468.3,1338.3 468.8,1339.7 469.0,1340.7 469.3,1341.4 469.8,1342.5 470.0,1343.4 470.3,1343.7 470.8,1344.8 471.0,1345.3 471.3,1345.8 471.8,1345.8 472.0,1345.8 472.3,1346.1 472.8,1346.0 473.0,1347.0 473.3,1346.8 474.0,1347.7 475.0,1347.5 476.0,1347.2 477.0,1348.1 478.0,1347.4 479.0,1347.5 480.0,1347.8 481.0,1347.5 482.0,1346.8 483.0,1347.5 484.0,1347.0 485.0,1346.4 486.0,1345.7 487.0,1345.2 488.0,1343.1 488.5,1344.1 489.0,1340.9 489.5,1340.7 490.0,1339.3 490.5,1338.3 491.0,1335.9 491.5,1333.2 492.0,1328.9 492.5,1326.4 493.0,1322.3 493.5,1317.4 494.0,1317.6 494.5,1317.5 495.0,1321.4 495.5,1326.0 496.0,1329.6 496.5,1332.2 497.0,1335.4 497.5,1338.6 498.0,1339.9 498.5,1341.6 499.0,1341.3 499.5,1343.5 500.0,1344.0 501.0,1344.4 502.0,1346.5 503.0,1346.2 504.0,1347.1 505.0,1346.6 506.0,1347.3 507.0,1347.5 508.0,1347.3 509.0,1347.5 510.0,1347.7 511.0,1347.5 512.0,1346.8 513.0,1347.7 514.0,1347.4 515.0,1347.6 516.0,1346.9 517.0,1348.2 518.0,1347.7 519.0,1347.9 520.0,1348.0 521.0,1347.3 522.0,1346.3 523.0,1345.4 524.0,1346.4 525.0,1345.3 526.0,1344.9 527.0,1344.3 528.0,1342.1 529.0,1339.8 529.3,1339.8 529.8,1337.9 530.0,1337.1 530.3,1336.7 530.8,1334.2 531.0,1333.6 531.3,1331.0 531.8,1328.2 532.0,1326.6 532.3,1324.1 532.8,1318.5 533.0,1316.9 533.3,1311.8 533.8,1305.9 534.0,1303.4 534.3,1298.6 534.8,1293.3 535.0,1291.5 535.3,1291.3 535.8,1293.5 536.0,1295.2 536.3,1298.8 536.8,1305.9 537.0,1308.6 537.3,1311.6 537.8,1318.2 538.0,1321.0 538.3,1325.3 538.8,1328.9 539.0,1329.7 539.3,1331.5 539.8,1334.0 540.0,1335.5 540.3,1336.2 540.8,1338.1 541.0,1338.2 541.3,1339.3 542.0,1340.5 543.0,1342.2 544.0,1343.6 545.0,1345.3 546.0,1345.4 547.0,1346.2 548.0,1345.7 549.0,1346.4 550.0,1346.0 551.0,1346.4 552.0,1346.4 553.0,1345.6 554.0,1346.4 555.0,1345.5 556.0,1346.2 557.0,1345.1 557.8,1344.0 558.0,1344.0 558.3,1343.9 558.8,1344.6 559.0,1342.8 559.3,1342.9 559.8,1342.3 560.0,1341.6 560.3,1341.0 560.8,1340.0 561.0,1338.5 561.3,1338.8 561.8,1336.5 562.0,1334.9 562.3,1334.2 562.8,1331.1 563.0,1330.0 563.3,1328.6 563.8,1328.3 564.0,1329.1 564.3,1329.5 564.8,1332.0 565.0,1332.9 565.3,1334.0 565.8,1335.9 566.0,1337.8 566.3,1338.0 566.8,1338.4 567.0,1340.3 567.3,1341.5 567.8,1342.8 568.0,1343.2 568.3,1343.8 568.8,1342.7 569.0,1345.7 569.3,1345.1 569.8,1345.3 570.0,1344.3 571.0,1346.6 572.0,1346.1 573.0,1345.9 574.0,1347.6 575.0,1347.8 576.0,1347.6 577.0,1347.2 578.0,1348.1 579.0,1348.0 580.0,1348.2 581.0,1348.2 582.0,1347.2 583.0,1348.3 584.0,1347.3 585.0,1348.2 586.0,1347.7 586.7,1347.5 587.0,1348.7 587.2,1347.8 587.7,1347.7 588.0,1348.0 588.2,1348.7 588.7,1345.7 589.0,1347.5 589.2,1347.1 589.7,1347.5 590.0,1346.7 590.2,1346.5 590.7,1346.5 591.0,1345.9 591.2,1345.2 591.7,1345.3 592.0,1346.2 592.2,1345.3 592.7,1343.5 593.0,1344.8 593.2,1344.4 593.7,1345.9 594.0,1344.9 594.2,1345.7 594.7,1346.5 595.0,1346.9 595.2,1346.2 595.7,1347.1 596.0,1348.4 596.2,1346.8 596.7,1347.5 597.0,1347.1 597.2,1347.5 597.7,1348.1 598.0,1347.9 598.2,1348.3 598.7,1347.3 599.0,1348.1 600.0,1348.0 601.0,1346.6 602.0,1349.0 603.0,1348.5 604.0,1348.1 605.0,1349.1 606.0,1348.8 607.0,1347.2 608.0,1348.8 609.0,1350.0 610.0,1348.8 611.0,1349.1 612.0,1347.6 613.0,1347.7 614.0,1347.8 615.0,1349.3 616.0,1349.2 617.0,1347.1 618.0,1349.1 619.0,1347.4 620.0,1347.8 621.0,1348.5 622.0,1348.2 623.0,1348.6 624.0,1348.7 625.0,1349.2 626.0,1348.2 627.0,1348.1 628.0,1348.1 629.0,1349.9 630.0,1349.1 631.0,1349.1 632.0,1348.7 633.0,1348.4 634.0,1349.0 635.0,1348.0 636.0,1347.0 637.0,1346.8 638.0,1349.0 638.8,1346.6 639.0,1346.7 639.3,1346.9 639.8,1347.4 640.0,1345.9 640.3,1346.3 640.8,1346.2 641.0,1345.0 641.3,1345.5 641.8,1345.5 642.0,1344.7 642.3,1344.2 642.8,1343.6 643.0,1342.9 643.3,1342.1 643.8,1341.2 644.0,1341.7 644.3,1339.8 644.8,1339.8 645.0,1341.1 645.3,1341.5 645.8,1341.5 646.0,1341.2 646.3,1341.3 646.8,1343.5 647.0,1343.6 647.3,1344.2 647.8,1344.9 648.0,1344.3 648.3,1344.8 648.8,1345.7 649.0,1345.8 649.3,1345.1 649.8,1345.7 650.0,1346.4 650.3,1347.5 650.8,1348.2 651.0,1347.0 652.0,1346.9 653.0,1347.4 654.0,1347.3 655.0,1346.7 656.0,1345.2 657.0,1347.1 658.0,1346.3 659.0,1346.3 659.9,1345.2 660.0,1345.5 660.4,1345.5 660.9,1344.1 661.0,1344.4 661.4,1344.7 661.9,1344.1 662.0,1342.4 662.4,1343.2 662.9,1342.4 663.0,1341.6 663.4,1340.6 663.9,1338.9 664.0,1338.7 664.4,1336.9 664.9,1336.4 665.0,1335.3 665.4,1333.6 665.9,1334.3 666.0,1334.6 666.4,1334.7 666.9,1335.0 667.0,1336.3 667.4,1335.4 667.9,1339.8 668.0,1339.5 668.4,1339.3 668.9,1340.4 669.0,1343.3 669.4,1342.9 669.9,1343.3 670.0,1344.1 670.4,1344.3 670.9,1344.9 671.0,1345.3 671.4,1345.7 671.9,1345.3 672.0,1346.2 673.0,1346.7 674.0,1346.4 675.0,1347.9 676.0,1347.8 677.0,1347.1 678.0,1348.9 679.0,1348.2 680.0,1348.8 681.0,1347.6 682.0,1347.8 683.0,1348.2 684.0,1347.8 685.0,1348.0 686.0,1347.3 687.0,1349.4 688.0,1348.5 689.0,1348.9 690.0,1349.2 691.0,1348.0 692.0,1349.2 693.0,1346.6 694.0,1347.7 695.0,1347.5 696.0,1347.7 697.0,1346.9 698.0,1348.0 699.0,1348.5 700.0,1347.3 701.0,1347.3 702.0,1345.3 703.0,1345.7 704.0,1345.9 705.0,1344.6 706.0,1344.2 707.0,1342.5 707.5,1342.1 708.0,1340.1 708.5,1340.0 709.0,1339.0 709.5,1336.8 710.0,1335.4 710.5,1331.4 711.0,1328.8 711.5,1323.8 712.0,1321.3 712.5,1317.4 713.0,1314.3 713.5,1314.2 714.0,1313.8 714.5,1317.0 715.0,1321.0 715.5,1324.0 716.0,1327.7 716.5,1332.1 717.0,1333.9 717.5,1335.8 718.0,1337.9 718.5,1339.3 719.0,1340.5 719.5,1342.1 720.0,1342.1 721.0,1343.2 722.0,1345.0 723.0,1345.6 724.0,1346.9 725.0,1345.8 726.0,1346.6 727.0,1347.8 728.0,1347.6 729.0,1347.2 730.0,1347.2 731.0,1348.2 732.0,1347.8 733.0,1347.4 734.0,1347.7 735.0,1347.8 736.0,1348.6 737.0,1346.6 738.0,1347.8 739.0,1348.9 740.0,1347.2 741.0,1348.0 742.0,1348.7 743.0,1347.4 744.0,1347.8 745.0,1347.6 746.0,1348.2 747.0,1347.6 748.0,1347.3 749.0,1347.8 750.0,1347.7 751.0,1348.0 751.5,1347.0 752.0,1346.9 752.5,1346.4 753.0,1347.2 753.5,1346.9 754.0,1345.3 754.5,1344.0 755.0,1345.9 755.5,1343.0 756.0,1342.6 756.5,1342.9 757.0,1344.2 757.5,1343.9 758.0,1343.4 758.5,1344.5 759.0,1344.6 759.5,1345.9 760.0,1345.4 760.5,1347.0 761.0,1346.8 761.5,1346.4 762.0,1345.9 762.5,1347.8 763.0,1347.6 764.0,1346.9 765.0,1347.1 766.0,1347.4 767.0,1347.5 768.0,1347.7 769.0,1347.8 770.0,1347.7 771.0,1347.3 772.0,1348.8 773.0,1347.3 774.0,1346.9 775.0,1347.4 776.0,1346.2 777.0,1346.6 777.2,1346.3 777.7,1346.5 778.0,1345.2 778.2,1344.5 778.7,1345.8 779.0,1344.7 779.2,1345.7 779.7,1344.4 780.0,1343.3 780.2,1343.5 780.7,1341.7 781.0,1341.2 781.2,1341.4 781.7,1340.5 782.0,1338.8 782.2,1339.9 782.7,1339.1 783.0,1339.2 783.2,1337.6 783.7,1339.0 784.0,1338.6 784.2,1339.0 784.7,1340.8 785.0,1340.7 785.2,1341.4 785.7,1342.5 786.0,1343.1 786.2,1342.2 786.7,1342.8 787.0,1343.9 787.2,1344.2 787.7,1343.8 788.0,1344.7 788.2,1344.0 788.7,1344.6 789.0,1344.8 789.2,1345.0 790.0,1345.4 791.0,1344.7 792.0,1344.6 793.0,1343.3 794.0,1343.2 794.2,1342.9 794.7,1341.5 795.0,1342.4 795.2,1340.9 795.7,1339.6 796.0,1338.7 796.2,1338.6 796.7,1336.8 797.0,1335.2 797.2,1335.0 797.7,1333.0 798.0,1331.7 798.2,1330.1 798.7,1326.9 799.0,1325.1 799.2,1324.9 799.7,1323.6 800.0,1323.6 800.2,1322.0 800.7,1322.3 801.0,1323.3 801.2,1324.9 801.7,1327.6 802.0,1328.5 802.2,1329.3 802.7,1331.5 803.0,1334.5 803.2,1334.1 803.7,1337.4 804.0,1338.0 804.2,1337.6 804.7,1339.5 805.0,1341.5 805.2,1341.3 805.7,1342.2 806.0,1343.5 806.2,1343.1 807.0,1344.2 808.0,1345.2 809.0,1345.9 810.0,1347.0 811.0,1346.5 812.0,1347.7 813.0,1348.2 814.0,1347.2 815.0,1348.0 816.0,1347.2 817.0,1348.0 818.0,1348.7 819.0,1348.7 820.0,1347.9 821.0,1348.6 822.0,1348.6 823.0,1348.4 824.0,1348.4 825.0,1349.5 826.0,1346.9 827.0,1348.1 828.0,1348.9 829.0,1348.3 830.0,1348.6 831.0,1348.5 832.0,1348.2 833.0,1348.3 834.0,1347.7 835.0,1348.0 835.5,1348.4 836.0,1348.4 836.5,1348.0 837.0,1347.4 837.5,1347.1 838.0,1346.1 838.5,1346.8 839.0,1346.0 839.5,1345.9 840.0,1345.8 840.5,1345.8 841.0,1345.8 841.5,1345.8 842.0,1345.4 842.5,1346.0 843.0,1347.0 843.5,1346.8 844.0,1347.4 844.5,1347.4 845.0,1348.4 845.5,1348.7 846.0,1349.4 846.5,1347.8 847.0,1348.6 848.0,1347.5 849.0,1348.8 850.0,1348.7 851.0,1348.2 852.0,1349.3 853.0,1348.6 854.0,1347.6 855.0,1349.4 856.0,1348.6 857.0,1348.9 858.0,1348.0 859.0,1347.9 859.9,1347.5 860.0,1347.6 860.4,1348.6 860.9,1348.4 861.0,1347.1 861.4,1347.9 861.9,1347.8 862.0,1347.3 862.4,1347.8 862.9,1347.0 863.0,1347.9 863.4,1347.0 863.9,1347.0 864.0,1344.9 864.4,1346.4 864.9,1346.4 865.0,1346.0 865.4,1346.1 865.9,1345.6 866.0,1346.7 866.4,1345.6 866.9,1346.2 867.0,1347.3 867.4,1347.3 867.9,1346.9 868.0,1346.2 868.4,1346.0 868.9,1347.6 869.0,1347.5 869.4,1347.4 869.9,1347.6 870.0,1349.0 870.4,1348.4 870.9,1348.0 871.0,1347.9 871.4,1347.9 871.9,1348.4 872.0,1348.1 873.0,1348.4 874.0,1348.2 875.0,1348.9 876.0,1348.7 877.0,1347.9 878.0,1350.3 879.0,1348.8 880.0,1348.4 881.0,1348.0 882.0,1348.7 883.0,1348.4 884.0,1349.7 885.0,1349.0 886.0,1348.4 887.0,1347.7 888.0,1349.2 889.0,1347.8 890.0,1349.0 891.0,1348.8 892.0,1347.1 893.0,1348.6 894.0,1349.7 895.0,1348.2 896.0,1347.4 897.0,1347.7 898.0,1348.6 899.0,1348.8 900.0,1349.1 901.0,1348.8 902.0,1348.1 903.0,1348.3 904.0,1348.4 905.0,1348.4 906.0,1347.7 907.0,1348.7 908.0,1348.9 909.0,1348.0 909.9,1348.0 910.0,1347.2 910.4,1347.9 910.9,1347.2 911.0,1347.1 911.4,1348.0 911.9,1347.4 912.0,1347.0 912.4,1346.1 912.9,1346.8 913.0,1347.7 913.4,1346.6 913.9,1346.2 914.0,1346.7 914.4,1347.0 914.9,1345.8 915.0,1346.0 915.4,1345.3 915.9,1345.4 916.0,1345.4 916.4,1345.9 916.9,1345.2 917.0,1345.7 917.4,1345.9 917.9,1346.0 918.0,1345.8 918.4,1346.9 918.9,1346.5 919.0,1345.9 919.4,1347.5 919.9,1346.5 920.0,1347.8 920.4,1346.0 920.9,1347.7 921.0,1348.8 921.4,1347.7 921.9,1348.6 922.0,1347.7 923.0,1347.7 924.0,1348.1 925.0,1348.9 926.0,1349.2 927.0,1349.3 928.0,1349.0 929.0,1348.5 930.0,1347.3 931.0,1348.1 932.0,1349.4 933.0,1347.5 934.0,1348.7 935.0,1348.7 936.0,1347.4 937.0,1348.5 938.0,1348.0 939.0,1348.3 940.0,1348.0 941.0,1347.8 942.0,1347.2 943.0,1346.3 944.0,1348.2 945.0,1346.3 946.0,1346.1 946.2,1345.8 946.7,1345.5 947.0,1345.0 947.2,1345.6 947.7,1344.7 948.0,1344.0 948.2,1343.7 948.7,1343.6 949.0,1342.2 949.2,1342.7 949.7,1342.2 950.0,1341.4 950.2,1340.7 950.7,1338.3 951.0,1339.1 951.2,1338.5 951.7,1338.5 952.0,1337.1 952.2,1337.2 952.7,1338.6 953.0,1337.6 953.2,1339.0 953.7,1339.5 954.0,1338.5 954.2,1340.1 954.7,1341.2 955.0,1341.3 955.2,1341.3 955.7,1343.4 956.0,1343.2 956.2,1343.7 956.7,1344.2 957.0,1344.9 957.2,1345.6 957.7,1346.2 958.0,1346.3 958.2,1345.9 959.0,1346.5 960.0,1347.4 961.0,1348.2 962.0,1347.6 963.0,1347.1 964.0,1348.2 965.0,1348.5 966.0,1348.0 967.0,1349.1 968.0,1348.1 969.0,1348.5 970.0,1348.7 971.0,1349.5 972.0,1347.9 973.0,1348.9 974.0,1349.1 975.0,1348.6 976.0,1349.3 977.0,1348.3 978.0,1348.0 979.0,1348.0 980.0,1348.3 981.0,1348.1 982.0,1349.1 983.0,1348.8 984.0,1347.9 985.0,1349.7 986.0,1348.9 987.0,1347.8 988.0,1347.7 989.0,1348.8 990.0,1349.6 991.0,1348.6 992.0,1349.4 993.0,1349.8 994.0,1349.2 995.0,1348.6 996.0,1348.0 997.0,1348.4 998.0,1349.6 999.0,1348.8 1000.0,1348.2 1001.0,1348.5 1002.0,1348.6 1003.0,1349.4 1004.0,1348.4 1005.0,1349.8 1006.0,1348.8 1007.0,1348.9 1008.0,1347.9 1009.0,1348.8 1010.0,1348.7 1011.0,1348.9 1012.0,1348.0 1013.0,1348.5 1014.0,1347.3 1015.0,1347.5 1016.0,1349.3 1016.3,1347.5 1016.8,1347.2 1017.0,1348.1 1017.3,1347.4 1017.8,1348.9 1018.0,1347.2 1018.3,1347.5 1018.8,1346.6 1019.0,1347.3 1019.3,1346.5 1019.8,1347.8 1020.0,1345.5 1020.3,1346.0 1020.8,1345.8 1021.0,1344.6 1021.3,1344.7 1021.8,1344.4 1022.0,1343.8 1022.3,1344.9 1022.8,1343.1 1023.0,1344.1 1023.3,1344.3 1023.8,1345.5 1024.0,1345.4 1024.3,1346.3 1024.8,1346.8 1025.0,1346.3 1025.3,1345.8 1025.8,1347.1 1026.0,1346.4 1026.3,1346.8 1026.8,1347.2 1027.0,1348.2 1027.3,1349.0 1027.8,1348.3 1028.0,1347.3 1028.3,1348.3 1029.0,1348.6 1030.0,1347.5 1031.0,1348.2 1032.0,1347.8 1033.0,1347.9 1034.0,1348.4 1035.0,1348.4 1036.0,1347.9 1037.0,1348.3 1038.0,1347.5 1039.0,1348.1 1040.0,1348.3 1041.0,1347.8 1042.0,1347.0 1043.0,1347.4 1044.0,1347.9 1045.0,1348.0 1046.0,1347.7 1047.0,1347.4 1048.0,1347.3 1049.0,1345.4 1050.0,1345.4 1050.5,1343.6 1051.0,1344.5 1051.5,1343.2 1052.0,1341.1 1052.5,1341.0 1053.0,1339.9 1053.5,1337.4 1054.0,1336.7 1054.5,1335.5 1055.0,1334.9 1055.5,1332.6 1056.0,1333.5 1056.5,1332.3 1057.0,1333.3 1057.5,1335.9 1058.0,1337.0 1058.5,1337.5 1059.0,1340.3 1059.5,1341.0 1060.0,1341.9 1060.5,1342.6 1061.0,1342.0 1061.5,1344.3 1062.0,1345.4 1063.0,1345.8 1064.0,1346.9 1065.0,1346.9 1066.0,1348.2 1067.0,1346.0 1068.0,1348.3 1069.0,1347.6 1070.0,1348.5 1071.0,1348.9 1072.0,1349.3 1073.0,1349.2 1074.0,1349.5 1075.0,1348.2 1076.0,1349.0 1077.0,1347.6 1078.0,1349.2 1079.0,1348.1 1080.0,1349.7 1081.0,1349.2 1082.0,1349.0 1083.0,1348.8 1084.0,1349.3 1085.0,1348.9 1086.0,1348.4 1087.0,1349.5 1088.0,1348.8 1089.0,1349.6 1090.0,1348.7 1091.0,1348.6 1092.0,1350.7 1093.0,1349.7 1094.0,1350.1 1095.0,1349.2 1096.0,1349.3 1097.0,1349.3 1098.0,1350.5 1099.0,1349.7 1100.0,1349.3 1101.0,1349.2 1102.0,1349.3 1103.0,1349.8 1104.0,1349.1 1105.0,1349.0 1106.0,1349.7 1107.0,1349.3 1108.0,1349.0 1108.8,1349.4 1109.0,1348.1 1109.3,1347.4 1109.8,1346.8 1110.0,1347.7 1110.3,1347.7 1110.8,1347.8 1111.0,1346.3 1111.3,1346.1 1111.8,1346.4 1112.0,1346.2 1112.3,1345.2 1112.8,1345.5 1113.0,1345.8 1113.3,1345.0 1113.8,1346.2 1114.0,1345.1 1114.3,1344.0 1114.8,1344.3 1115.0,1343.6 1115.3,1345.8 1115.8,1344.6 1116.0,1344.7 1116.3,1345.6 1116.8,1345.4 1117.0,1345.4 1117.3,1346.0 1117.8,1347.1 1118.0,1347.3 1118.3,1346.1 1118.8,1346.3 1119.0,1347.7 1119.3,1347.4 1119.8,1347.6 1120.0,1348.6 1120.3,1348.4 1120.8,1348.0 1121.0,1348.7 1122.0,1348.2 1123.0,1348.6 1124.0,1350.2 1125.0,1349.0 1126.0,1349.6 1127.0,1349.2 1128.0,1349.2 1129.0,1348.8 1130.0,1348.8 1131.0,1350.2 1132.0,1350.8 1133.0,1349.9 1134.0,1349.8 1135.0,1349.1 1136.0,1349.4 1137.0,1350.3 1138.0,1350.9 1139.0,1349.6 1140.0,1349.2 1141.0,1349.4 1141.5,1348.7 1142.0,1348.0 1142.5,1347.7 1143.0,1347.8 1143.5,1347.5 1144.0,1346.0 1144.5,1346.0 1145.0,1347.2 1145.5,1347.0 1146.0,1346.6 1146.5,1345.7 1147.0,1345.4 1147.5,1345.9 1148.0,1346.3 1148.5,1346.1 1149.0,1347.4 1149.5,1346.7 1150.0,1346.0 1150.5,1348.2 1151.0,1348.6 1151.5,1348.2 1152.0,1349.2 1152.5,1349.5 1153.0,1347.4 1154.0,1349.4 1155.0,1348.6 1156.0,1349.9 1157.0,1349.8 1158.0,1350.2 1159.0,1349.6 1160.0,1349.5 1161.0,1350.1 1162.0,1351.4 1163.0,1350.2 1164.0,1349.3 1165.0,1350.0 1166.0,1349.8 1167.0,1350.8 1168.0,1350.0 1169.0,1349.7 1170.0,1350.0 1171.0,1349.4 1172.0,1350.0 1173.0,1349.0 1174.0,1349.2 1174.5,1349.5 1175.0,1348.4 1175.5,1348.2 1176.0,1348.4 1176.5,1349.6 1177.0,1349.0 1177.5,1348.2 1178.0,1348.5 1178.5,1348.1 1179.0,1347.0 1179.5,1346.4 1180.0,1347.7 1180.5,1346.5 1181.0,1347.3 1181.5,1346.2 1182.0,1347.3 1182.5,1346.9 1183.0,1348.4 1183.5,1348.7 1184.0,1348.8 1184.5,1349.3 1185.0,1348.7 1185.5,1349.5 1186.0,1349.8 1186.5,1349.0 1187.0,1350.0 1188.0,1350.0 1189.0,1350.3 1190.0,1350.0 1191.0,1350.2 1192.0,1350.6 1193.0,1350.4 1194.0,1350.8 1195.0,1349.6 1196.0,1351.1 1197.0,1350.0 1198.0,1351.2 1199.0,1349.7 1200.0,1350.2 1201.0,1350.8 1202.0,1350.9 1203.0,1350.4 1204.0,1350.1 1205.0,1351.1 1206.0,1351.3 1207.0,1350.2 1208.0,1350.0 1209.0,1350.4 1210.0,1350.6 1211.0,1349.7 1212.0,1350.1 1213.0,1351.1 1214.0,1350.2 1215.0,1350.2 1216.0,1351.6 1217.0,1351.3 1218.0,1351.7 1219.0,1350.6 1220.0,1350.5 1221.0,1350.3 1222.0,1349.6 1223.0,1349.1 1224.0,1350.3 1225.0,1349.7 1226.0,1350.4 1227.0,1350.3 1228.0,1348.5 1228.5,1348.4 1229.0,1349.1 1229.5,1349.6 1230.0,1349.4 1230.5,1347.7 1231.0,1347.7 1231.5,1348.1 1232.0,1346.4 1232.5,1345.8 1233.0,1346.9 1233.5,1345.4 1234.0,1345.0 1234.5,1346.8 1235.0,1345.8 1235.5,1346.2 1236.0,1347.2 1236.5,1348.2 1237.0,1348.2 1237.5,1348.2 1238.0,1348.7 1238.5,1349.0 1239.0,1349.2 1239.5,1348.2 1240.0,1349.6 1241.0,1348.9 1242.0,1349.5 1243.0,1350.2 1244.0,1350.2 1245.0,1350.5 1246.0,1350.3 1247.0,1350.6 1248.0,1351.4 1249.0,1349.6 1250.0,1350.8 1251.0,1351.1 1252.0,1349.6 1253.0,1349.4 1254.0,1349.2 1255.0,1349.0 1256.0,1347.7 1256.5,1347.5 1257.0,1347.2 1257.5,1346.8 1258.0,1347.0 1258.5,1345.1 1259.0,1345.2 1259.5,1344.3 1260.0,1343.1 1260.5,1342.3 1261.0,1341.0 1261.5,1340.6 1262.0,1341.2 1262.5,1341.2 1263.0,1341.4 1263.5,1343.0 1264.0,1343.2 1264.5,1344.0 1265.0,1344.7 1265.5,1346.2 1266.0,1346.6 1266.5,1347.1 1267.0,1346.7 1267.5,1349.0 1268.0,1347.5 1269.0,1349.3 1270.0,1348.9 1271.0,1349.0 1272.0,1348.3 1273.0,1350.6 1274.0,1350.9 1275.0,1350.6 1276.0,1350.7 1277.0,1350.2 1278.0,1351.1 1279.0,1351.1 1280.0,1350.4 1281.0,1351.1 1282.0,1351.2 1283.0,1350.8 1284.0,1352.2 1285.0,1350.8 1286.0,1352.8 1287.0,1352.3 1288.0,1351.4 1289.0,1352.7 1290.0,1352.4 1291.0,1352.5 1292.0,1351.9 1293.0,1351.2 1294.0,1350.6 1295.0,1352.0 1296.0,1351.8 1297.0,1351.5 1298.0,1353.2 1299.0,1352.2 1300.0,1351.0 1301.0,1351.9 1302.0,1352.3 1303.0,1351.3 1304.0,1352.2 1305.0,1351.8 1306.0,1351.2 1307.0,1352.3 1308.0,1352.5 1309.0,1350.5 1310.0,1352.4 1311.0,1351.8 1312.0,1351.9 1313.0,1351.1 1314.0,1351.5 1315.0,1353.2 1316.0,1352.6 1317.0,1352.1 1318.0,1352.2 1319.0,1351.7 1320.0,1352.1 1321.0,1351.7 1322.0,1352.4 1323.0,1351.5 1324.0,1352.3 1325.0,1352.7 1326.0,1352.0 1327.0,1352.3 1328.0,1352.4 1329.0,1351.9 1330.0,1351.3 1331.0,1352.8 1332.0,1352.2 1333.0,1351.9 1334.0,1352.7 1335.0,1351.4 1336.0,1351.5 1337.0,1351.2 1337.5,1350.9 1338.0,1351.3 1338.5,1350.9 1339.0,1352.0 1339.5,1350.6 1340.0,1351.6 1340.5,1350.1 1341.0,1350.2 1341.5,1350.3 1342.0,1349.6 1342.5,1350.4 1343.0,1349.6 1343.5,1349.6 1344.0,1350.5 1344.5,1349.8 1345.0,1350.8 1345.5,1351.3 1346.0,1351.3 1346.5,1351.9 1347.0,1351.0 1347.5,1352.1 1348.0,1351.2 1348.5,1350.7 1349.0,1351.7 1350.0,1353.1 1351.0,1351.5 1352.0,1353.2 1353.0,1351.4 1354.0,1352.9 1355.0,1352.7 1356.0,1352.2 1357.0,1351.1 1358.0,1352.9 1359.0,1352.9 1360.0,1352.9 1361.0,1353.2 1362.0,1352.1 1363.0,1353.8 1364.0,1353.2 1365.0,1352.2 1366.0,1354.0 1367.0,1352.7 1368.0,1353.0 1369.0,1353.2 1370.0,1352.2 1371.0,1352.2 1372.0,1352.7 1373.0,1352.1 1374.0,1352.7 1375.0,1353.6 1376.0,1352.1 1377.0,1352.9 1378.0,1352.5 1379.0,1353.3 1380.0,1352.1 1381.0,1352.2 1382.0,1352.7 1383.0,1354.1 1384.0,1352.3 1385.0,1351.8 1386.0,1352.3 1387.0,1353.3 1388.0,1353.4 1389.0,1352.8 1390.0,1353.0 1391.0,1352.0 1392.0,1353.1 1393.0,1352.8 1394.0,1352.5 1395.0,1353.5 1396.0,1353.5 1397.0,1352.6 1398.0,1353.1 1399.0,1351.8 1400.0,1352.3 1401.0,1353.7 1402.0,1352.3 1403.0,1352.4 1404.0,1353.6 1405.0,1351.6 1406.0,1352.5 1407.0,1353.4 1408.0,1352.7 1409.0,1352.4 1410.0,1352.3 1411.0,1353.1 1412.0,1352.4 1413.0,1353.2 1414.0,1352.9 1415.0,1353.0 1416.0,1353.7 1417.0,1352.7 1418.0,1352.5 1419.0,1353.0 1420.0,1353.2 1421.0,1352.9 1422.0,1352.0 1423.0,1353.5 1424.0,1352.0 1425.0,1351.9 1426.0,1353.6 1427.0,1354.0 1428.0,1352.9 1429.0,1352.6 1430.0,1353.9 1431.0,1352.3 1432.0,1353.1 1433.0,1352.8 1434.0,1353.5 1435.0,1353.3 1436.0,1352.7 1437.0,1353.8 1438.0,1353.6 1439.0,1353.2 1440.0,1353.0 1441.0,1353.1 1442.0,1352.4 1443.0,1353.0 1444.0,1353.0 1445.0,1353.5 1446.0,1353.1 1447.0,1353.0 1448.0,1353.4 1449.0,1353.8 1450.0,1353.6 1451.0,1353.1 1452.0,1353.0 1453.0,1354.0 1454.0,1353.2 1455.0,1352.5 1456.0,1353.4 1457.0,1352.2 1458.0,1352.9 1459.0,1353.6 1460.0,1353.2 1461.0,1353.1 1462.0,1353.7 1463.0,1354.0 1464.0,1352.7 1465.0,1352.6 1466.0,1352.9 1467.0,1352.6 1468.0,1353.6 1469.0,1353.7 1470.0,1353.3 1471.0,1352.7 1472.0,1352.4 1473.0,1353.2 1474.0,1352.9 1475.0,1353.6 1476.0,1352.6 1477.0,1353.0 1478.0,1353.1 1479.0,1354.0 1480.0,1353.8 1481.0,1353.6 1482.0,1353.5 1483.0,1353.8 1484.0,1352.3 1485.0,1353.9 1486.0,1353.2 1487.0,1354.3 1488.0,1353.9 1489.0,1354.1 1490.0,1353.0 1491.0,1355.2 1492.0,1353.8 1493.0,1353.6 1494.0,1353.1 1495.0,1353.7 1496.0,1352.2 1497.0,1354.3 1498.0,1353.8 1499.0,1353.4 1500.0,1354.3 1501.0,1353.8 1502.0,1353.8 1503.0,1353.2 1504.0,1353.7 1505.0,1352.8 1506.0,1352.8 1507.0,1353.6 1508.0,1353.2 1509.0,1352.7 1510.0,1353.4 1511.0,1352.4 1512.0,1354.5 1513.0,1353.0 1514.0,1353.0 1515.0,1354.5 1516.0,1352.7 1517.0,1352.2 1518.0,1353.6 1519.0,1353.4 1520.0,1354.2 1521.0,1353.5 1522.0,1352.6 1523.0,1353.6 1524.0,1353.4 1525.0,1354.3 1526.0,1353.8 1527.0,1353.0 1528.0,1353.2 1529.0,1353.6 1530.0,1353.4 1531.0,1353.7 1532.0,1353.8 1533.0,1352.9 1534.0,1353.8 1535.0,1354.1 1536.0,1352.9 1537.0,1352.8 1538.0,1354.1 1539.0,1354.0 1540.0,1354.2 1541.0,1354.7 1542.0,1353.6 1543.0,1353.0 1544.0,1353.8 1545.0,1353.3 1546.0,1353.9 1547.0,1354.1 1548.0,1353.8 1549.0,1354.0 1550.0,1353.7 1551.0,1353.9 1552.0,1353.0 1553.0,1354.7 1554.0,1353.3 1555.0,1353.5 1556.0,1353.3 1557.0,1353.6 1558.0,1353.5 1559.0,1352.5 1560.0,1354.7 1561.0,1354.0 1562.0,1353.6 1563.0,1353.7 1564.0,1354.4 1565.0,1354.3 1566.0,1353.9 1567.0,1354.3 1568.0,1352.2 1569.0,1354.3 1570.0,1353.6 1571.0,1353.3 1572.0,1353.2 1573.0,1353.8 1574.0,1352.7 1575.0,1354.0 1576.0,1353.3 1577.0,1354.2 1578.0,1352.7 1579.0,1354.0 1580.0,1353.5 1581.0,1353.1 1582.0,1354.5 1583.0,1354.5 1584.0,1353.2 1585.0,1353.6 1586.0,1354.7 1587.0,1353.9 1588.0,1353.4 1589.0,1353.2 1590.0,1353.3 1591.0,1354.2 1592.0,1354.4 1593.0,1353.6 1594.0,1353.2 1595.0,1353.3 1596.0,1352.7 1597.0,1354.1 1598.0,1353.8 1599.0,1354.5 1600.0,1355.2 1601.0,1354.6 1602.0,1353.6 1603.0,1353.6 1604.0,1353.0 1605.0,1352.6 1606.0,1355.0 1607.0,1354.0 1608.0,1352.9 1609.0,1354.3 1610.0,1352.6 1611.0,1353.7 1612.0,1353.9 1613.0,1353.4 1614.0,1353.5 1615.0,1354.3 1616.0,1353.5 1617.0,1354.5 1618.0,1352.8 1619.0,1353.6 1620.0,1354.9 1621.0,1353.2 1622.0,1353.3 1623.0,1353.9 1624.0,1353.6 1625.0,1354.0 1626.0,1354.5 1627.0,1354.2 1628.0,1354.0 1629.0,1353.6 1630.0,1354.0 1631.0,1354.5 1632.0,1353.4 1633.0,1353.6 1634.0,1353.2 1635.0,1353.9 1636.0,1354.0 1637.0,1353.6 1638.0,1353.3 1639.0,1353.5 1640.0,1354.3 1641.0,1353.6 1642.0,1354.5 1643.0,1353.6 1644.0,1353.5 1645.0,1354.4 1646.0,1353.5 1647.0,1354.7 1648.0,1352.6 1649.0,1354.0 1650.0,1353.7 1651.0,1353.8 1652.0,1354.2 1653.0,1352.8 1654.0,1355.3 1655.0,1353.7 1656.0,1355.5 1657.0,1354.5 1658.0,1354.2 1659.0,1353.1 1660.0,1355.1 1661.0,1354.4 1662.0,1354.8 1663.0,1353.1 1664.0,1353.0 1665.0,1353.8 1666.0,1354.4 1667.0,1354.5 1668.0,1354.8 1669.0,1353.5 1670.0,1353.2 1671.0,1354.5 1672.0,1353.5 1673.0,1354.0 1674.0,1355.3 1675.0,1353.8 1676.0,1354.3 1677.0,1354.3 1678.0,1354.1 1679.0,1354.3 1680.0,1354.4 1681.0,1354.2 1682.0,1355.1 1683.0,1354.7 1684.0,1353.5 1685.0,1355.0 1686.0,1354.2 1687.0,1354.0 1688.0,1353.7 1689.0,1354.6 1690.0,1354.1 1691.0,1353.7 1692.0,1353.7 1693.0,1354.9 1694.0,1354.0 1695.0,1353.9 1696.0,1355.7 1697.0,1354.4 1698.0,1354.6 1699.0,1354.3 1700.0,1354.2 1701.0,1353.6 1702.0,1354.6 1703.0,1354.4 1704.0,1353.7 1705.0,1354.2 1706.0,1355.3 1707.0,1354.4 1708.0,1354.3 1709.0,1353.9 1710.0,1353.9 1711.0,1354.6 1712.0,1354.8 1713.0,1354.4 1714.0,1354.8 1715.0,1353.8 1716.0,1354.0 1717.0,1354.5 1718.0,1355.0 1719.0,1354.0 1720.0,1354.8 1721.0,1353.6 1722.0,1354.9 1723.0,1355.1 1724.0,1354.1 1725.0,1354.5 1726.0,1354.7 1727.0,1353.9 1728.0,1354.1 1729.0,1354.0 1730.0,1354.6 1731.0,1354.9 1732.0,1353.8 1733.0,1353.9 1734.0,1354.7 1735.0,1353.9 1736.0,1354.2 1737.0,1354.8 1738.0,1354.4 1739.0,1355.0 1740.0,1354.4 1741.0,1354.3 1742.0,1353.9 1743.0,1353.0 1744.0,1354.1 1745.0,1353.3 1746.0,1354.8 1747.0,1354.8 1748.0,1354.7 1749.0,1355.1 1750.0,1355.7 1751.0,1353.3 1752.0,1354.3 1753.0,1354.9 1754.0,1354.3 1755.0,1354.3 1756.0,1355.1 1757.0,1354.7 1758.0,1353.6 1759.0,1355.3 1760.0,1353.9 1761.0,1354.6 1762.0,1354.8 1763.0,1353.4 1764.0,1355.5 1765.0,1354.8 1766.0,1354.7 1767.0,1354.9 1768.0,1354.3 1769.0,1354.9 1770.0,1354.8 1771.0,1353.1 1772.0,1353.7 1773.0,1355.0 1774.0,1353.8 1775.0,1354.8 1776.0,1354.4 1777.0,1354.9 1778.0,1353.4 1779.0,1354.5 1780.0,1354.5 1781.0,1354.6 1782.0,1354.6 1783.0,1354.5 1784.0,1354.7 1785.0,1354.8 1786.0,1354.2 1787.0,1355.4 1788.0,1354.5 1789.0,1354.1 1790.0,1354.9 1791.0,1353.6 1792.0,1355.1 1793.0,1354.3 1794.0,1354.5 1795.0,1354.5 1796.0,1354.8 1797.0,1354.1 1798.0,1354.2 1799.0,1354.7 1800.0,1354.1 1801.0,1354.5 1802.0,1354.4 1803.0,1354.3 1804.0,1354.1 1805.0,1354.0 1806.0,1354.2 1807.0,1353.8 1808.0,1353.8 1809.0,1356.1 1810.0,1354.5 1811.0,1355.1 1812.0,1354.7 1813.0,1355.0 1814.0,1354.6 1815.0,1355.1 1816.0,1354.7 1817.0,1354.7 1818.0,1353.8 1819.0,1355.1 1820.0,1354.4 1821.0,1354.5 1822.0,1354.8 1823.0,1354.7 1824.0,1354.6 1825.0,1355.3 1826.0,1354.1 1827.0,1353.4 1828.0,1354.4 1829.0,1353.3 1830.0,1354.5 1831.0,1355.3 1832.0,1355.5 1833.0,1354.0 1834.0,1354.8 1835.0,1353.9 1836.0,1354.8 1837.0,1355.4 1838.0,1354.3 1839.0,1355.5 1840.0,1354.8 1841.0,1356.2 1842.0,1354.3 1843.0,1354.1 1844.0,1355.4 1845.0,1355.2 1846.0,1355.0 1847.0,1354.2 1848.0,1354.8 1849.0,1354.4 1850.0,1355.6 1851.0,1355.1 1852.0,1354.3 1853.0,1354.2 1854.0,1353.8 1855.0,1354.4 1856.0,1354.7 1857.0,1355.0 1858.0,1355.4 1859.0,1354.4 1860.0,1355.5 1861.0,1353.5 1862.0,1354.7 1863.0,1355.1 1864.0,1354.4 1865.0,1354.9 1866.0,1355.2 1867.0,1354.4 1868.0,1354.9 1869.0,1355.4 1870.0,1354.1 1871.0,1355.4 1872.0,1354.7 1873.0,1353.9 1874.0,1355.0 1875.0,1355.2 1876.0,1354.7 1877.0,1355.0 1878.0,1355.1 1879.0,1354.8 1880.0,1354.9 1881.0,1355.3 1882.0,1355.3 1883.0,1354.8 1884.0,1353.7 1885.0,1354.1 1886.0,1354.6 1887.0,1355.5 1888.0,1355.1 1889.0,1355.9 1890.0,1355.1 1891.0,1355.1 1892.0,1354.6 1893.0,1355.6 1894.0,1354.0 1895.0,1355.0 1896.0,1354.8 1897.0,1354.5 1898.0,1355.4 1899.0,1355.3 1900.0,1355.1 1901.0,1354.7 1902.0,1354.0 1903.0,1354.1 1904.0,1353.4 1905.0,1354.1 1906.0,1355.0 1907.0,1355.7 1908.0,1354.2 1909.0,1355.6 1910.0,1356.0 1911.0,1355.5 1912.0,1355.9 1913.0,1354.9 1914.0,1354.6 1915.0,1355.0 1916.0,1355.5 1917.0,1355.2 1918.0,1355.0 1919.0,1355.4 1920.0,1354.4 1921.0,1355.4 1922.0,1353.7 1923.0,1355.8 1924.0,1355.8 1925.0,1356.3 1926.0,1354.4 1927.0,1354.6 1928.0,1354.3 1929.0,1354.1 1930.0,1353.5 1931.0,1355.4 1932.0,1354.8 1933.0,1354.9 1934.0,1353.9 1935.0,1355.0 1936.0,1356.2 1937.0,1355.0 1938.0,1355.4 1939.0,1354.2 1940.0,1355.6 1941.0,1354.9 1942.0,1355.0 1943.0,1355.2 1944.0,1354.8 1945.0,1355.4 1946.0,1354.9 1947.0,1354.7 1948.0,1354.3 1949.0,1354.3 1950.0,1355.5 1951.0,1355.6 1952.0,1354.9 1953.0,1354.9 1954.0,1354.6 1955.0,1355.1 1956.0,1355.8 1957.0,1355.1 1958.0,1354.7 1959.0,1355.6 1960.0,1355.4 1961.0,1353.9 1962.0,1354.7 1963.0,1355.7 1964.0,1355.2 1965.0,1355.0 1966.0,1355.3 1967.0,1354.3 1968.0,1354.3 1969.0,1354.9 1970.0,1355.1 1971.0,1356.0 1972.0,1354.9 1973.0,1355.2 1974.0,1355.9 1975.0,1354.7 1976.0,1354.9 1977.0,1355.0 1978.0,1355.2 1979.0,1355.1 1980.0,1355.4 1981.0,1354.3 1982.0,1354.2 1983.0,1355.0 1984.0,1354.0 1985.0,1356.0 1986.0,1354.5 1987.0,1354.7 1988.0,1355.4 1989.0,1355.2 1990.0,1355.4 1991.0,1355.0 1992.0,1354.2 1993.0,1354.9 1994.0,1354.6 1995.0,1354.0 1996.0,1354.8 1997.0,1355.6 1998.0,1354.4 1999.0,1354.6 2000.0,1354.6 2001.0,1355.5 2002.0,1353.8 2003.0,1355.3 2004.0,1355.1 2005.0,1354.9 2006.0,1354.4 2007.0,1354.8 2008.0,1356.2 2009.0,1355.1 2010.0,1354.8 2011.0,1355.5 2012.0,1354.2 2013.0,1355.7 2014.0,1354.9 2015.0,1356.5 2016.0,1356.3 2017.0,1355.4 2018.0,1355.3 2019.0,1354.8 2020.0,1355.4 2021.0,1355.5 2022.0,1354.2 2023.0,1354.1 2024.0,1355.3 2025.0,1354.7 2026.0,1355.1 2027.0,1355.1 2028.0,1355.1 2029.0,1354.9 2030.0,1355.4 2031.0,1355.9 2032.0,1356.0 2033.0,1354.8 2034.0,1355.1 2035.0,1355.1 2036.0,1354.1 2037.0,1354.1 2038.0,1354.9 2039.0,1355.3 2040.0,1355.5 2041.0,1354.6 2042.0,1355.4 2043.0,1354.9 2044.0,1354.7 2045.0,1355.6 2046.0,1354.0 2047.0,1353.6 2048.0,1356.2 2049.0,1355.0 2050.0,1355.5 2051.0,1354.9 2052.0,1354.6 2053.0,1354.3 2054.0,1353.9 2055.0,1355.1 2056.0,1354.4 2057.0,1354.9 2058.0,1355.2 2059.0,1355.0 2060.0,1355.1 2061.0,1355.9 2062.0,1355.2 2063.0,1355.1 2064.0,1354.9 2065.0,1355.9 2066.0,1355.8 2067.0,1354.7 2068.0,1355.2 2069.0,1354.9 2070.0,1354.7 2071.0,1354.5 2072.0,1356.1 2073.0,1355.3 2074.0,1353.7 2075.0,1355.7 2076.0,1356.1 2077.0,1355.1 2078.0,1355.0 2079.0,1355.1 2080.0,1355.6 2081.0,1354.7 2082.0,1355.3 2083.0,1354.1 2084.0,1355.7 2085.0,1354.3 2086.0,1354.8 2087.0,1355.3 2088.0,1355.6 2089.0,1354.6 2090.0,1354.6 2091.0,1355.9 2092.0,1354.6 2093.0,1354.5 2094.0,1354.7 2095.0,1355.4 2096.0,1355.4 2097.0,1355.6 2098.0,1355.3 2099.0,1354.8 2100.0,1355.3 2101.0,1355.5 2102.0,1354.3 2103.0,1354.6 2104.0,1355.0 2105.0,1356.0 2106.0,1354.8 2107.0,1355.1 2108.0,1355.0 2109.0,1355.2 2110.0,1355.4 2111.0,1354.4 2112.0,1353.3 2113.0,1355.5 2114.0,1353.8 2115.0,1355.2 2116.0,1355.3 2117.0,1355.4" fill="none" stroke="#0070C0" stroke-width="4.6" stroke-linejoin="round" stroke-linecap="butt" shape-rendering="crispEdges"/>
<polyline points="166.0,1057.7 167.0,1059.4 168.0,1059.8 169.0,1059.7 170.0,1060.3 171.0,1057.3 172.0,1057.9 173.0,1058.1 174.0,1058.3 175.0,1059.6 176.0,1059.3 177.0,1058.3 178.0,1060.3 179.0,1058.8 180.0,1056.4 181.0,1059.5 182.0,1056.0 183.0,1056.0 184.0,1057.0 185.0,1056.8 186.0,1057.2 187.0,1057.3 188.0,1056.2 189.0,1056.1 190.0,1057.9 191.0,1057.3 192.0,1056.6 193.0,1055.7 194.0,1056.8 195.0,1055.3 196.0,1054.8 197.0,1057.8 198.0,1057.3 199.0,1055.9 200.0,1058.4 201.0,1056.0 202.0,1057.0 203.0,1056.7 204.0,1056.1 205.0,1056.1 206.0,1057.9 207.0,1057.0 208.0,1053.2 209.0,1056.4 210.0,1052.6 211.0,1054.1 212.0,1056.0 213.0,1053.9 214.0,1056.9 215.0,1054.7 216.0,1055.9 217.0,1055.4 218.0,1056.0 219.0,1056.7 220.0,1052.8 221.0,1054.7 222.0,1054.9 223.0,1056.0 224.0,1055.3 225.0,1054.1 226.0,1052.5 227.0,1052.1 228.0,1053.0 229.0,1054.4 230.0,1054.3 231.0,1056.0 232.0,1054.4 233.0,1055.0 234.0,1051.9 235.0,1054.1 236.0,1053.0 237.0,1052.8 238.0,1055.3 239.0,1053.5 240.0,1053.3 241.0,1053.4 242.0,1051.5 243.0,1051.0 244.0,1055.8 245.0,1053.2 246.0,1053.0 247.0,1053.3 248.0,1052.3 249.0,1052.5 250.0,1051.6 251.0,1053.2 252.0,1052.5 253.0,1054.0 254.0,1054.7 255.0,1051.0 256.0,1053.4 257.0,1051.8 258.0,1055.3 259.0,1052.5 260.0,1053.5 261.0,1051.5 262.0,1053.8 263.0,1051.0 264.0,1050.2 265.0,1048.5 266.0,1051.8 267.0,1051.2 268.0,1052.0 269.0,1050.4 270.0,1051.5 271.0,1051.5 272.0,1050.0 273.0,1054.1 274.0,1054.4 275.0,1051.7 276.0,1052.0 277.0,1052.1 278.0,1052.1 279.0,1050.0 280.0,1051.4 281.0,1053.5 282.0,1050.7 283.0,1050.5 284.0,1049.5 285.0,1050.2 286.0,1047.6 287.0,1050.6 288.0,1052.1 289.0,1051.0 290.0,1050.7 291.0,1050.5 292.0,1050.4 293.0,1048.8 294.0,1047.6 295.0,1052.8 296.0,1050.8 297.0,1046.9 298.0,1052.2 299.0,1049.3 300.0,1051.2 301.0,1049.6 302.0,1048.8 303.0,1050.8 304.0,1049.1 305.0,1046.0 306.0,1050.2 307.0,1049.3 308.0,1049.2 309.0,1048.8 310.0,1049.8 311.0,1051.3 312.0,1050.5 313.0,1049.4 314.0,1049.1 315.0,1047.8 316.0,1051.3 317.0,1045.9 318.0,1047.2 319.0,1048.3 320.0,1048.7 321.0,1048.8 322.0,1047.8 323.0,1051.1 324.0,1050.0 325.0,1045.5 326.0,1046.7 327.0,1046.1 328.0,1050.0 329.0,1047.3 330.0,1045.6 331.0,1047.4 332.0,1045.8 333.0,1047.7 334.0,1048.6 335.0,1045.9 336.0,1047.8 337.0,1047.8 338.0,1046.3 339.0,1048.0 340.0,1046.2 341.0,1048.1 342.0,1046.8 343.0,1046.3 344.0,1049.0 345.0,1048.3 346.0,1046.3 347.0,1042.1 348.0,1047.0 349.0,1045.8 350.0,1047.0 351.0,1046.4 352.0,1045.9 353.0,1045.7 354.0,1048.2 355.0,1048.3 356.0,1047.9 357.0,1044.2 358.0,1045.3 359.0,1046.0 360.0,1042.8 361.0,1047.1 362.0,1043.9 363.0,1046.9 364.0,1044.5 365.0,1045.8 366.0,1042.6 367.0,1041.3 368.0,1043.9 369.0,1042.8 370.0,1042.8 371.0,1044.0 372.0,1045.0 373.0,1045.7 374.0,1043.0 375.0,1042.1 376.0,1044.1 377.0,1042.5 378.0,1042.2 379.0,1043.3 380.0,1045.5 381.0,1044.2 382.0,1040.6 383.0,1046.5 384.0,1041.5 385.0,1043.7 386.0,1042.1 387.0,1044.7 388.0,1043.8 389.0,1044.9 390.0,1043.4 391.0,1042.7 392.0,1044.7 393.0,1039.9 394.0,1040.7 395.0,1040.4 396.0,1042.2 397.0,1041.7 398.0,1041.0 399.0,1043.3 400.0,1042.9 401.0,1041.3 402.0,1039.8 403.0,1045.1 404.0,1042.3 405.0,1040.8 406.0,1041.9 407.0,1042.1 408.0,1040.5 409.0,1042.5 410.0,1041.5 411.0,1040.5 412.0,1042.8 413.0,1040.4 414.0,1042.9 415.0,1041.1 416.0,1040.4 417.0,1042.5 418.0,1040.0 419.0,1041.3 420.0,1042.4 421.0,1039.7 422.0,1039.3 423.0,1041.3 424.0,1041.5 425.0,1036.5 426.0,1040.6 427.0,1041.5 428.0,1038.7 429.0,1041.1 430.0,1038.9 431.0,1038.3 432.0,1038.7 433.0,1040.2 434.0,1038.4 435.0,1038.0 436.0,1038.8 437.0,1039.9 438.0,1035.3 439.0,1040.2 440.0,1040.6 441.0,1036.5 442.0,1037.9 443.0,1038.7 444.0,1038.0 445.0,1040.8 446.0,1037.8 447.0,1036.6 448.0,1036.7 449.0,1037.8 450.0,1035.9 451.0,1036.0 452.0,1036.0 453.0,1039.6 454.0,1037.7 455.0,1034.6 456.0,1037.3 457.0,1031.8 458.0,1036.2 459.0,1037.1 460.0,1036.5 461.0,1036.7 462.0,1036.1 463.0,1034.4 464.0,1035.1 465.0,1034.9 466.0,1032.7 467.0,1035.2 468.0,1033.2 469.0,1035.9 470.0,1038.6 471.0,1038.3 472.0,1039.0 473.0,1033.6 474.0,1033.4 475.0,1035.2 476.0,1032.3 477.0,1034.9 478.0,1032.6 479.0,1034.0 480.0,1032.6 481.0,1036.0 482.0,1035.1 483.0,1034.4 484.0,1030.5 485.0,1034.8 486.0,1031.7 487.0,1029.9 488.0,1032.7 489.0,1033.9 490.0,1029.1 491.0,1033.1 492.0,1031.1 493.0,1031.0 494.0,1032.2 495.0,1030.5 496.0,1029.7 497.0,1032.8 498.0,1026.0 499.0,1032.3 500.0,1027.9 501.0,1032.4 502.0,1027.7 503.0,1032.4 504.0,1026.4 505.0,1032.9 506.0,1029.6 507.0,1028.7 508.0,1028.4 509.0,1030.7 510.0,1028.3 511.0,1029.6 512.0,1028.6 513.0,1026.0 514.0,1031.2 515.0,1027.4 516.0,1028.1 517.0,1027.9 518.0,1027.2 519.0,1030.3 520.0,1027.5 521.0,1026.1 522.0,1026.6 523.0,1025.6 524.0,1023.8 525.0,1028.0 526.0,1023.7 527.0,1027.8 528.0,1025.4 529.0,1026.6 530.0,1024.7 531.0,1024.0 532.0,1029.0 533.0,1023.4 534.0,1022.1 535.0,1024.6 536.0,1026.3 537.0,1020.7 538.0,1022.0 539.0,1024.6 540.0,1024.5 541.0,1023.5 542.0,1021.3 543.0,1022.4 544.0,1020.2 545.0,1022.4 546.0,1021.2 547.0,1021.5 548.0,1020.2 549.0,1021.9 550.0,1020.3 551.0,1018.3 552.0,1022.6 553.0,1019.9 554.0,1018.5 555.0,1018.5 556.0,1021.8 557.0,1018.5 558.0,1018.6 559.0,1016.0 560.0,1016.7 561.0,1015.9 562.0,1015.0 563.0,1014.2 564.0,1015.5 565.0,1013.1 566.0,1017.0 567.0,1017.0 568.0,1013.0 569.0,1015.6 570.0,1012.7 571.0,1014.7 572.0,1014.7 573.0,1009.6 574.0,1007.5 575.0,1013.8 576.0,1013.5 577.0,1012.0 578.0,1010.4 579.0,1009.7 580.0,1005.1 581.0,1013.9 582.0,1005.1 583.0,1010.5 584.0,1009.1 585.0,1010.0 586.0,1006.0 587.0,1006.6 588.0,1009.2 589.0,1005.2 590.0,1007.6 591.0,1003.9 592.0,1007.1 593.0,1007.5 594.0,1006.0 595.0,1006.9 596.0,1002.4 597.0,1003.5 598.0,1003.6 599.0,1007.5 600.0,1002.2 601.0,1003.3 602.0,1005.8 603.0,1003.0 604.0,1004.3 605.0,999.1 606.0,1003.8 607.0,1001.0 608.0,1001.9 609.0,1002.0 610.0,995.1 611.0,1002.4 612.0,998.1 613.0,1001.8 614.0,997.8 615.0,998.7 616.0,993.8 617.0,994.5 618.0,999.8 619.0,994.6 620.0,997.0 621.0,995.8 622.0,992.7 623.0,994.7 624.0,994.5 625.0,996.1 626.0,993.2 627.0,992.3 628.0,997.2 629.0,997.0 630.0,993.1 631.0,990.0 632.0,993.3 633.0,990.6 634.0,995.3 635.0,991.3 636.0,989.4 637.0,989.9 638.0,988.0 639.0,990.0 640.0,986.6 641.0,990.2 642.0,991.5 643.0,990.4 644.0,986.5 645.0,989.7 646.0,987.4 647.0,984.5 648.0,987.8 649.0,990.0 650.0,988.1 651.0,986.4 652.0,985.4 653.0,986.7 654.0,987.8 655.0,986.8 656.0,989.2 657.0,988.1 658.0,988.3 659.0,984.8 660.0,986.5 661.0,985.3 662.0,986.0 663.0,985.6 664.0,991.1 665.0,981.5 666.0,985.3 667.0,983.0 668.0,985.2 669.0,984.6 670.0,987.8 671.0,983.4 672.0,981.9 673.0,984.4 674.0,984.2 675.0,977.9 676.0,988.3 677.0,981.0 678.0,987.4 679.0,986.6 680.0,987.0 681.0,983.9 682.0,981.3 683.0,981.6 684.0,986.9 685.0,982.5 686.0,984.9 687.0,983.0 688.0,982.6 689.0,986.8 690.0,982.0 691.0,984.1 692.0,984.1 693.0,985.4 694.0,985.0 695.0,982.8 696.0,984.6 697.0,985.1 698.0,991.3 699.0,988.5 700.0,986.4 701.0,987.4 702.0,986.5 703.0,991.8 704.0,987.3 705.0,985.5 706.0,998.9 707.0,986.5 708.0,987.3 709.0,986.5 710.0,990.5 711.0,987.9 712.0,987.9 713.0,992.8 714.0,994.3 715.0,991.7 716.0,988.4 717.0,992.8 718.0,990.2 719.0,993.0 720.0,993.4 721.0,989.9 722.0,995.8 723.0,993.9 724.0,994.2 725.0,991.9 726.0,997.6 727.0,993.8 728.0,996.4 729.0,994.0 730.0,993.9 731.0,994.3 732.0,993.8 733.0,997.5 734.0,1002.4 735.0,1002.2 736.0,997.8 737.0,998.5 738.0,1004.9 739.0,1003.4 740.0,1002.0 741.0,1001.5 742.0,1002.0 743.0,997.7 744.0,1002.4 745.0,1009.6 746.0,1008.8 747.0,1004.7 748.0,1007.8 749.0,1007.8 750.0,1005.4 751.0,1005.0 752.0,1006.2 753.0,1008.5 754.0,1011.6 755.0,1009.5 756.0,1009.3 757.0,1009.1 758.0,1013.0 759.0,1014.4 760.0,1011.4 761.0,1010.7 762.0,1012.4 763.0,1013.4 764.0,1015.2 765.0,1015.1 766.0,1011.4 767.0,1013.3 768.0,1013.0 769.0,1015.8 770.0,1012.2 771.0,1011.0 772.0,1015.6 773.0,1014.7 774.0,1015.2 775.0,1016.3 776.0,1014.9 777.0,1017.5 778.0,1015.2 779.0,1015.4 780.0,1019.5 781.0,1018.0 782.0,1021.5 783.0,1020.0 784.0,1018.2 785.0,1018.9 786.0,1018.2 787.0,1020.8 788.0,1022.3 789.0,1021.4 790.0,1022.2 791.0,1020.1 792.0,1025.0 793.0,1024.0 794.0,1025.1 795.0,1021.0 796.0,1023.2 797.0,1022.4 798.0,1027.5 799.0,1024.2 800.0,1029.4 801.0,1026.0 802.0,1024.3 803.0,1028.2 804.0,1029.5 805.0,1026.0 806.0,1025.4 807.0,1026.8 808.0,1024.8 809.0,1025.3 810.0,1023.4 811.0,1026.9 812.0,1025.7 813.0,1028.9 814.0,1029.4 815.0,1031.1 816.0,1029.9 817.0,1029.2 818.0,1032.4 819.0,1028.8 820.0,1026.3 821.0,1028.0 822.0,1030.1 823.0,1032.3 824.0,1033.4 825.0,1029.7 826.0,1034.0 827.0,1032.9 828.0,1033.6 829.0,1030.7 830.0,1032.4 831.0,1029.0 832.0,1033.4 833.0,1032.7 834.0,1035.0 835.0,1035.9 836.0,1032.3 837.0,1035.9 838.0,1036.4 839.0,1034.0 840.0,1038.2 841.0,1033.4 842.0,1032.3 843.0,1035.2 844.0,1038.5 845.0,1036.4 846.0,1032.4 847.0,1034.8 848.0,1038.1 849.0,1034.7 850.0,1035.9 851.0,1034.4 852.0,1040.0 853.0,1039.6 854.0,1034.3 855.0,1033.5 856.0,1038.0 857.0,1037.9 858.0,1037.2 859.0,1037.5 860.0,1036.9 861.0,1039.2 862.0,1039.2 863.0,1040.1 864.0,1039.5 865.0,1037.1 866.0,1037.4 867.0,1037.8 868.0,1038.6 869.0,1037.3 870.0,1037.1 871.0,1038.2 872.0,1038.0 873.0,1038.6 874.0,1041.8 875.0,1041.4 876.0,1038.3 877.0,1039.4 878.0,1038.8 879.0,1037.9 880.0,1040.4 881.0,1036.2 882.0,1040.0 883.0,1039.1 884.0,1037.6 885.0,1040.6 886.0,1041.5 887.0,1040.3 888.0,1040.7 889.0,1038.6 890.0,1040.9 891.0,1042.7 892.0,1038.4 893.0,1044.0 894.0,1037.4 895.0,1042.0 896.0,1039.5 897.0,1040.9 898.0,1040.6 899.0,1040.7 900.0,1042.4 901.0,1040.4 902.0,1041.2 903.0,1042.9 904.0,1040.8 905.0,1037.6 906.0,1040.2 907.0,1040.2 908.0,1039.8 909.0,1042.3 910.0,1041.5 911.0,1040.1 912.0,1040.5 913.0,1039.2 914.0,1040.7 915.0,1044.6 916.0,1038.9 917.0,1044.7 918.0,1041.6 919.0,1041.4 920.0,1040.9 921.0,1039.9 922.0,1042.9 923.0,1041.4 924.0,1040.9 925.0,1041.9 926.0,1044.4 927.0,1041.4 928.0,1041.9 929.0,1044.2 930.0,1040.6 931.0,1043.6 932.0,1046.0 933.0,1042.3 934.0,1039.9 935.0,1043.9 936.0,1042.0 937.0,1044.5 938.0,1043.3 939.0,1043.0 940.0,1041.3 941.0,1044.4 942.0,1043.4 943.0,1043.4 944.0,1043.5 945.0,1043.5 946.0,1043.2 947.0,1042.8 948.0,1040.6 949.0,1042.2 950.0,1042.5 951.0,1044.7 952.0,1044.7 953.0,1041.7 954.0,1042.5 955.0,1042.3 956.0,1043.7 957.0,1043.7 958.0,1044.2 959.0,1042.4 960.0,1042.9 961.0,1046.5 962.0,1041.8 963.0,1045.7 964.0,1044.7 965.0,1045.0 966.0,1043.8 967.0,1043.7 968.0,1044.9 969.0,1043.5 970.0,1043.7 971.0,1043.4 972.0,1044.5 973.0,1043.8 974.0,1043.5 975.0,1044.8 976.0,1044.3 977.0,1042.1 978.0,1044.0 979.0,1046.1 980.0,1044.7 981.0,1046.4 982.0,1041.7 983.0,1044.8 984.0,1041.4 985.0,1045.1 986.0,1043.3 987.0,1044.1 988.0,1045.0 989.0,1043.1 990.0,1043.4 991.0,1043.9 992.0,1045.5 993.0,1046.4 994.0,1043.4 995.0,1043.2 996.0,1044.6 997.0,1042.8 998.0,1042.6 999.0,1045.4 1000.0,1043.9 1001.0,1046.9 1002.0,1043.4 1003.0,1046.9 1004.0,1046.5 1005.0,1044.3 1006.0,1045.1 1007.0,1041.0 1008.0,1045.3 1009.0,1045.0 1010.0,1043.8 1011.0,1046.9 1012.0,1041.6 1013.0,1046.0 1014.0,1045.1 1015.0,1045.4 1016.0,1042.9 1017.0,1046.1 1018.0,1044.4 1019.0,1045.4 1020.0,1046.5 1021.0,1044.0 1022.0,1041.2 1023.0,1045.8 1024.0,1045.7 1025.0,1045.0 1026.0,1044.5 1027.0,1044.1 1028.0,1045.6 1029.0,1046.3 1030.0,1044.9 1031.0,1047.4 1032.0,1045.3 1033.0,1046.6 1034.0,1045.4 1035.0,1045.7 1036.0,1047.2 1037.0,1046.8 1038.0,1047.6 1039.0,1047.5 1040.0,1046.0 1041.0,1047.1 1042.0,1046.7 1043.0,1046.7 1044.0,1047.2 1045.0,1046.2 1046.0,1046.3 1047.0,1046.9 1048.0,1044.8 1049.0,1047.4 1050.0,1047.6 1051.0,1043.3 1052.0,1047.3 1053.0,1045.2 1054.0,1045.1 1055.0,1047.2 1056.0,1045.0 1057.0,1046.7 1058.0,1045.4 1059.0,1044.6 1060.0,1049.0 1061.0,1045.3 1062.0,1044.7 1063.0,1045.9 1064.0,1049.0 1065.0,1044.1 1066.0,1048.1 1067.0,1045.4 1068.0,1046.8 1069.0,1046.4 1070.0,1048.0 1071.0,1045.5 1072.0,1049.3 1073.0,1046.0 1074.0,1044.6 1075.0,1046.9 1076.0,1047.8 1077.0,1047.7 1078.0,1048.1 1079.0,1046.4 1080.0,1048.8 1081.0,1048.0 1082.0,1045.4 1083.0,1046.2 1084.0,1045.8 1085.0,1046.4 1086.0,1047.2 1087.0,1046.2 1088.0,1046.6 1089.0,1047.9 1090.0,1048.1 1091.0,1049.0 1092.0,1042.4 1093.0,1046.0 1094.0,1045.9 1095.0,1046.2 1096.0,1045.7 1097.0,1045.6 1098.0,1048.0 1099.0,1048.8 1100.0,1045.4 1101.0,1048.1 1102.0,1043.8 1103.0,1047.8 1104.0,1049.4 1105.0,1048.4 1106.0,1045.8 1107.0,1045.8 1108.0,1046.6 1109.0,1048.9 1110.0,1047.5 1111.0,1047.3 1112.0,1047.7 1113.0,1045.4 1114.0,1043.9 1115.0,1046.1 1116.0,1046.3 1117.0,1047.4 1118.0,1047.0 1119.0,1051.6 1120.0,1046.3 1121.0,1046.1 1122.0,1048.9 1123.0,1047.0 1124.0,1049.7 1125.0,1049.6 1126.0,1048.1 1127.0,1047.9 1128.0,1044.6 1129.0,1048.7 1130.0,1047.0 1131.0,1047.6 1132.0,1048.1 1133.0,1046.8 1134.0,1045.2 1135.0,1045.7 1136.0,1045.0 1137.0,1047.7 1138.0,1046.2 1139.0,1046.2 1140.0,1045.3 1141.0,1045.6 1142.0,1043.9 1143.0,1045.6 1144.0,1043.5 1145.0,1045.1 1146.0,1043.8 1147.0,1044.1 1148.0,1044.0 1149.0,1041.7 1150.0,1039.3 1151.0,1037.6 1152.0,1032.0 1153.0,1028.2 1154.0,1023.2 1155.0,1013.7 1156.0,1006.9 1156.4,1007.5 1156.9,1000.5 1157.0,999.6 1157.4,996.6 1157.9,991.0 1158.0,989.8 1158.4,986.4 1158.9,984.1 1159.0,984.1 1159.4,977.8 1159.9,974.7 1160.0,974.9 1160.4,970.0 1160.9,969.1 1161.0,970.1 1161.4,968.7 1161.9,969.4 1162.0,965.3 1162.4,965.5 1162.9,967.2 1163.0,966.5 1163.4,968.8 1163.9,969.1 1164.0,967.1 1164.4,970.6 1164.9,972.5 1165.0,975.9 1165.4,980.5 1165.9,983.5 1166.0,982.9 1166.4,984.1 1166.9,991.4 1167.0,991.3 1167.4,994.9 1167.9,1000.3 1168.0,1004.6 1168.4,1004.0 1169.0,1008.6 1170.0,1015.2 1171.0,1025.3 1172.0,1028.0 1173.0,1031.0 1174.0,1036.4 1175.0,1040.1 1176.0,1039.7 1177.0,1042.8 1178.0,1041.4 1179.0,1046.3 1180.0,1043.3 1181.0,1045.3 1182.0,1044.3 1183.0,1045.1 1184.0,1046.6 1185.0,1045.5 1186.0,1046.3 1187.0,1048.3 1188.0,1050.4 1189.0,1048.0 1190.0,1047.0 1191.0,1047.4 1192.0,1045.3 1193.0,1045.6 1194.0,1045.6 1195.0,1047.9 1196.0,1047.2 1197.0,1046.9 1198.0,1050.9 1199.0,1047.5 1200.0,1048.8 1201.0,1048.3 1202.0,1047.7 1203.0,1048.4 1204.0,1045.5 1205.0,1047.9 1206.0,1049.3 1207.0,1050.2 1208.0,1047.5 1209.0,1049.9 1210.0,1049.1 1211.0,1047.4 1212.0,1045.6 1213.0,1048.4 1214.0,1047.0 1215.0,1049.7 1216.0,1048.6 1217.0,1045.9 1218.0,1047.4 1219.0,1048.6 1220.0,1050.0 1221.0,1044.4 1222.0,1048.9 1223.0,1046.3 1224.0,1047.8 1225.0,1046.9 1226.0,1049.5 1227.0,1048.7 1228.0,1050.8 1229.0,1050.1 1230.0,1047.2 1231.0,1045.0 1232.0,1047.9 1233.0,1047.5 1234.0,1048.5 1235.0,1047.2 1236.0,1047.4 1237.0,1049.4 1238.0,1048.7 1239.0,1047.3 1240.0,1049.0 1241.0,1047.1 1242.0,1048.4 1243.0,1049.8 1244.0,1047.7 1245.0,1046.4 1246.0,1048.6 1247.0,1047.8 1248.0,1051.0 1249.0,1048.3 1250.0,1047.5 1251.0,1046.7 1252.0,1045.2 1253.0,1047.2 1254.0,1048.5 1255.0,1047.1 1256.0,1049.2 1257.0,1049.8 1258.0,1049.5 1259.0,1047.5 1260.0,1047.4 1261.0,1049.7 1262.0,1047.6 1263.0,1047.6 1264.0,1047.7 1265.0,1050.5 1266.0,1045.8 1267.0,1050.2 1268.0,1049.9 1269.0,1050.9 1270.0,1049.3 1271.0,1051.9 1272.0,1049.7 1273.0,1047.4 1274.0,1046.6 1275.0,1048.7 1276.0,1049.3 1277.0,1049.1 1278.0,1050.1 1279.0,1050.3 1280.0,1045.1 1281.0,1048.7 1282.0,1048.7 1283.0,1049.6 1284.0,1047.5 1285.0,1050.4 1286.0,1048.8 1287.0,1050.7 1288.0,1047.8 1289.0,1048.6 1290.0,1046.8 1291.0,1047.4 1292.0,1048.3 1293.0,1048.0 1294.0,1049.2 1295.0,1049.4 1296.0,1048.8 1297.0,1048.8 1298.0,1047.2 1299.0,1048.2 1300.0,1048.5 1301.0,1047.7 1302.0,1049.9 1303.0,1049.6 1304.0,1047.6 1305.0,1048.1 1306.0,1048.7 1307.0,1048.9 1308.0,1050.9 1309.0,1048.4 1310.0,1047.8 1311.0,1049.2 1312.0,1049.6 1313.0,1050.4 1314.0,1047.3 1315.0,1048.3 1316.0,1048.9 1317.0,1048.9 1318.0,1046.3 1319.0,1049.1 1320.0,1050.6 1321.0,1049.4 1322.0,1048.2 1323.0,1046.9 1324.0,1046.9 1325.0,1048.2 1326.0,1047.0 1327.0,1046.9 1328.0,1045.4 1329.0,1048.1 1330.0,1048.3 1331.0,1046.5 1332.0,1046.8 1333.0,1045.2 1334.0,1046.3 1335.0,1042.4 1336.0,1040.8 1337.0,1037.1 1338.0,1036.4 1339.0,1033.4 1339.4,1032.3 1339.9,1033.8 1340.0,1032.5 1340.4,1031.8 1340.9,1029.5 1341.0,1027.4 1341.4,1027.8 1341.9,1028.0 1342.0,1025.1 1342.4,1025.2 1342.9,1024.4 1343.0,1025.7 1343.4,1023.6 1343.9,1023.9 1344.0,1023.7 1344.4,1021.9 1344.9,1022.3 1345.0,1020.2 1345.4,1021.2 1345.9,1022.8 1346.0,1022.7 1346.4,1022.9 1346.9,1023.0 1347.0,1024.3 1347.4,1024.6 1347.9,1024.7 1348.0,1022.5 1348.4,1030.0 1348.9,1030.1 1349.0,1025.8 1349.4,1030.2 1349.9,1028.9 1350.0,1031.3 1350.4,1029.4 1350.9,1031.9 1351.0,1031.6 1351.4,1034.4 1352.0,1036.2 1353.0,1037.5 1354.0,1036.3 1355.0,1041.7 1356.0,1041.7 1357.0,1046.9 1358.0,1045.0 1359.0,1043.5 1360.0,1047.0 1361.0,1045.8 1362.0,1048.8 1363.0,1046.6 1364.0,1049.2 1365.0,1046.4 1366.0,1050.6 1367.0,1048.9 1368.0,1050.1 1369.0,1048.8 1370.0,1052.2 1371.0,1048.9 1372.0,1050.2 1373.0,1049.2 1374.0,1051.1 1375.0,1047.3 1376.0,1047.1 1377.0,1050.2 1378.0,1048.4 1379.0,1048.1 1380.0,1050.2 1381.0,1049.5 1382.0,1046.0 1383.0,1049.8 1384.0,1048.8 1385.0,1048.1 1386.0,1050.8 1387.0,1050.5 1388.0,1051.7 1389.0,1049.0 1390.0,1048.4 1391.0,1053.5 1392.0,1051.0 1393.0,1050.9 1394.0,1048.5 1395.0,1049.2 1396.0,1051.0 1397.0,1045.5 1398.0,1048.0 1399.0,1050.3 1400.0,1047.1 1401.0,1050.9 1402.0,1049.6 1403.0,1047.4 1404.0,1049.9 1405.0,1050.0 1406.0,1049.8 1407.0,1050.8 1408.0,1047.7 1409.0,1049.2 1410.0,1050.7 1411.0,1050.4 1412.0,1050.3 1413.0,1054.2 1414.0,1049.4 1415.0,1049.2 1416.0,1051.0 1417.0,1049.8 1418.0,1051.5 1419.0,1049.9 1420.0,1052.7 1421.0,1049.2 1422.0,1049.8 1423.0,1051.5 1424.0,1050.3 1425.0,1051.6 1426.0,1051.4 1427.0,1051.6 1428.0,1048.5 1429.0,1051.7 1430.0,1050.5 1431.0,1050.9 1432.0,1049.2 1433.0,1051.2 1434.0,1051.7 1435.0,1051.1 1436.0,1051.3 1437.0,1050.8 1438.0,1050.3 1439.0,1051.3 1440.0,1050.4 1441.0,1050.5 1442.0,1051.3 1443.0,1052.1 1444.0,1053.2 1445.0,1052.4 1446.0,1050.9 1447.0,1049.6 1448.0,1051.3 1449.0,1049.3 1450.0,1049.3 1451.0,1048.0 1452.0,1052.6 1453.0,1052.5 1454.0,1049.3 1455.0,1051.0 1456.0,1051.4 1457.0,1053.1 1458.0,1053.0 1459.0,1049.6 1460.0,1051.4 1461.0,1048.7 1462.0,1050.8 1463.0,1051.0 1464.0,1050.6 1465.0,1049.3 1466.0,1050.5 1467.0,1054.1 1468.0,1050.1 1469.0,1051.1 1470.0,1052.4 1471.0,1052.3 1472.0,1050.6 1473.0,1053.2 1474.0,1053.2 1475.0,1051.4 1476.0,1051.6 1477.0,1051.0 1478.0,1052.0 1479.0,1051.6 1480.0,1052.9 1481.0,1048.8 1482.0,1052.6 1483.0,1051.1 1484.0,1053.4 1485.0,1053.0 1486.0,1051.1 1487.0,1051.3 1488.0,1050.6 1489.0,1049.9 1490.0,1051.0 1491.0,1052.5 1492.0,1051.0 1493.0,1049.4 1494.0,1051.3 1495.0,1049.8 1496.0,1051.4 1497.0,1052.3 1498.0,1052.7 1499.0,1053.0 1500.0,1050.2 1501.0,1047.7 1502.0,1051.3 1503.0,1051.1 1504.0,1052.5 1505.0,1052.4 1506.0,1051.0 1507.0,1051.5 1508.0,1052.7 1509.0,1050.5 1510.0,1048.3 1511.0,1052.0 1512.0,1051.7 1513.0,1050.7 1514.0,1053.3 1515.0,1051.3 1516.0,1050.5 1517.0,1051.9 1518.0,1054.1 1519.0,1050.0 1520.0,1052.8 1521.0,1049.7 1522.0,1052.6 1523.0,1050.9 1524.0,1051.0 1525.0,1052.6 1526.0,1055.3 1527.0,1049.1 1528.0,1051.3 1529.0,1050.5 1530.0,1053.4 1531.0,1051.8 1532.0,1050.4 1533.0,1052.9 1534.0,1052.6 1535.0,1051.5 1536.0,1052.9 1537.0,1052.2 1538.0,1053.1 1539.0,1050.2 1540.0,1052.7 1541.0,1053.1 1542.0,1050.5 1543.0,1056.9 1544.0,1054.0 1545.0,1052.2 1546.0,1051.0 1547.0,1051.5 1548.0,1051.8 1549.0,1052.5 1550.0,1050.0 1551.0,1050.3 1552.0,1053.8 1553.0,1050.0 1554.0,1054.8 1555.0,1051.7 1556.0,1049.8 1557.0,1050.7 1558.0,1054.4 1559.0,1052.3 1560.0,1050.5 1561.0,1053.8 1562.0,1052.7 1563.0,1051.1 1564.0,1050.4 1565.0,1049.8 1566.0,1052.1 1567.0,1052.8 1568.0,1054.2 1569.0,1054.3 1570.0,1053.5 1571.0,1050.0 1572.0,1051.3 1573.0,1052.9 1574.0,1051.8 1575.0,1052.3 1576.0,1051.5 1577.0,1052.2 1578.0,1053.7 1579.0,1052.9 1580.0,1050.1 1581.0,1051.6 1582.0,1050.6 1583.0,1049.9 1584.0,1053.7 1585.0,1052.2 1586.0,1055.8 1587.0,1053.3 1588.0,1053.0 1589.0,1051.6 1590.0,1051.3 1591.0,1053.4 1592.0,1051.6 1593.0,1054.6 1594.0,1053.8 1595.0,1053.8 1596.0,1052.7 1597.0,1051.1 1598.0,1054.2 1599.0,1051.6 1600.0,1052.5 1601.0,1053.6 1602.0,1052.0 1603.0,1051.9 1604.0,1050.6 1605.0,1054.1 1606.0,1055.0 1607.0,1051.3 1608.0,1054.3 1609.0,1055.4 1610.0,1055.2 1611.0,1054.2 1612.0,1051.7 1613.0,1050.6 1614.0,1051.7 1615.0,1053.4 1616.0,1054.8 1617.0,1054.6 1618.0,1052.6 1619.0,1053.4 1620.0,1052.2 1621.0,1050.2 1622.0,1051.9 1623.0,1054.4 1624.0,1054.0 1625.0,1053.0 1626.0,1052.9 1627.0,1056.3 1628.0,1053.6 1629.0,1052.5 1630.0,1050.9 1631.0,1052.0 1632.0,1053.5 1633.0,1052.2 1634.0,1053.6 1635.0,1052.2 1636.0,1056.9 1637.0,1052.3 1638.0,1054.3 1639.0,1051.9 1640.0,1053.4 1641.0,1054.3 1642.0,1053.3 1643.0,1050.5 1644.0,1055.1 1645.0,1054.0 1646.0,1051.6 1647.0,1052.3 1648.0,1053.9 1649.0,1051.8 1650.0,1053.8 1651.0,1051.1 1652.0,1053.1 1653.0,1054.1 1654.0,1052.3 1655.0,1053.1 1656.0,1053.5 1657.0,1055.0 1658.0,1054.7 1659.0,1053.3 1660.0,1053.4 1661.0,1052.4 1662.0,1052.4 1663.0,1052.3 1664.0,1052.1 1665.0,1054.2 1666.0,1052.5 1667.0,1051.7 1668.0,1051.7 1669.0,1052.8 1670.0,1053.6 1671.0,1052.1 1672.0,1051.4 1673.0,1053.2 1674.0,1054.3 1675.0,1051.4 1676.0,1052.3 1677.0,1050.2 1678.0,1056.5 1679.0,1051.4 1680.0,1051.2 1681.0,1053.3 1682.0,1052.5 1683.0,1054.1 1684.0,1051.7 1685.0,1053.1 1686.0,1053.3 1687.0,1053.8 1688.0,1055.7 1689.0,1053.0 1690.0,1051.8 1691.0,1053.7 1692.0,1052.0 1693.0,1054.4 1694.0,1053.5 1695.0,1053.3 1696.0,1050.8 1697.0,1050.9 1698.0,1052.2 1699.0,1053.0 1700.0,1050.1 1701.0,1052.4 1702.0,1053.4 1703.0,1052.2 1704.0,1054.5 1705.0,1053.5 1706.0,1055.4 1707.0,1052.1 1708.0,1053.8 1709.0,1049.2 1710.0,1052.0 1711.0,1054.6 1712.0,1052.6 1713.0,1052.5 1714.0,1051.4 1715.0,1055.7 1716.0,1055.1 1717.0,1053.2 1718.0,1053.7 1719.0,1053.2 1720.0,1051.2 1721.0,1053.7 1722.0,1052.5 1723.0,1052.1 1724.0,1054.9 1725.0,1053.3 1726.0,1051.8 1727.0,1054.1 1728.0,1053.3 1729.0,1053.8 1730.0,1053.2 1731.0,1053.8 1732.0,1053.8 1733.0,1052.0 1734.0,1056.4 1735.0,1053.7 1736.0,1049.8 1737.0,1054.8 1738.0,1051.3 1739.0,1054.0 1740.0,1055.7 1741.0,1053.0 1742.0,1053.3 1743.0,1055.1 1744.0,1054.3 1745.0,1054.2 1746.0,1053.2 1747.0,1053.5 1748.0,1050.7 1749.0,1052.9 1750.0,1053.3 1751.0,1054.4 1752.0,1054.2 1753.0,1051.6 1754.0,1052.4 1755.0,1050.3 1756.0,1053.3 1757.0,1055.7 1758.0,1053.7 1759.0,1052.4 1760.0,1053.7 1761.0,1053.2 1762.0,1051.7 1763.0,1052.2 1764.0,1053.2 1765.0,1054.7 1766.0,1052.6 1767.0,1052.5 1768.0,1051.5 1769.0,1053.4 1770.0,1051.9 1771.0,1056.1 1772.0,1053.7 1773.0,1049.1 1774.0,1055.5 1775.0,1053.9 1776.0,1053.5 1777.0,1053.8 1778.0,1052.7 1779.0,1052.2 1780.0,1052.5 1781.0,1053.3 1782.0,1054.1 1783.0,1056.4 1784.0,1054.2 1785.0,1054.8 1786.0,1055.0 1787.0,1052.5 1788.0,1052.3 1789.0,1052.4 1790.0,1055.9 1791.0,1051.7 1792.0,1054.5 1793.0,1052.5 1794.0,1057.4 1795.0,1051.8 1796.0,1052.0 1797.0,1053.1 1798.0,1052.2 1799.0,1054.9 1800.0,1055.1 1801.0,1055.2 1802.0,1056.9 1803.0,1052.5 1804.0,1054.1 1805.0,1053.3 1806.0,1052.8 1807.0,1054.4 1808.0,1057.1 1809.0,1052.6 1810.0,1057.1 1811.0,1054.4 1812.0,1053.3 1813.0,1052.3 1814.0,1055.3 1815.0,1054.3 1816.0,1053.8 1817.0,1053.2 1818.0,1053.8 1819.0,1053.5 1820.0,1054.3 1821.0,1051.4 1822.0,1054.5 1823.0,1055.5 1824.0,1055.3 1825.0,1052.2 1826.0,1054.3 1827.0,1054.6 1828.0,1055.8 1829.0,1055.4 1830.0,1055.7 1831.0,1054.0 1832.0,1055.2 1833.0,1054.0 1834.0,1053.8 1835.0,1052.0 1836.0,1054.7 1837.0,1054.0 1838.0,1052.0 1839.0,1056.2 1840.0,1053.7 1841.0,1054.8 1842.0,1054.8 1843.0,1054.0 1844.0,1054.6 1845.0,1055.6 1846.0,1053.2 1847.0,1052.4 1848.0,1055.8 1849.0,1055.1 1850.0,1053.3 1851.0,1055.9 1852.0,1052.7 1853.0,1054.6 1854.0,1054.9 1855.0,1054.5 1856.0,1055.1 1857.0,1053.8 1858.0,1052.1 1859.0,1053.6 1860.0,1055.3 1861.0,1054.6 1862.0,1054.5 1863.0,1054.1 1864.0,1056.1 1865.0,1053.8 1866.0,1054.9 1867.0,1055.0 1868.0,1053.2 1869.0,1055.7 1870.0,1055.2 1871.0,1055.4 1872.0,1052.7 1873.0,1056.3 1874.0,1054.1 1875.0,1054.6 1876.0,1055.2 1877.0,1055.9 1878.0,1053.9 1879.0,1055.1 1880.0,1054.7 1881.0,1054.6 1882.0,1054.6 1883.0,1053.3 1884.0,1054.6 1885.0,1056.4 1886.0,1053.3 1887.0,1052.4 1888.0,1056.7 1889.0,1052.8 1890.0,1054.2 1891.0,1053.8 1892.0,1055.0 1893.0,1054.2 1894.0,1055.4 1895.0,1054.1 1896.0,1053.2 1897.0,1058.1 1898.0,1054.9 1899.0,1055.5 1900.0,1053.0 1901.0,1053.8 1902.0,1054.1 1903.0,1056.2 1904.0,1053.7 1905.0,1055.5 1906.0,1054.4 1907.0,1053.9 1908.0,1055.9 1909.0,1055.3 1910.0,1053.4 1911.0,1055.8 1912.0,1053.1 1913.0,1055.6 1914.0,1054.8 1915.0,1058.1 1916.0,1055.7 1917.0,1058.0 1918.0,1055.8 1919.0,1054.4 1920.0,1056.0 1921.0,1052.9 1922.0,1053.2 1923.0,1054.8 1924.0,1057.1 1925.0,1056.3 1926.0,1053.0 1927.0,1052.1 1928.0,1055.4 1929.0,1052.7 1930.0,1053.4 1931.0,1054.0 1932.0,1053.5 1933.0,1053.7 1934.0,1054.6 1935.0,1056.2 1936.0,1053.9 1937.0,1054.9 1938.0,1055.4 1939.0,1055.5 1940.0,1054.6 1941.0,1053.5 1942.0,1054.4 1943.0,1052.2 1944.0,1054.0 1945.0,1055.6 1946.0,1054.3 1947.0,1048.7 1948.0,1053.1 1949.0,1052.4 1950.0,1050.3 1951.0,1050.8 1952.0,1049.7 1952.5,1048.1 1953.0,1047.4 1953.5,1045.6 1954.0,1048.2 1954.5,1043.1 1955.0,1046.3 1955.5,1044.9 1956.0,1045.2 1956.5,1044.2 1957.0,1044.5 1957.5,1043.2 1958.0,1043.1 1958.5,1046.8 1959.0,1044.1 1959.5,1046.7 1960.0,1046.2 1960.5,1045.8 1961.0,1046.3 1961.5,1046.3 1962.0,1048.2 1962.5,1047.2 1963.0,1047.3 1963.5,1049.3 1964.0,1048.9 1965.0,1050.7 1966.0,1050.0 1967.0,1051.7 1968.0,1053.9 1969.0,1054.5 1970.0,1052.1 1971.0,1053.9 1972.0,1052.9 1973.0,1055.7 1974.0,1053.5 1975.0,1052.4 1976.0,1053.4 1977.0,1053.4 1978.0,1058.5 1979.0,1054.4 1980.0,1056.3 1981.0,1054.3 1982.0,1055.9 1983.0,1057.1 1984.0,1056.7 1985.0,1057.3 1986.0,1056.7 1987.0,1055.1 1988.0,1056.2 1989.0,1055.7 1990.0,1054.8 1991.0,1058.5 1992.0,1054.2 1993.0,1053.8 1994.0,1054.9 1995.0,1057.1 1996.0,1055.1 1997.0,1056.0 1998.0,1054.7 1999.0,1057.4 2000.0,1056.2 2001.0,1055.8 2002.0,1057.7 2003.0,1054.6 2004.0,1057.8 2005.0,1057.0 2006.0,1054.1 2007.0,1055.6 2008.0,1056.5 2009.0,1054.4 2010.0,1054.7 2011.0,1057.8 2012.0,1059.7 2013.0,1058.1 2014.0,1056.7 2015.0,1056.1 2016.0,1054.6 2017.0,1057.0 2018.0,1055.3 2019.0,1056.0 2020.0,1056.2 2021.0,1057.2 2022.0,1056.8 2023.0,1053.0 2024.0,1055.2 2025.0,1057.4 2026.0,1057.9 2027.0,1057.2 2028.0,1057.5 2029.0,1054.6 2030.0,1056.0 2031.0,1056.3 2032.0,1057.4 2033.0,1056.3 2034.0,1055.5 2035.0,1057.5 2036.0,1056.3 2037.0,1057.1 2038.0,1053.9 2039.0,1056.4 2040.0,1057.0 2041.0,1058.3 2042.0,1056.4 2043.0,1054.1 2044.0,1054.5 2045.0,1057.8 2046.0,1057.7 2047.0,1056.0 2048.0,1055.1 2049.0,1057.8 2050.0,1055.6 2051.0,1056.3 2052.0,1054.3 2053.0,1052.7 2054.0,1056.6 2055.0,1058.9 2056.0,1055.9 2057.0,1054.7 2058.0,1058.2 2059.0,1055.0 2060.0,1053.5 2061.0,1055.7 2062.0,1056.8 2063.0,1055.3 2064.0,1056.4 2065.0,1056.4 2066.0,1056.5 2067.0,1058.5 2068.0,1056.7 2069.0,1057.2 2070.0,1058.3 2071.0,1056.0 2072.0,1057.7 2073.0,1055.7 2074.0,1056.6 2075.0,1056.4 2076.0,1057.9 2077.0,1057.8 2078.0,1055.6 2079.0,1055.2 2080.0,1055.0 2081.0,1055.3 2082.0,1055.7 2083.0,1056.5 2084.0,1055.5 2085.0,1059.2 2086.0,1058.4 2087.0,1059.6 2088.0,1057.4 2089.0,1057.7 2090.0,1056.4 2091.0,1058.4 2092.0,1057.5 2093.0,1056.7 2094.0,1057.4 2095.0,1059.4 2096.0,1059.1 2097.0,1056.9 2098.0,1054.2 2099.0,1052.9 2100.0,1056.8 2101.0,1056.8 2102.0,1056.8 2103.0,1057.4 2104.0,1057.6 2105.0,1055.8 2106.0,1056.1 2107.0,1059.1 2108.0,1060.0 2109.0,1057.2 2110.0,1057.2 2111.0,1058.2 2112.0,1057.6 2113.0,1057.2 2114.0,1057.1 2115.0,1059.1 2116.0,1056.2 2117.0,1057.9" fill="none" stroke="#595959" stroke-width="3.8" stroke-linejoin="round" stroke-linecap="butt" shape-rendering="crispEdges"/>
<polyline points="166.0,782.2 167.0,783.7 168.0,783.4 169.0,782.9 170.0,783.3 171.0,781.3 172.0,782.1 173.0,782.3 174.0,782.7 175.0,782.5 176.0,781.8 177.0,782.4 178.0,782.6 179.0,784.4 180.0,782.3 181.0,782.3 182.0,782.2 183.0,781.6 184.0,781.4 185.0,782.4 186.0,781.4 187.0,781.1 188.0,781.4 189.0,782.8 190.0,780.2 191.0,780.8 192.0,781.3 193.0,781.5 194.0,782.3 195.0,782.5 196.0,780.1 197.0,781.2 198.0,782.1 199.0,781.3 200.0,779.3 201.0,779.3 202.0,779.6 203.0,780.0 204.0,777.9 205.0,779.0 206.0,776.8 206.6,777.3 207.0,776.9 207.1,776.5 207.6,776.1 208.0,774.4 208.1,774.4 208.6,774.0 209.0,771.0 209.1,770.5 209.6,767.6 210.0,768.0 210.1,765.2 210.6,762.9 211.0,758.6 211.1,757.9 211.6,752.2 212.0,749.0 212.1,749.3 212.6,746.8 213.0,746.9 213.1,748.2 213.6,751.2 214.0,756.8 214.1,758.1 214.6,762.1 215.0,766.3 215.1,767.0 215.6,768.4 216.0,771.3 216.1,770.5 216.6,772.6 217.0,773.3 217.1,773.8 217.6,773.7 218.0,775.3 218.1,774.5 218.6,777.6 219.0,776.2 220.0,777.4 221.0,776.6 222.0,777.7 223.0,779.1 224.0,777.0 225.0,779.3 226.0,778.7 227.0,781.1 228.0,779.8 229.0,780.1 230.0,779.6 231.0,780.3 232.0,778.4 233.0,780.9 234.0,780.1 235.0,778.0 236.0,779.7 237.0,779.4 238.0,780.7 239.0,779.1 240.0,779.4 241.0,779.7 242.0,779.1 243.0,780.8 244.0,779.7 245.0,778.7 246.0,779.4 247.0,779.0 248.0,780.6 249.0,778.1 250.0,777.5 251.0,780.9 252.0,779.0 253.0,780.0 254.0,778.9 255.0,778.4 256.0,779.3 257.0,778.8 258.0,778.1 259.0,776.9 260.0,778.8 261.0,779.7 262.0,779.4 263.0,777.1 264.0,779.4 265.0,776.9 266.0,777.5 267.0,777.9 268.0,777.7 269.0,776.8 270.0,777.0 271.0,777.2 272.0,776.9 273.0,777.0 274.0,776.8 275.0,775.5 276.0,774.0 277.0,774.2 278.0,772.1 278.3,770.8 278.8,768.3 279.0,770.0 279.3,769.6 279.8,768.2 280.0,765.6 280.3,765.0 280.8,760.6 281.0,760.9 281.3,758.6 281.8,752.7 282.0,751.6 282.3,748.1 282.8,740.5 283.0,735.5 283.3,731.4 283.8,725.4 284.0,722.6 284.3,721.4 284.8,724.2 285.0,727.6 285.3,731.1 285.8,737.8 286.0,743.2 286.3,749.5 286.8,753.6 287.0,756.5 287.3,758.4 287.8,761.6 288.0,762.1 288.3,765.1 288.8,766.8 289.0,768.3 289.3,768.6 289.8,770.4 290.0,768.5 290.3,771.2 291.0,772.6 292.0,773.5 293.0,775.2 294.0,774.5 295.0,775.5 296.0,773.5 297.0,776.1 298.0,776.3 299.0,774.9 300.0,773.8 301.0,775.0 302.0,775.8 303.0,777.3 304.0,774.8 305.0,776.2 306.0,776.4 307.0,776.3 308.0,775.1 309.0,776.3 310.0,774.4 311.0,773.8 312.0,775.4 313.0,774.6 314.0,773.3 315.0,776.4 316.0,775.8 317.0,775.5 318.0,774.0 319.0,774.1 320.0,773.1 321.0,774.3 322.0,773.9 323.0,773.8 324.0,774.9 325.0,772.8 326.0,772.7 327.0,771.0 328.0,773.2 329.0,772.1 330.0,768.0 331.0,766.9 332.0,768.8 333.0,766.8 334.0,762.6 334.7,760.2 335.0,756.2 335.2,756.3 335.7,753.5 336.0,750.1 336.2,747.5 336.7,742.7 337.0,737.9 337.2,737.3 337.7,725.9 338.0,718.6 338.2,712.2 338.7,699.6 339.0,687.0 339.2,679.6 339.7,658.4 340.0,647.6 340.2,641.3 340.7,633.8 341.0,637.3 341.2,640.5 341.7,658.7 342.0,671.1 342.2,679.8 342.7,697.3 343.0,710.0 343.2,713.9 343.7,724.9 344.0,730.4 344.2,735.4 344.7,742.4 345.0,746.6 345.2,746.6 345.7,752.3 346.0,754.9 346.2,756.6 346.7,756.9 347.0,759.3 348.0,762.7 349.0,765.7 350.0,767.3 351.0,768.9 352.0,769.0 353.0,770.9 354.0,769.7 355.0,771.5 356.0,773.8 357.0,771.2 358.0,774.0 359.0,773.8 360.0,772.3 361.0,773.3 362.0,773.4 363.0,772.1 364.0,771.1 365.0,772.7 366.0,771.8 367.0,773.4 368.0,771.3 369.0,774.7 370.0,774.9 371.0,771.9 372.0,770.5 373.0,772.5 374.0,771.5 375.0,771.5 376.0,769.7 377.0,769.3 378.0,770.4 379.0,767.7 380.0,765.7 381.0,766.1 381.4,765.1 381.9,762.8 382.0,761.7 382.4,762.6 382.9,758.4 383.0,758.8 383.4,754.4 383.9,750.4 384.0,751.0 384.4,748.0 384.9,739.1 385.0,738.0 385.4,731.4 385.9,723.2 386.0,719.8 386.4,711.9 386.9,703.9 387.0,702.6 387.4,701.2 387.9,701.9 388.0,704.7 388.4,711.9 388.9,720.8 389.0,724.1 389.4,732.0 389.9,739.7 390.0,740.9 390.4,747.8 390.9,751.9 391.0,752.5 391.4,755.9 391.9,758.3 392.0,759.5 392.4,761.6 392.9,762.2 393.0,763.3 393.4,764.5 394.0,766.2 395.0,767.4 396.0,769.1 397.0,769.5 398.0,769.8 399.0,770.7 400.0,770.1 401.0,772.4 402.0,772.4 403.0,771.4 404.0,771.5 405.0,771.6 406.0,771.4 407.0,771.4 408.0,772.9 409.0,772.1 410.0,773.0 411.0,772.3 411.4,772.1 411.9,770.3 412.0,773.0 412.4,771.0 412.9,768.6 413.0,770.4 413.4,769.9 413.9,770.1 414.0,768.5 414.4,768.9 414.9,767.3 415.0,768.5 415.4,766.1 415.9,765.2 416.0,765.3 416.4,762.4 416.9,762.0 417.0,761.6 417.4,762.7 417.9,762.2 418.0,761.2 418.4,764.6 418.9,763.9 419.0,764.7 419.4,766.0 419.9,767.6 420.0,766.7 420.4,767.8 420.9,768.3 421.0,768.9 421.4,768.3 421.6,768.8 421.9,768.0 422.0,770.9 422.1,769.8 422.4,770.5 422.6,768.7 422.9,767.6 423.0,767.7 423.1,768.0 423.4,769.4 423.6,768.4 424.0,767.8 424.1,767.0 424.6,768.9 425.0,765.2 425.1,766.0 425.6,764.5 426.0,763.3 426.1,762.9 426.6,761.6 427.0,762.4 427.1,760.8 427.6,759.5 428.0,758.7 428.1,761.3 428.6,762.9 429.0,762.5 429.1,764.0 429.6,763.2 430.0,765.7 430.1,768.0 430.6,766.6 431.0,769.7 431.1,770.3 431.6,768.7 432.0,770.5 432.1,772.1 432.6,773.5 433.0,771.6 433.1,773.0 433.6,771.2 434.0,771.6 435.0,773.0 436.0,773.6 437.0,773.3 438.0,774.4 439.0,774.2 440.0,774.8 441.0,774.4 442.0,773.8 443.0,773.9 444.0,773.7 445.0,774.0 446.0,774.9 447.0,774.8 448.0,775.1 449.0,774.7 450.0,774.7 451.0,773.0 452.0,773.4 453.0,773.2 454.0,772.9 455.0,771.1 456.0,773.9 457.0,772.0 458.0,772.0 459.0,771.6 460.0,773.1 460.5,771.6 461.0,772.1 461.5,770.0 462.0,770.0 462.5,769.0 463.0,766.8 463.5,765.4 464.0,761.7 464.5,760.0 465.0,758.7 465.5,754.6 466.0,756.2 466.5,756.8 467.0,757.9 467.5,761.6 468.0,763.6 468.5,766.2 469.0,766.9 469.5,768.6 470.0,769.3 470.5,768.5 471.0,770.4 471.5,770.7 472.0,771.3 473.0,771.8 474.0,772.9 475.0,772.3 476.0,771.8 477.0,773.0 478.0,770.5 479.0,771.0 480.0,773.3 481.0,770.6 482.0,771.8 483.0,770.1 484.0,771.0 485.0,769.6 485.7,769.3 486.0,768.3 486.2,768.5 486.7,765.5 487.0,766.9 487.2,764.5 487.7,763.9 488.0,761.7 488.2,762.0 488.7,758.5 489.0,756.3 489.2,755.1 489.7,750.2 490.0,747.4 490.2,746.6 490.7,740.9 491.0,737.9 491.2,736.1 491.7,736.1 492.0,734.8 492.2,736.4 492.7,739.3 493.0,742.8 493.2,745.2 493.7,750.6 494.0,752.9 494.2,755.5 494.7,756.5 495.0,761.8 495.2,761.5 495.7,763.7 496.0,763.6 496.2,765.9 496.7,765.7 497.0,767.1 497.2,767.7 497.7,769.0 498.0,769.4 499.0,769.4 500.0,769.9 501.0,772.8 502.0,772.8 503.0,772.9 504.0,773.1 505.0,773.3 506.0,771.3 507.0,773.2 508.0,774.1 509.0,773.4 510.0,774.0 511.0,773.7 512.0,772.9 513.0,772.6 514.0,773.1 515.0,774.1 516.0,771.6 517.0,773.8 518.0,771.1 519.0,774.3 520.0,772.1 521.0,772.1 522.0,771.1 523.0,771.7 524.0,769.4 525.0,770.2 526.0,769.3 526.6,766.1 527.0,764.3 527.1,765.5 527.6,762.5 528.0,761.3 528.1,761.3 528.6,759.6 529.0,755.2 529.1,756.1 529.6,752.0 530.0,747.6 530.1,747.2 530.6,740.8 531.0,735.1 531.1,732.3 531.6,725.3 532.0,723.2 532.1,723.0 532.6,719.5 533.0,721.4 533.1,723.8 533.6,728.2 534.0,731.1 534.1,734.6 534.6,740.4 535.0,745.9 535.1,746.6 535.6,750.6 536.0,756.5 536.1,753.1 536.6,757.6 537.0,761.6 537.1,760.9 537.6,763.3 538.0,763.4 538.1,765.3 538.6,765.2 539.0,765.7 540.0,767.4 541.0,770.6 542.0,770.4 543.0,771.7 544.0,771.9 545.0,771.7 546.0,771.1 547.0,772.6 548.0,773.1 549.0,771.5 550.0,772.0 551.0,771.8 552.0,770.6 553.0,772.6 554.0,772.5 555.0,771.5 556.0,771.2 556.1,771.0 556.6,771.5 557.0,770.7 557.1,770.7 557.6,768.5 558.0,768.9 558.1,768.3 558.6,766.2 559.0,766.5 559.1,764.3 559.6,763.1 560.0,763.4 560.1,762.6 560.6,758.0 561.0,758.2 561.1,757.6 561.6,755.5 562.0,754.1 562.1,754.8 562.6,756.4 563.0,758.8 563.1,758.3 563.6,759.0 564.0,762.3 564.1,764.0 564.6,764.0 565.0,764.5 565.1,766.9 565.6,766.8 566.0,768.4 566.1,768.8 566.6,769.3 567.0,770.0 567.1,770.8 567.6,771.5 568.0,771.5 568.1,772.0 569.0,772.2 570.0,771.9 571.0,774.5 572.0,773.5 573.0,773.8 574.0,774.5 575.0,773.6 576.0,772.6 577.0,772.3 578.0,773.6 579.0,774.9 580.0,774.3 581.0,774.5 582.0,773.6 583.0,772.7 584.0,773.7 585.0,772.1 585.5,772.9 586.0,774.1 586.5,772.9 587.0,772.0 587.5,773.6 588.0,773.3 588.5,772.8 589.0,770.7 589.5,772.6 590.0,771.3 590.5,771.8 591.0,772.2 591.5,771.7 592.0,772.8 592.5,772.6 593.0,772.0 593.5,772.2 594.0,774.7 594.5,775.2 595.0,773.2 595.5,773.9 596.0,774.2 596.5,774.6 597.0,772.6 598.0,774.9 599.0,774.4 600.0,774.5 601.0,774.1 602.0,775.7 603.0,774.2 604.0,776.2 605.0,776.0 606.0,774.1 607.0,775.5 608.0,775.5 609.0,774.4 610.0,772.7 611.0,774.4 612.0,775.0 613.0,776.7 614.0,775.9 615.0,775.6 616.0,774.9 617.0,775.5 618.0,773.9 619.0,773.9 620.0,773.5 621.0,773.6 622.0,774.5 623.0,776.4 624.0,773.3 625.0,774.8 626.0,774.6 627.0,772.8 628.0,774.3 629.0,772.5 630.0,775.3 631.0,775.0 632.0,773.4 633.0,773.7 634.0,773.4 635.0,773.1 636.0,774.1 637.0,772.0 637.7,772.4 638.0,771.5 638.2,773.4 638.7,772.2 639.0,772.7 639.2,770.8 639.7,768.7 640.0,771.2 640.2,770.7 640.7,770.3 641.0,768.9 641.2,769.1 641.7,768.1 642.0,766.1 642.2,764.1 642.7,765.5 643.0,764.5 643.2,763.6 643.7,762.5 644.0,765.3 644.2,764.1 644.7,764.9 645.0,764.7 645.2,765.3 645.7,767.4 646.0,766.7 646.2,769.5 646.7,768.9 647.0,771.0 647.2,770.2 647.7,770.0 648.0,772.9 648.2,771.2 648.7,771.2 649.0,772.7 649.2,772.4 649.7,772.3 650.0,770.6 651.0,771.2 652.0,773.7 653.0,772.5 654.0,773.4 655.0,772.0 656.0,772.8 657.0,770.6 657.5,771.7 658.0,772.9 658.5,771.4 659.0,770.3 659.5,769.9 660.0,769.2 660.5,769.9 661.0,767.3 661.5,766.3 662.0,764.3 662.5,764.4 663.0,764.0 663.5,763.3 664.0,763.3 664.5,765.7 665.0,768.2 665.5,767.8 666.0,769.0 666.5,771.2 667.0,770.7 667.5,769.6 668.0,773.3 668.5,772.2 669.0,772.0 670.0,772.7 671.0,773.7 672.0,773.0 673.0,775.3 674.0,774.2 675.0,774.5 676.0,774.2 677.0,773.5 678.0,774.2 679.0,775.7 680.0,773.7 681.0,774.0 682.0,774.5 683.0,773.5 684.0,774.9 685.0,773.0 686.0,774.5 687.0,773.2 688.0,773.8 689.0,773.8 690.0,776.4 691.0,773.4 692.0,774.8 693.0,774.2 694.0,773.0 695.0,774.4 696.0,773.4 697.0,771.9 698.0,771.5 699.0,773.0 700.0,772.7 701.0,770.8 702.0,771.8 703.0,770.8 704.0,770.6 705.0,768.4 705.8,767.7 706.0,767.2 706.3,767.1 706.8,766.3 707.0,766.6 707.3,762.5 707.8,762.2 708.0,760.3 708.3,758.7 708.8,755.3 709.0,755.2 709.3,753.7 709.8,749.7 710.0,748.5 710.3,746.1 710.8,742.6 711.0,741.0 711.3,739.7 711.8,738.6 712.0,738.2 712.3,738.2 712.8,740.8 713.0,743.9 713.3,745.0 713.8,750.5 714.0,750.9 714.3,752.8 714.8,756.6 715.0,758.1 715.3,761.1 715.8,761.5 716.0,762.2 716.3,764.0 716.8,766.1 717.0,765.7 717.3,766.0 717.8,768.0 718.0,768.2 719.0,769.8 720.0,769.2 721.0,771.8 722.0,771.9 723.0,773.2 724.0,772.4 725.0,773.3 726.0,772.9 727.0,775.2 728.0,772.1 729.0,772.7 730.0,773.0 731.0,771.1 732.0,773.3 733.0,775.3 734.0,774.6 735.0,774.9 736.0,773.9 737.0,773.5 738.0,773.9 739.0,773.0 740.0,772.6 741.0,775.1 742.0,774.1 743.0,775.4 744.0,772.9 745.0,774.2 746.0,772.7 747.0,775.4 748.0,774.0 748.3,773.0 748.8,773.0 749.0,774.9 749.3,772.8 749.8,773.5 750.0,773.6 750.3,772.7 750.8,774.8 751.0,775.0 751.3,772.8 751.8,773.2 752.0,773.6 752.3,773.4 752.8,773.3 753.0,771.5 753.3,772.5 753.8,771.0 754.0,772.1 754.3,772.7 754.8,773.0 755.0,770.5 755.3,772.7 755.8,771.4 756.0,773.2 756.3,773.2 756.8,773.3 757.0,774.0 757.3,773.5 757.8,772.8 758.0,773.2 758.3,773.9 758.8,772.3 759.0,773.6 759.3,774.1 759.8,773.0 760.0,775.0 760.3,774.9 761.0,774.5 762.0,774.0 763.0,773.8 764.0,774.7 765.0,774.6 766.0,775.0 767.0,773.5 768.0,774.6 769.0,775.1 770.0,773.2 771.0,774.1 772.0,773.9 773.0,773.6 774.0,774.4 775.0,773.2 776.0,773.8 776.5,773.3 777.0,773.4 777.5,772.3 778.0,771.6 778.5,772.4 779.0,771.4 779.5,771.6 780.0,769.8 780.5,769.1 781.0,769.5 781.5,768.3 782.0,767.6 782.5,768.1 783.0,767.5 783.5,768.2 784.0,769.1 784.5,768.4 785.0,770.8 785.5,770.5 786.0,770.7 786.5,771.2 787.0,771.0 787.5,770.2 788.0,772.0 788.5,771.6 789.0,773.5 790.0,773.3 791.0,771.4 792.0,771.8 793.0,771.8 793.5,770.8 794.0,769.8 794.5,769.1 795.0,767.7 795.5,768.4 796.0,767.1 796.5,765.3 797.0,763.6 797.5,763.3 798.0,760.4 798.5,759.5 799.0,756.2 799.5,756.0 800.0,756.5 800.5,759.0 801.0,759.8 801.5,763.1 802.0,763.9 802.5,766.2 803.0,766.5 803.5,768.7 804.0,768.6 804.5,769.6 805.0,769.5 805.5,769.3 806.0,770.3 807.0,772.3 808.0,772.8 809.0,771.6 810.0,772.2 811.0,772.3 812.0,774.1 813.0,773.0 814.0,773.0 815.0,774.4 816.0,773.5 817.0,774.6 818.0,774.8 819.0,773.7 820.0,772.8 821.0,774.0 822.0,776.1 823.0,773.4 824.0,775.4 825.0,773.7 826.0,773.5 827.0,775.5 828.0,773.9 829.0,772.4 830.0,773.0 831.0,773.3 832.0,773.4 833.0,774.8 833.3,774.5 833.8,773.5 834.0,773.9 834.3,773.0 834.8,771.8 835.0,773.1 835.3,772.8 835.8,773.5 836.0,772.8 836.3,773.4 836.8,771.7 837.0,771.5 837.3,771.2 837.8,770.5 838.0,771.9 838.3,770.9 838.8,769.5 839.0,769.9 839.3,772.0 839.8,772.5 840.0,771.8 840.3,770.9 840.8,772.5 841.0,771.3 841.3,770.6 841.8,772.1 842.0,771.2 842.3,772.2 842.8,774.6 843.0,773.3 843.3,773.2 843.8,773.9 844.0,772.9 844.3,773.6 844.8,772.7 845.0,772.4 845.3,773.2 846.0,772.8 847.0,772.0 848.0,773.6 849.0,773.2 850.0,773.4 851.0,775.4 852.0,774.7 853.0,775.0 854.0,773.9 855.0,773.1 856.0,773.1 857.0,775.2 857.5,771.1 858.0,772.9 858.5,773.4 859.0,771.7 859.5,773.6 860.0,771.7 860.5,772.0 861.0,772.9 861.5,771.9 862.0,770.6 862.5,770.5 863.0,771.7 863.5,772.2 864.0,771.3 864.5,769.7 865.0,771.3 865.5,773.0 866.0,771.8 866.5,772.5 867.0,772.2 867.5,772.9 868.0,774.3 868.5,774.3 869.0,772.9 870.0,775.1 871.0,772.9 872.0,775.1 873.0,775.2 874.0,773.3 875.0,772.9 876.0,775.4 877.0,775.2 878.0,774.8 879.0,774.0 880.0,775.0 881.0,773.4 882.0,775.4 883.0,776.7 884.0,774.6 885.0,775.6 886.0,774.0 887.0,775.0 888.0,774.6 889.0,775.1 890.0,774.5 891.0,773.3 892.0,775.7 893.0,773.8 894.0,775.7 895.0,773.7 896.0,775.4 897.0,775.1 898.0,774.3 899.0,775.6 900.0,774.9 901.0,776.1 902.0,775.3 903.0,775.8 904.0,772.9 905.0,775.9 906.0,774.4 907.0,774.4 908.0,773.4 909.0,773.9 910.0,774.2 910.5,774.4 911.0,774.4 911.5,773.9 912.0,774.3 912.5,774.8 913.0,773.5 913.5,773.2 914.0,774.5 914.5,773.8 915.0,772.5 915.5,773.8 916.0,773.6 916.5,775.1 917.0,774.1 917.5,774.2 918.0,773.5 918.5,772.9 919.0,773.8 919.5,773.8 920.0,773.8 920.5,775.2 921.0,773.3 921.5,775.8 922.0,773.5 923.0,773.2 924.0,775.3 925.0,774.3 926.0,773.9 927.0,774.9 928.0,774.1 929.0,774.6 930.0,774.1 931.0,774.6 932.0,773.7 933.0,775.0 934.0,774.0 935.0,774.4 936.0,772.3 937.0,774.5 938.0,773.5 939.0,773.7 940.0,773.4 941.0,773.0 942.0,772.4 943.0,773.8 944.0,772.1 945.0,771.8 945.6,771.2 946.0,770.5 946.1,772.0 946.6,769.9 947.0,770.3 947.1,769.2 947.6,767.8 948.0,767.1 948.1,768.6 948.6,765.4 949.0,764.7 949.1,765.4 949.6,765.2 950.0,763.1 950.1,764.4 950.6,762.2 951.0,761.5 951.1,762.9 951.6,761.7 952.0,761.1 952.1,761.1 952.6,763.0 953.0,764.4 953.1,763.2 953.6,764.6 954.0,766.7 954.1,765.4 954.6,767.5 955.0,768.2 955.1,768.1 955.6,768.3 956.0,767.7 956.1,769.7 956.6,769.4 957.0,771.1 957.1,770.5 957.6,771.1 958.0,773.0 959.0,773.0 960.0,772.0 961.0,773.9 962.0,773.1 963.0,772.5 964.0,773.9 965.0,774.0 966.0,774.9 967.0,775.0 968.0,775.2 969.0,773.7 970.0,774.3 971.0,772.8 972.0,774.7 973.0,774.3 974.0,772.6 975.0,775.0 976.0,774.9 977.0,773.2 978.0,772.6 979.0,774.3 980.0,774.8 981.0,774.5 982.0,775.8 983.0,776.6 984.0,774.7 985.0,774.4 986.0,774.2 987.0,776.4 988.0,774.7 989.0,775.3 990.0,775.4 991.0,775.6 992.0,775.1 993.0,776.3 994.0,775.2 995.0,774.9 996.0,773.8 997.0,774.4 998.0,774.7 999.0,775.6 1000.0,774.2 1001.0,774.9 1002.0,774.6 1003.0,772.4 1004.0,775.0 1005.0,776.2 1006.0,773.5 1007.0,775.7 1008.0,773.7 1009.0,774.4 1010.0,774.6 1011.0,775.6 1012.0,774.7 1013.0,774.8 1013.6,775.5 1014.0,775.6 1014.1,774.6 1014.6,775.2 1015.0,776.0 1015.1,775.2 1015.6,773.9 1016.0,774.8 1016.1,773.4 1016.6,776.7 1017.0,774.9 1017.1,773.3 1017.6,774.3 1018.0,775.1 1018.1,775.3 1018.6,774.6 1019.0,774.4 1019.1,773.9 1019.6,775.5 1020.0,775.8 1020.1,775.0 1020.6,774.9 1021.0,774.8 1021.1,774.2 1021.6,774.4 1022.0,775.2 1022.1,775.0 1022.6,775.1 1023.0,774.1 1023.1,775.4 1023.6,773.8 1024.0,775.8 1024.1,774.6 1024.6,775.0 1025.0,774.1 1025.1,774.7 1025.6,774.1 1026.0,774.9 1027.0,773.1 1028.0,775.7 1029.0,774.9 1030.0,775.3 1031.0,774.6 1032.0,775.1 1033.0,774.0 1034.0,773.8 1035.0,774.2 1036.0,773.2 1037.0,775.2 1038.0,774.1 1039.0,774.1 1040.0,773.5 1041.0,774.6 1042.0,774.9 1043.0,773.5 1044.0,774.5 1045.0,773.5 1046.0,773.0 1047.0,770.8 1047.6,771.1 1048.0,772.6 1048.1,772.4 1048.6,772.9 1049.0,770.0 1049.1,771.1 1049.6,768.4 1050.0,768.3 1050.1,767.9 1050.6,767.2 1051.0,767.4 1051.1,768.2 1051.6,766.1 1052.0,764.0 1052.1,766.0 1052.6,764.3 1053.0,762.0 1053.1,764.5 1053.6,763.1 1054.0,763.9 1054.1,762.8 1054.6,763.5 1055.0,765.0 1055.1,763.5 1055.6,766.0 1056.0,767.6 1056.1,767.4 1056.6,768.0 1057.0,768.4 1057.1,768.6 1057.6,771.1 1058.0,770.6 1058.1,770.7 1058.6,770.3 1059.0,771.9 1059.1,772.3 1059.6,770.0 1060.0,773.8 1061.0,773.7 1062.0,773.2 1063.0,772.1 1064.0,776.2 1065.0,774.8 1066.0,773.9 1067.0,773.2 1068.0,775.5 1069.0,773.0 1070.0,774.7 1071.0,774.5 1072.0,773.7 1073.0,774.1 1074.0,774.2 1075.0,775.6 1076.0,775.2 1077.0,775.8 1078.0,773.8 1079.0,775.8 1080.0,774.8 1080.5,775.5 1081.0,774.0 1081.5,774.5 1082.0,773.1 1082.5,774.8 1083.0,773.6 1083.5,772.7 1084.0,772.9 1084.5,772.8 1085.0,770.9 1085.5,772.5 1086.0,771.4 1086.5,772.3 1087.0,772.7 1087.5,774.9 1088.0,773.4 1088.5,772.1 1089.0,774.0 1089.5,772.7 1090.0,773.0 1090.5,773.5 1091.0,775.1 1091.5,775.9 1092.0,775.1 1093.0,773.5 1094.0,775.0 1095.0,775.6 1096.0,772.7 1097.0,774.7 1098.0,777.3 1099.0,773.8 1100.0,774.1 1101.0,774.0 1102.0,776.2 1103.0,775.8 1104.0,775.5 1105.0,775.8 1106.0,774.0 1107.0,772.6 1108.0,774.5 1108.5,772.3 1109.0,774.1 1109.5,773.7 1110.0,773.1 1110.5,773.7 1111.0,772.5 1111.5,770.5 1112.0,770.4 1112.5,771.2 1113.0,769.6 1113.5,770.5 1114.0,769.6 1114.5,770.2 1115.0,769.4 1115.5,770.5 1116.0,769.7 1116.5,771.0 1117.0,772.7 1117.5,772.0 1118.0,772.2 1118.5,774.2 1119.0,774.4 1119.5,772.9 1120.0,774.4 1121.0,774.9 1122.0,773.9 1123.0,774.2 1124.0,774.9 1125.0,776.5 1126.0,775.2 1127.0,775.3 1128.0,773.0 1129.0,775.7 1130.0,776.3 1131.0,774.4 1132.0,776.1 1133.0,775.7 1134.0,776.1 1135.0,775.3 1136.0,775.3 1137.0,777.4 1138.0,776.7 1139.0,774.0 1139.5,773.2 1140.0,774.9 1140.5,774.7 1141.0,774.2 1141.5,773.7 1142.0,774.9 1142.5,770.5 1143.0,772.0 1143.5,773.1 1144.0,772.6 1144.5,772.3 1145.0,770.9 1145.5,773.1 1146.0,772.5 1146.5,772.6 1147.0,772.6 1147.5,771.2 1148.0,772.4 1148.5,772.1 1149.0,773.6 1149.5,772.5 1150.0,774.1 1150.5,773.7 1151.0,774.5 1151.5,772.7 1152.0,773.8 1153.0,775.1 1154.0,775.8 1155.0,774.2 1156.0,776.0 1157.0,777.8 1158.0,775.5 1159.0,775.0 1160.0,774.0 1161.0,774.3 1162.0,775.3 1163.0,775.5 1164.0,776.3 1165.0,777.5 1166.0,775.1 1167.0,776.2 1168.0,777.3 1169.0,776.5 1170.0,776.2 1171.0,776.2 1172.0,774.9 1173.0,774.8 1174.0,776.8 1175.0,777.4 1176.0,777.1 1177.0,777.1 1178.0,777.7 1179.0,777.5 1180.0,775.9 1181.0,776.5 1182.0,774.2 1183.0,777.2 1184.0,776.4 1185.0,776.4 1186.0,777.2 1187.0,775.1 1188.0,776.4 1189.0,775.5 1190.0,777.7 1191.0,775.2 1192.0,775.8 1193.0,776.7 1194.0,777.8 1195.0,776.3 1196.0,775.0 1197.0,775.7 1198.0,776.6 1199.0,776.8 1200.0,775.2 1201.0,777.4 1202.0,775.5 1203.0,775.5 1204.0,776.1 1205.0,775.2 1206.0,775.2 1207.0,776.1 1208.0,774.2 1209.0,776.0 1210.0,775.2 1211.0,776.6 1212.0,775.4 1213.0,777.1 1214.0,776.6 1215.0,776.7 1216.0,776.4 1217.0,775.4 1218.0,776.5 1219.0,776.7 1220.0,776.2 1221.0,776.3 1222.0,776.3 1223.0,775.7 1224.0,775.3 1225.0,775.7 1226.0,775.6 1226.5,775.9 1227.0,776.2 1227.5,774.7 1228.0,774.4 1228.5,776.3 1229.0,774.3 1229.5,774.0 1230.0,773.1 1230.5,773.9 1231.0,771.4 1231.5,772.5 1232.0,772.9 1232.5,772.5 1233.0,773.5 1233.5,774.5 1234.0,774.1 1234.5,773.7 1235.0,772.1 1235.5,773.8 1236.0,775.8 1236.5,776.2 1237.0,775.6 1237.5,775.9 1238.0,776.0 1239.0,774.2 1240.0,775.2 1241.0,775.2 1242.0,776.2 1243.0,776.7 1244.0,775.8 1245.0,777.4 1246.0,775.5 1247.0,775.1 1248.0,775.0 1249.0,773.5 1250.0,775.8 1251.0,774.5 1252.0,775.2 1253.0,774.6 1254.0,774.2 1254.5,771.9 1255.0,772.7 1255.5,772.3 1256.0,772.3 1256.5,770.5 1257.0,769.8 1257.5,771.0 1258.0,767.9 1258.5,768.6 1259.0,766.6 1259.5,767.7 1260.0,766.1 1260.5,766.0 1261.0,765.7 1261.5,765.2 1262.0,769.2 1262.5,768.4 1263.0,770.6 1263.5,770.7 1264.0,770.0 1264.5,771.0 1265.0,772.6 1265.5,772.7 1266.0,772.5 1266.5,773.9 1267.0,774.6 1268.0,775.5 1269.0,776.4 1270.0,775.3 1271.0,775.1 1272.0,775.3 1273.0,773.5 1274.0,777.2 1275.0,777.5 1276.0,772.8 1277.0,776.4 1278.0,775.8 1279.0,776.1 1280.0,774.8 1281.0,776.3 1282.0,774.6 1283.0,777.1 1284.0,777.4 1285.0,777.7 1286.0,775.1 1287.0,775.5 1288.0,776.1 1289.0,777.9 1290.0,776.5 1291.0,778.1 1292.0,776.9 1293.0,777.3 1294.0,775.4 1295.0,775.2 1296.0,776.0 1297.0,775.7 1298.0,775.4 1299.0,777.3 1300.0,778.2 1301.0,776.1 1302.0,776.7 1303.0,778.0 1304.0,776.9 1305.0,777.6 1306.0,777.5 1307.0,778.0 1308.0,777.9 1309.0,777.2 1310.0,776.1 1311.0,777.9 1312.0,776.0 1313.0,777.1 1314.0,777.4 1315.0,779.6 1316.0,777.7 1317.0,777.5 1318.0,776.7 1319.0,776.9 1320.0,775.7 1321.0,775.1 1322.0,776.9 1323.0,777.2 1324.0,776.7 1325.0,776.9 1326.0,776.9 1327.0,778.7 1328.0,776.5 1329.0,778.9 1330.0,776.5 1331.0,776.9 1332.0,777.1 1333.0,777.7 1334.0,778.5 1335.0,778.1 1336.0,778.2 1337.0,777.5 1338.0,777.2 1339.0,777.1 1340.0,776.2 1341.0,779.2 1342.0,777.2 1343.0,776.6 1344.0,776.2 1345.0,777.0 1346.0,776.3 1347.0,778.2 1348.0,778.3 1349.0,776.7 1350.0,778.4 1351.0,778.0 1352.0,777.6 1353.0,777.6 1354.0,777.1 1355.0,778.2 1356.0,775.8 1357.0,778.0 1358.0,777.3 1359.0,775.2 1360.0,777.0 1361.0,777.5 1362.0,777.9 1363.0,777.4 1364.0,776.5 1365.0,777.6 1366.0,777.5 1367.0,774.4 1368.0,776.3 1369.0,777.0 1370.0,776.8 1371.0,777.5 1372.0,779.2 1373.0,777.4 1374.0,776.9 1375.0,777.3 1376.0,776.5 1377.0,776.8 1378.0,776.7 1379.0,777.9 1380.0,776.9 1381.0,777.5 1382.0,777.7 1383.0,776.4 1384.0,777.9 1385.0,778.9 1386.0,777.2 1387.0,777.7 1388.0,778.4 1389.0,778.6 1390.0,777.7 1391.0,777.2 1392.0,777.9 1393.0,776.5 1394.0,776.7 1395.0,777.0 1396.0,777.9 1397.0,776.4 1398.0,777.7 1399.0,776.0 1400.0,776.6 1401.0,776.7 1402.0,778.0 1403.0,779.1 1404.0,776.1 1405.0,777.7 1406.0,777.4 1407.0,777.9 1408.0,777.0 1409.0,778.3 1410.0,775.6 1411.0,778.4 1412.0,778.8 1413.0,776.8 1414.0,777.7 1415.0,776.5 1416.0,777.3 1417.0,777.3 1418.0,775.1 1419.0,778.4 1420.0,778.2 1421.0,779.3 1422.0,777.5 1423.0,777.7 1424.0,778.7 1425.0,775.9 1426.0,778.1 1427.0,777.3 1428.0,779.4 1429.0,777.5 1430.0,778.6 1431.0,777.3 1432.0,774.7 1433.0,778.9 1434.0,778.6 1435.0,778.6 1436.0,777.4 1437.0,778.8 1438.0,776.8 1439.0,777.0 1440.0,778.6 1441.0,778.4 1442.0,779.4 1443.0,777.1 1444.0,778.2 1445.0,778.3 1446.0,778.8 1447.0,776.8 1448.0,777.9 1449.0,777.4 1450.0,778.3 1451.0,780.5 1452.0,778.5 1453.0,779.3 1454.0,778.4 1455.0,777.5 1456.0,778.1 1457.0,777.8 1458.0,777.7 1459.0,778.6 1460.0,778.4 1461.0,777.1 1462.0,776.0 1463.0,777.4 1464.0,778.3 1465.0,779.2 1466.0,778.1 1467.0,778.4 1468.0,778.9 1469.0,779.0 1470.0,777.3 1471.0,777.7 1472.0,778.5 1473.0,777.5 1474.0,777.1 1475.0,777.7 1476.0,778.0 1477.0,778.9 1478.0,777.5 1479.0,777.2 1480.0,777.6 1481.0,778.8 1482.0,776.4 1483.0,778.3 1484.0,779.0 1485.0,777.7 1486.0,777.5 1487.0,777.0 1488.0,777.2 1489.0,777.9 1490.0,779.2 1491.0,778.6 1492.0,777.7 1493.0,776.8 1494.0,777.0 1495.0,779.1 1496.0,776.8 1497.0,779.0 1498.0,778.2 1499.0,779.0 1500.0,778.4 1501.0,777.6 1502.0,778.1 1503.0,777.7 1504.0,777.0 1505.0,777.9 1506.0,778.0 1507.0,777.1 1508.0,777.8 1509.0,778.8 1510.0,778.1 1511.0,777.1 1512.0,779.5 1513.0,777.5 1514.0,779.2 1515.0,778.4 1516.0,779.1 1517.0,778.4 1518.0,777.1 1519.0,779.3 1520.0,777.5 1521.0,776.8 1522.0,776.8 1523.0,778.5 1524.0,777.7 1525.0,777.7 1526.0,776.8 1527.0,779.9 1528.0,778.8 1529.0,779.1 1530.0,778.4 1531.0,779.3 1532.0,777.8 1533.0,779.5 1534.0,778.2 1535.0,777.8 1536.0,779.0 1537.0,778.7 1538.0,778.6 1539.0,776.9 1540.0,777.4 1541.0,777.1 1542.0,777.6 1543.0,778.4 1544.0,777.4 1545.0,778.3 1546.0,777.4 1547.0,778.0 1548.0,778.8 1549.0,779.4 1550.0,780.0 1551.0,778.5 1552.0,778.6 1553.0,779.7 1554.0,776.9 1555.0,777.4 1556.0,779.2 1557.0,779.3 1558.0,780.1 1559.0,780.0 1560.0,779.9 1561.0,779.2 1562.0,778.5 1563.0,779.5 1564.0,776.8 1565.0,778.3 1566.0,777.1 1567.0,778.2 1568.0,775.9 1569.0,778.8 1570.0,778.4 1571.0,779.4 1572.0,777.0 1573.0,778.1 1574.0,779.2 1575.0,776.8 1576.0,778.2 1577.0,776.4 1578.0,780.1 1579.0,777.5 1580.0,778.4 1581.0,778.7 1582.0,776.7 1583.0,777.8 1584.0,776.9 1585.0,778.9 1586.0,779.7 1587.0,776.3 1588.0,778.3 1589.0,777.1 1590.0,778.7 1591.0,778.9 1592.0,779.2 1593.0,779.0 1594.0,776.9 1595.0,777.2 1596.0,778.3 1597.0,779.0 1598.0,777.7 1599.0,778.0 1600.0,778.8 1601.0,778.5 1602.0,779.4 1603.0,777.4 1604.0,778.9 1605.0,778.5 1606.0,778.5 1607.0,778.3 1608.0,778.0 1609.0,779.7 1610.0,777.9 1611.0,778.8 1612.0,778.6 1613.0,777.9 1614.0,778.7 1615.0,778.8 1616.0,779.9 1617.0,777.8 1618.0,779.1 1619.0,779.0 1620.0,779.4 1621.0,777.9 1622.0,778.8 1623.0,777.4 1624.0,778.8 1625.0,779.6 1626.0,779.9 1627.0,776.6 1628.0,778.2 1629.0,778.9 1630.0,777.0 1631.0,780.8 1632.0,778.9 1633.0,777.0 1634.0,781.4 1635.0,779.0 1636.0,776.9 1637.0,777.8 1638.0,778.0 1639.0,778.5 1640.0,780.1 1641.0,778.0 1642.0,778.2 1643.0,778.7 1644.0,779.2 1645.0,778.9 1646.0,777.5 1647.0,779.5 1648.0,777.9 1649.0,777.9 1650.0,780.9 1651.0,777.1 1652.0,778.6 1653.0,777.7 1654.0,779.3 1655.0,779.1 1656.0,777.9 1657.0,778.3 1658.0,778.2 1659.0,779.2 1660.0,777.2 1661.0,779.0 1662.0,779.0 1663.0,778.7 1664.0,778.3 1665.0,779.4 1666.0,779.3 1667.0,779.0 1668.0,778.8 1669.0,779.4 1670.0,779.4 1671.0,777.8 1672.0,777.7 1673.0,778.4 1674.0,778.1 1675.0,778.3 1676.0,778.6 1677.0,780.0 1678.0,778.9 1679.0,779.0 1680.0,779.6 1681.0,778.2 1682.0,778.5 1683.0,777.1 1684.0,778.0 1685.0,779.4 1686.0,778.5 1687.0,778.5 1688.0,780.2 1689.0,780.4 1690.0,779.0 1691.0,778.1 1692.0,777.7 1693.0,778.8 1694.0,777.8 1695.0,778.8 1696.0,778.4 1697.0,778.7 1698.0,778.5 1699.0,779.9 1700.0,778.7 1701.0,780.3 1702.0,778.5 1703.0,780.3 1704.0,778.0 1705.0,779.1 1706.0,778.5 1707.0,777.9 1708.0,780.7 1709.0,779.0 1710.0,778.0 1711.0,777.5 1712.0,779.4 1713.0,779.5 1714.0,779.0 1715.0,778.3 1716.0,778.4 1717.0,777.7 1718.0,778.3 1719.0,778.5 1720.0,779.4 1721.0,779.6 1722.0,777.8 1723.0,777.0 1724.0,780.5 1725.0,778.9 1726.0,778.1 1727.0,779.0 1728.0,778.1 1729.0,778.4 1730.0,776.6 1731.0,778.4 1732.0,780.2 1733.0,779.5 1734.0,778.6 1735.0,778.9 1736.0,779.4 1737.0,779.8 1738.0,778.1 1739.0,778.6 1740.0,779.0 1741.0,779.6 1742.0,778.5 1743.0,779.3 1744.0,779.6 1745.0,778.9 1746.0,779.3 1747.0,780.0 1748.0,777.8 1749.0,779.1 1750.0,779.2 1751.0,780.8 1752.0,777.2 1753.0,778.2 1754.0,777.6 1755.0,778.0 1756.0,779.2 1757.0,778.0 1758.0,778.8 1759.0,778.9 1760.0,778.7 1761.0,779.7 1762.0,779.3 1763.0,778.2 1764.0,778.6 1765.0,779.2 1766.0,778.4 1767.0,779.4 1768.0,778.9 1769.0,778.5 1770.0,778.7 1771.0,778.0 1772.0,779.3 1773.0,778.5 1774.0,778.4 1775.0,778.7 1776.0,781.0 1777.0,780.0 1778.0,778.4 1779.0,778.1 1780.0,779.7 1781.0,778.1 1782.0,780.1 1783.0,778.4 1784.0,780.0 1785.0,780.9 1786.0,778.8 1787.0,779.7 1788.0,779.8 1789.0,781.2 1790.0,781.3 1791.0,778.4 1792.0,780.3 1793.0,780.1 1794.0,779.4 1795.0,779.6 1796.0,778.2 1797.0,778.4 1798.0,779.1 1799.0,778.0 1800.0,779.5 1801.0,779.4 1802.0,780.6 1803.0,778.3 1804.0,780.5 1805.0,779.6 1806.0,779.6 1807.0,779.3 1808.0,779.3 1809.0,778.7 1810.0,778.5 1811.0,780.5 1812.0,777.3 1813.0,780.2 1814.0,779.7 1815.0,779.6 1816.0,780.3 1817.0,779.4 1818.0,779.6 1819.0,780.0 1820.0,779.3 1821.0,780.3 1822.0,780.2 1823.0,779.3 1824.0,779.8 1825.0,778.6 1826.0,779.7 1827.0,779.5 1828.0,778.1 1829.0,779.4 1830.0,779.9 1831.0,778.5 1832.0,778.2 1833.0,779.4 1834.0,778.9 1835.0,778.5 1836.0,779.4 1837.0,778.5 1838.0,779.5 1839.0,780.4 1840.0,779.7 1841.0,779.6 1842.0,778.5 1843.0,780.6 1844.0,779.2 1845.0,781.0 1846.0,778.9 1847.0,779.5 1848.0,778.3 1849.0,779.7 1850.0,778.2 1851.0,779.5 1852.0,780.9 1853.0,780.1 1854.0,778.3 1855.0,780.3 1856.0,778.4 1857.0,779.1 1858.0,778.9 1859.0,779.1 1860.0,779.4 1861.0,777.3 1862.0,780.4 1863.0,779.3 1864.0,778.5 1865.0,779.7 1866.0,780.7 1867.0,778.5 1868.0,780.0 1869.0,779.3 1870.0,779.5 1871.0,778.9 1872.0,779.5 1873.0,780.0 1874.0,778.0 1875.0,778.7 1876.0,779.0 1877.0,778.9 1878.0,777.9 1879.0,778.9 1880.0,778.4 1881.0,779.7 1882.0,779.4 1883.0,779.6 1884.0,779.7 1885.0,779.0 1886.0,778.5 1887.0,780.0 1888.0,779.0 1889.0,778.9 1890.0,780.9 1891.0,778.1 1892.0,780.2 1893.0,780.7 1894.0,779.1 1895.0,778.9 1896.0,779.8 1897.0,778.7 1898.0,777.7 1899.0,780.5 1900.0,780.9 1901.0,778.3 1902.0,780.1 1903.0,779.7 1904.0,779.5 1905.0,780.2 1906.0,779.1 1907.0,779.2 1908.0,779.6 1909.0,779.8 1910.0,777.3 1911.0,780.6 1912.0,780.1 1913.0,780.5 1914.0,779.4 1915.0,778.6 1916.0,780.0 1917.0,780.0 1918.0,780.4 1919.0,780.2 1920.0,778.8 1921.0,778.6 1922.0,779.4 1923.0,779.9 1924.0,779.5 1925.0,779.1 1926.0,779.7 1927.0,777.9 1928.0,779.5 1929.0,777.6 1930.0,781.1 1931.0,777.9 1932.0,781.2 1933.0,780.4 1934.0,780.6 1935.0,780.4 1936.0,779.3 1937.0,779.7 1938.0,781.1 1939.0,778.7 1940.0,779.4 1941.0,780.5 1942.0,779.0 1943.0,781.2 1944.0,778.6 1945.0,779.0 1946.0,779.7 1947.0,779.0 1948.0,779.4 1949.0,779.6 1950.0,779.5 1951.0,780.0 1952.0,780.0 1953.0,780.0 1954.0,779.9 1955.0,779.7 1956.0,780.0 1957.0,780.0 1958.0,780.4 1959.0,781.2 1960.0,779.1 1961.0,781.3 1962.0,780.5 1963.0,780.6 1964.0,779.3 1965.0,780.0 1966.0,780.1 1967.0,779.5 1968.0,780.4 1969.0,778.7 1970.0,779.0 1971.0,780.5 1972.0,780.1 1973.0,778.3 1974.0,780.1 1975.0,779.9 1976.0,780.5 1977.0,779.7 1978.0,779.7 1979.0,778.8 1980.0,779.6 1981.0,779.3 1982.0,780.2 1983.0,777.9 1984.0,779.7 1985.0,780.7 1986.0,777.2 1987.0,780.3 1988.0,780.1 1989.0,779.8 1990.0,780.0 1991.0,779.0 1992.0,780.4 1993.0,779.9 1994.0,778.1 1995.0,780.3 1996.0,778.6 1997.0,778.8 1998.0,780.0 1999.0,779.3 2000.0,779.8 2001.0,779.9 2002.0,779.5 2003.0,780.0 2004.0,778.3 2005.0,781.2 2006.0,780.4 2007.0,779.1 2008.0,779.5 2009.0,781.0 2010.0,778.9 2011.0,778.2 2012.0,781.6 2013.0,780.9 2014.0,780.1 2015.0,781.2 2016.0,780.2 2017.0,780.4 2018.0,780.3 2019.0,780.4 2020.0,778.9 2021.0,779.8 2022.0,780.1 2023.0,778.8 2024.0,778.6 2025.0,779.7 2026.0,781.2 2027.0,779.7 2028.0,780.7 2029.0,780.9 2030.0,781.0 2031.0,780.4 2032.0,778.2 2033.0,777.9 2034.0,778.8 2035.0,779.6 2036.0,779.7 2037.0,779.4 2038.0,779.5 2039.0,780.4 2040.0,778.7 2041.0,780.4 2042.0,780.3 2043.0,778.2 2044.0,780.0 2045.0,779.8 2046.0,780.3 2047.0,780.2 2048.0,777.9 2049.0,781.6 2050.0,779.9 2051.0,780.7 2052.0,780.7 2053.0,779.0 2054.0,779.8 2055.0,779.7 2056.0,781.8 2057.0,778.7 2058.0,781.3 2059.0,780.7 2060.0,779.8 2061.0,778.9 2062.0,779.7 2063.0,780.5 2064.0,779.0 2065.0,780.1 2066.0,780.4 2067.0,780.5 2068.0,779.6 2069.0,780.5 2070.0,780.6 2071.0,778.1 2072.0,778.8 2073.0,778.6 2074.0,779.2 2075.0,780.6 2076.0,780.4 2077.0,780.2 2078.0,779.4 2079.0,780.8 2080.0,778.5 2081.0,778.6 2082.0,780.5 2083.0,779.7 2084.0,780.9 2085.0,780.7 2086.0,780.8 2087.0,779.2 2088.0,779.4 2089.0,778.4 2090.0,779.9 2091.0,779.9 2092.0,779.4 2093.0,779.7 2094.0,780.1 2095.0,780.8 2096.0,779.4 2097.0,779.4 2098.0,779.8 2099.0,780.4 2100.0,781.6 2101.0,780.8 2102.0,777.8 2103.0,778.4 2104.0,779.2 2105.0,777.6 2106.0,780.6 2107.0,779.1 2108.0,778.7 2109.0,779.8 2110.0,780.2 2111.0,779.6 2112.0,779.9 2113.0,780.8 2114.0,779.0 2115.0,779.9 2116.0,778.2 2117.0,778.8" fill="none" stroke="#FF0000" stroke-width="4.8" stroke-linejoin="round" stroke-linecap="butt" shape-rendering="crispEdges"/>
<polyline points="166.0,495.7 167.0,494.1 168.0,493.8 169.0,495.4 170.0,494.2 171.0,495.5 172.0,496.3 173.0,496.6 174.0,494.3 175.0,494.8 176.0,493.9 177.0,496.0 178.0,494.9 179.0,496.9 180.0,493.8 181.0,494.1 182.0,491.5 183.0,493.4 184.0,493.3 185.0,494.2 186.0,494.5 186.9,492.7 187.0,493.3 187.4,493.8 187.9,493.0 188.0,493.7 188.4,494.3 188.9,492.0 189.0,492.8 189.4,493.3 189.9,491.9 190.0,493.1 190.4,491.0 190.9,491.5 191.0,490.6 191.4,490.2 191.9,488.1 192.0,489.5 192.4,486.9 192.9,488.6 193.0,487.6 193.4,488.1 193.9,489.8 194.0,487.6 194.4,490.2 194.9,490.7 195.0,490.1 195.4,491.8 195.9,491.6 196.0,493.4 196.4,491.5 196.9,493.7 197.0,493.6 197.4,492.8 197.9,492.0 198.0,492.6 198.4,491.6 198.9,492.2 199.0,492.3 200.0,493.3 201.0,491.7 202.0,493.3 203.0,492.5 204.0,493.6 205.0,493.1 206.0,491.8 207.0,492.3 208.0,491.9 209.0,490.6 209.1,490.8 209.6,490.5 210.0,489.3 210.1,489.0 210.6,489.7 211.0,487.2 211.1,489.1 211.6,488.3 212.0,486.2 212.1,486.6 212.6,483.8 213.0,483.3 213.1,485.0 213.6,479.9 214.0,477.0 214.1,476.4 214.6,472.7 215.0,472.3 215.1,472.7 215.6,473.3 216.0,475.9 216.1,477.5 216.6,478.0 217.0,480.9 217.1,482.1 217.6,483.2 218.0,484.8 218.1,486.4 218.6,487.8 219.0,488.4 219.1,487.4 219.6,489.6 220.0,490.3 220.1,489.3 220.6,490.2 221.0,490.2 221.1,490.3 222.0,490.5 223.0,491.7 224.0,490.9 225.0,493.3 226.0,492.5 227.0,491.8 228.0,494.0 229.0,492.2 230.0,490.1 231.0,493.1 232.0,492.7 233.0,492.1 234.0,492.1 235.0,491.5 236.0,491.0 237.0,491.0 238.0,494.2 239.0,491.4 240.0,492.0 241.0,493.5 242.0,491.2 243.0,491.7 244.0,491.3 245.0,490.4 246.0,492.1 247.0,492.1 248.0,491.4 249.0,491.3 250.0,492.0 251.0,492.0 252.0,493.1 253.0,492.0 254.0,492.0 255.0,490.7 256.0,490.0 257.0,492.3 258.0,490.3 259.0,491.6 260.0,491.1 261.0,490.2 262.0,491.1 263.0,492.3 264.0,491.9 265.0,490.2 266.0,490.3 267.0,488.7 268.0,489.3 269.0,489.8 270.0,490.1 271.0,490.4 272.0,489.5 273.0,490.8 274.0,488.7 275.0,489.8 276.0,488.0 277.0,488.2 278.0,488.2 279.0,488.1 280.0,485.9 281.0,484.9 281.7,483.9 282.0,483.7 282.2,484.3 282.7,482.3 283.0,480.4 283.2,479.7 283.7,478.9 284.0,477.4 284.2,475.9 284.7,471.3 285.0,467.8 285.2,465.9 285.7,460.5 286.0,455.2 286.2,452.8 286.7,446.8 287.0,440.9 287.2,439.0 287.7,434.6 288.0,437.7 288.2,437.9 288.7,444.9 289.0,449.9 289.2,452.9 289.7,459.8 290.0,464.7 290.2,468.2 290.7,470.8 291.0,474.2 291.2,473.8 291.7,477.8 292.0,478.4 292.2,480.9 292.7,481.0 293.0,482.8 293.2,482.8 293.7,482.7 294.0,484.3 295.0,485.6 296.0,487.3 297.0,487.0 298.0,486.1 299.0,487.1 300.0,487.8 301.0,489.1 302.0,488.3 303.0,489.6 304.0,488.6 305.0,489.2 306.0,489.8 307.0,489.1 308.0,487.5 309.0,490.0 310.0,488.8 311.0,489.7 312.0,486.5 313.0,488.9 314.0,488.8 315.0,488.4 316.0,488.6 317.0,487.8 318.0,487.8 319.0,488.9 320.0,488.2 321.0,489.0 322.0,488.6 323.0,487.5 324.0,487.9 325.0,487.5 326.0,488.0 327.0,488.8 328.0,487.0 329.0,486.2 330.0,488.1 331.0,485.4 332.0,484.3 333.0,483.7 334.0,481.0 335.0,482.6 336.0,480.0 336.8,477.4 337.0,476.2 337.3,474.2 337.8,471.3 338.0,469.9 338.3,469.1 338.8,465.1 339.0,463.0 339.3,457.9 339.8,453.4 340.0,447.7 340.3,442.5 340.8,430.6 341.0,424.8 341.3,414.3 341.8,399.7 342.0,394.5 342.3,388.7 342.8,382.3 343.0,383.8 343.3,386.8 343.8,400.4 344.0,408.0 344.3,417.8 344.8,430.9 345.0,436.1 345.3,442.5 345.8,451.4 346.0,454.7 346.3,459.5 346.8,463.4 347.0,464.9 347.3,468.7 347.8,471.0 348.0,472.9 348.3,473.1 348.8,476.3 349.0,476.4 350.0,479.1 351.0,482.1 352.0,482.3 353.0,481.7 354.0,483.5 355.0,485.0 356.0,487.1 357.0,485.6 358.0,485.2 359.0,486.0 360.0,487.6 361.0,487.1 362.0,487.3 363.0,487.5 364.0,488.4 365.0,486.0 366.0,488.3 367.0,487.7 368.0,486.3 369.0,487.8 370.0,488.3 371.0,486.9 372.0,487.9 373.0,485.0 374.0,485.5 375.0,487.1 376.0,486.6 377.0,486.9 378.0,486.5 379.0,486.4 380.0,483.9 381.0,483.3 382.0,484.7 383.0,482.8 383.7,481.4 384.0,480.6 384.2,481.7 384.7,478.3 385.0,478.4 385.2,478.6 385.7,474.7 386.0,473.1 386.2,472.2 386.7,467.2 387.0,467.3 387.2,465.2 387.7,460.3 388.0,454.7 388.2,452.3 388.7,445.3 389.0,442.4 389.2,439.2 389.7,437.0 390.0,436.8 390.2,439.2 390.7,444.7 391.0,449.9 391.2,452.5 391.7,457.7 392.0,461.3 392.2,464.7 392.7,468.5 393.0,471.4 393.2,473.4 393.7,474.0 394.0,476.8 394.2,476.4 394.7,478.8 395.0,479.6 395.2,479.2 395.7,479.2 396.0,481.4 397.0,482.1 398.0,484.2 399.0,484.8 400.0,486.0 401.0,486.1 402.0,484.2 403.0,484.5 404.0,485.4 405.0,486.2 406.0,486.6 407.0,485.9 408.0,486.8 409.0,485.7 410.0,487.5 411.0,486.1 412.0,485.9 413.0,485.8 414.0,486.0 414.8,487.1 415.0,485.9 415.3,486.5 415.8,484.7 416.0,485.8 416.3,485.7 416.8,485.6 417.0,483.7 417.3,483.4 417.8,483.6 418.0,483.8 418.3,482.0 418.8,481.9 419.0,482.7 419.3,478.9 419.8,478.2 420.0,478.7 420.3,478.8 420.8,477.9 421.0,478.4 421.3,479.5 421.8,478.7 422.0,478.9 422.3,481.5 422.8,479.9 423.0,482.5 423.3,483.4 423.8,483.1 424.0,482.6 424.3,483.5 424.8,483.1 425.0,485.4 425.3,484.3 425.8,483.8 426.0,484.1 426.3,484.1 426.8,484.2 427.0,483.5 427.3,482.2 427.8,482.0 428.0,481.0 428.3,480.1 428.8,480.6 429.0,479.4 429.3,479.1 429.8,478.9 430.0,479.0 430.3,478.1 430.8,478.0 431.0,479.4 431.3,478.7 431.8,481.9 432.0,480.7 432.3,482.8 432.8,481.8 433.0,483.8 433.3,483.9 433.8,484.0 434.0,485.3 434.3,485.1 434.8,485.1 435.0,485.0 435.3,485.7 435.8,485.7 436.0,484.9 436.3,485.1 437.0,485.8 438.0,485.1 439.0,484.6 440.0,487.1 441.0,485.9 442.0,488.5 443.0,486.7 444.0,487.2 445.0,487.2 446.0,486.6 447.0,486.2 448.0,485.1 449.0,485.5 450.0,485.3 451.0,485.1 452.0,485.0 453.0,486.4 454.0,484.5 455.0,487.5 456.0,485.2 457.0,486.2 458.0,485.9 459.0,485.7 460.0,484.9 461.0,484.4 461.3,484.5 461.8,484.8 462.0,484.4 462.3,483.7 462.8,481.7 463.0,482.0 463.3,482.4 463.8,482.4 464.0,482.3 464.3,479.8 464.8,479.2 465.0,477.8 465.3,476.4 465.8,475.3 466.0,474.9 466.3,473.4 466.8,469.5 467.0,472.2 467.3,469.1 467.8,472.5 468.0,473.3 468.3,475.9 468.8,473.8 469.0,475.4 469.3,477.2 469.8,479.1 470.0,478.9 470.3,481.1 470.8,480.8 471.0,481.6 471.3,482.0 471.8,483.4 472.0,483.3 472.3,481.8 472.8,484.3 473.0,482.9 473.3,483.1 474.0,483.7 475.0,484.4 476.0,485.4 477.0,485.5 478.0,483.8 479.0,485.0 480.0,486.0 481.0,485.9 482.0,485.1 483.0,484.2 484.0,485.1 485.0,484.1 486.0,482.7 487.0,481.2 488.0,483.1 488.5,483.2 489.0,483.3 489.5,482.0 490.0,480.2 490.5,478.5 491.0,477.3 491.5,475.8 492.0,471.8 492.5,470.1 493.0,466.3 493.5,463.9 494.0,461.3 494.5,457.8 495.0,459.3 495.5,463.3 496.0,467.1 496.5,469.1 497.0,472.9 497.5,475.1 498.0,476.5 498.5,478.0 499.0,480.0 499.5,481.7 500.0,480.9 500.5,482.5 501.0,482.7 502.0,482.7 503.0,483.2 504.0,483.3 505.0,484.5 506.0,485.1 507.0,484.5 508.0,483.2 509.0,485.0 510.0,484.8 511.0,484.6 512.0,486.0 513.0,484.3 514.0,484.7 515.0,485.1 516.0,486.3 517.0,484.0 518.0,485.0 519.0,483.1 520.0,484.1 521.0,484.3 522.0,483.2 523.0,484.7 524.0,484.1 525.0,482.9 526.0,483.3 527.0,482.0 528.0,481.7 529.0,480.7 530.0,480.6 530.5,477.7 531.0,477.7 531.5,476.8 532.0,474.0 532.5,472.1 533.0,470.4 533.5,464.1 534.0,459.7 534.5,456.3 535.0,451.0 535.5,448.5 536.0,445.3 536.5,447.3 537.0,451.5 537.5,453.9 538.0,461.9 538.5,465.1 539.0,467.9 539.5,471.1 540.0,473.5 540.5,477.0 541.0,476.5 541.5,479.7 542.0,478.9 543.0,481.3 544.0,481.6 545.0,482.6 546.0,484.0 547.0,483.5 548.0,483.3 549.0,484.9 550.0,486.0 551.0,484.2 552.0,484.2 553.0,484.0 554.0,483.3 555.0,483.7 556.0,484.6 557.0,483.5 558.0,484.0 558.5,483.7 559.0,483.8 559.5,484.3 560.0,482.5 560.5,480.8 561.0,481.6 561.5,481.0 562.0,481.1 562.5,478.4 563.0,476.4 563.5,474.8 564.0,475.2 564.5,474.1 565.0,475.5 565.5,476.9 566.0,477.1 566.5,478.9 567.0,479.7 567.5,481.2 568.0,480.3 568.5,481.4 569.0,484.2 569.5,481.9 570.0,482.6 570.5,484.3 571.0,483.2 572.0,484.0 573.0,483.9 574.0,486.2 575.0,484.9 576.0,486.6 577.0,485.4 578.0,483.9 579.0,485.5 580.0,483.8 581.0,486.2 582.0,483.5 583.0,486.3 584.0,485.9 585.0,486.7 586.0,485.7 586.7,485.5 587.0,484.9 587.2,484.6 587.7,484.4 588.0,484.7 588.2,484.8 588.7,486.9 589.0,485.1 589.2,483.9 589.7,485.7 590.0,484.4 590.2,483.6 590.7,484.0 591.0,483.1 591.2,484.0 591.7,483.0 592.0,484.0 592.2,481.9 592.7,483.1 593.0,481.8 593.2,484.6 593.7,482.2 594.0,485.2 594.2,483.4 594.7,484.9 595.0,483.4 595.2,484.0 595.7,485.8 596.0,483.5 596.2,485.3 596.7,483.5 597.0,486.9 597.2,486.0 597.7,483.6 598.0,484.9 598.2,486.2 598.7,487.4 599.0,485.3 600.0,483.9 601.0,486.7 602.0,484.9 603.0,485.7 604.0,485.3 605.0,484.5 606.0,483.7 607.0,487.2 608.0,485.9 609.0,485.8 610.0,485.3 611.0,486.1 612.0,484.8 613.0,484.8 614.0,484.5 615.0,484.5 616.0,486.0 617.0,484.4 618.0,487.5 619.0,485.7 620.0,485.4 621.0,485.5 622.0,487.2 623.0,483.7 624.0,485.8 625.0,487.3 626.0,486.7 627.0,486.0 628.0,485.4 629.0,487.8 630.0,485.3 631.0,487.4 632.0,484.8 633.0,484.2 634.0,485.5 635.0,485.1 636.0,483.2 637.0,485.2 638.0,487.3 639.0,484.7 639.4,485.1 639.9,484.5 640.0,484.5 640.4,484.5 640.9,484.2 641.0,484.0 641.4,484.0 641.9,483.7 642.0,483.4 642.4,481.5 642.9,481.4 643.0,481.0 643.4,481.3 643.9,482.2 644.0,480.9 644.4,479.7 644.9,481.3 645.0,480.2 645.4,478.7 645.9,479.9 646.0,480.5 646.4,480.9 646.9,480.2 647.0,481.1 647.4,480.9 647.9,480.9 648.0,482.7 648.4,480.9 648.9,483.0 649.0,484.2 649.4,484.1 649.9,483.8 650.0,484.2 650.4,484.2 650.9,485.5 651.0,484.8 651.4,485.1 652.0,483.9 653.0,484.5 654.0,484.2 655.0,485.5 656.0,485.2 657.0,484.3 658.0,484.5 658.5,483.6 659.0,483.0 659.5,483.2 660.0,482.3 660.5,483.5 661.0,479.4 661.5,480.4 662.0,477.5 662.5,477.7 663.0,474.9 663.5,473.3 664.0,475.9 664.5,474.7 665.0,477.2 665.5,476.4 666.0,477.6 666.5,480.7 667.0,480.1 667.5,481.6 668.0,481.5 668.5,482.6 669.0,481.4 669.5,483.4 670.0,483.9 671.0,485.4 672.0,485.8 673.0,485.1 674.0,485.4 675.0,485.4 676.0,487.5 677.0,485.1 678.0,486.5 679.0,485.9 680.0,484.7 681.0,486.4 682.0,487.0 683.0,486.3 684.0,485.0 685.0,486.5 686.0,486.6 687.0,485.6 688.0,486.8 689.0,484.6 690.0,484.9 691.0,485.7 692.0,486.0 693.0,486.8 694.0,486.8 695.0,485.2 696.0,486.8 697.0,487.2 698.0,486.5 699.0,485.6 700.0,485.3 701.0,484.7 702.0,483.6 703.0,484.4 704.0,483.6 705.0,484.7 706.0,484.2 707.0,483.9 708.0,483.0 708.5,482.6 709.0,481.1 709.5,480.5 710.0,480.3 710.5,480.0 711.0,475.8 711.5,474.7 712.0,473.4 712.5,470.5 713.0,468.5 713.5,466.7 714.0,464.3 714.5,465.1 715.0,465.7 715.5,467.4 716.0,469.4 716.5,472.1 717.0,471.0 717.5,476.4 718.0,476.5 718.5,480.7 719.0,479.3 719.5,481.1 720.0,480.3 720.5,481.2 721.0,483.0 722.0,483.9 723.0,485.6 724.0,485.4 725.0,486.1 726.0,487.0 727.0,484.1 728.0,486.9 729.0,485.0 730.0,486.1 731.0,485.8 732.0,486.8 733.0,486.8 734.0,486.7 735.0,485.8 736.0,484.6 737.0,486.3 738.0,486.3 739.0,486.4 740.0,486.9 741.0,488.1 742.0,487.4 743.0,486.9 744.0,486.0 745.0,485.4 746.0,487.9 747.0,487.1 748.0,486.6 749.0,485.2 750.0,486.3 751.0,487.2 752.0,487.0 753.0,486.2 754.0,486.8 755.0,486.4 756.0,486.3 757.0,487.9 758.0,487.3 759.0,486.9 760.0,486.2 761.0,487.9 762.0,485.4 763.0,486.9 764.0,485.7 765.0,484.7 766.0,486.2 767.0,484.7 768.0,486.3 769.0,485.3 770.0,486.5 771.0,486.0 772.0,485.0 773.0,486.0 774.0,485.6 775.0,487.6 776.0,487.4 777.0,486.7 778.0,486.6 778.5,487.9 779.0,485.8 779.5,485.5 780.0,486.6 780.5,485.5 781.0,483.8 781.5,485.7 782.0,484.0 782.5,484.7 783.0,484.5 783.5,482.4 784.0,482.7 784.5,483.3 785.0,481.9 785.5,482.5 786.0,483.9 786.5,484.1 787.0,483.6 787.5,484.6 788.0,485.3 788.5,484.5 789.0,484.5 789.5,485.2 790.0,484.4 791.0,484.7 792.0,485.0 793.0,483.5 794.0,484.5 795.0,484.9 796.0,483.3 796.5,484.9 797.0,483.8 797.5,484.2 798.0,482.3 798.5,482.2 799.0,480.7 799.5,478.8 800.0,479.1 800.5,476.7 801.0,476.8 801.5,474.6 802.0,475.2 802.5,475.3 803.0,477.5 803.5,477.2 804.0,479.7 804.5,480.3 805.0,482.3 805.5,481.5 806.0,483.4 806.5,484.0 807.0,484.3 807.5,484.4 808.0,485.8 809.0,483.9 810.0,486.2 811.0,485.3 812.0,486.5 813.0,487.0 814.0,486.7 815.0,486.2 816.0,485.7 817.0,485.3 818.0,486.1 819.0,487.1 820.0,485.4 821.0,489.1 822.0,486.8 823.0,486.2 824.0,487.8 825.0,487.9 826.0,487.3 827.0,486.3 828.0,487.0 829.0,488.0 830.0,487.7 831.0,485.2 832.0,487.7 833.0,488.5 834.0,486.3 835.0,485.2 836.0,486.2 836.7,487.0 837.0,486.7 837.2,486.6 837.7,484.0 838.0,486.1 838.2,486.0 838.7,486.6 839.0,487.6 839.2,485.8 839.7,487.4 840.0,487.6 840.2,487.2 840.7,485.7 841.0,487.3 841.2,485.7 841.7,485.7 842.0,484.5 842.2,485.0 842.7,485.0 843.0,487.1 843.2,486.2 843.7,486.2 844.0,485.7 844.2,485.7 844.7,485.3 845.0,485.9 845.2,487.6 845.7,486.3 846.0,488.3 846.2,487.1 846.7,486.3 847.0,487.9 847.2,486.7 847.7,487.7 848.0,486.4 848.2,488.1 848.7,487.3 849.0,487.1 850.0,487.8 851.0,486.5 852.0,485.2 853.0,486.3 854.0,487.9 855.0,488.4 856.0,485.8 857.0,487.5 858.0,487.5 859.0,485.7 860.0,485.3 860.5,488.3 861.0,487.0 861.5,486.3 862.0,486.9 862.5,484.8 863.0,486.5 863.5,485.9 864.0,485.5 864.5,486.5 865.0,485.3 865.5,485.1 866.0,484.5 866.5,484.1 867.0,484.8 867.5,486.4 868.0,483.5 868.5,484.5 869.0,485.2 869.5,486.5 870.0,485.5 870.5,486.8 871.0,484.5 871.5,485.6 872.0,487.3 872.5,484.6 873.0,487.1 874.0,488.1 875.0,487.6 876.0,487.8 877.0,486.3 878.0,486.6 879.0,488.1 880.0,487.5 881.0,488.8 882.0,487.7 883.0,487.4 884.0,487.3 885.0,488.7 886.0,488.3 887.0,486.9 888.0,487.9 889.0,486.6 890.0,488.2 891.0,487.2 892.0,488.7 893.0,488.8 894.0,488.2 895.0,486.0 896.0,487.0 897.0,487.7 898.0,487.7 899.0,487.8 900.0,488.4 901.0,486.8 902.0,486.3 903.0,486.2 904.0,488.5 905.0,488.2 906.0,487.0 907.0,487.3 908.0,488.6 909.0,487.0 910.0,488.0 911.0,488.0 912.0,487.5 913.0,487.9 914.0,488.1 915.0,486.5 915.5,485.3 916.0,486.6 916.5,485.2 917.0,484.8 917.5,486.9 918.0,485.1 918.5,485.3 919.0,485.6 919.5,484.4 920.0,485.5 920.5,486.6 921.0,484.0 921.5,484.8 922.0,482.6 922.5,484.4 923.0,487.0 923.5,485.7 924.0,485.5 924.5,486.6 925.0,486.1 925.5,487.9 926.0,486.5 926.5,486.2 927.0,486.6 928.0,484.6 929.0,487.5 930.0,487.6 931.0,485.5 932.0,484.7 933.0,486.7 934.0,487.4 935.0,488.6 936.0,486.4 937.0,486.4 938.0,487.1 939.0,488.3 940.0,486.2 941.0,486.6 942.0,486.2 943.0,487.6 944.0,488.0 945.0,488.3 946.0,487.6 947.0,486.5 948.0,484.6 948.5,485.3 949.0,485.5 949.5,484.6 950.0,482.5 950.5,482.4 951.0,481.4 951.5,481.8 952.0,480.2 952.5,478.6 953.0,478.7 953.5,477.9 954.0,476.7 954.5,478.5 955.0,478.2 955.5,478.9 956.0,479.1 956.5,481.1 957.0,482.3 957.5,480.6 958.0,482.7 958.5,483.6 959.0,484.9 959.5,483.7 960.0,487.0 961.0,485.5 962.0,485.3 963.0,486.3 964.0,487.5 965.0,486.8 966.0,486.3 967.0,487.3 968.0,487.5 969.0,487.4 970.0,486.5 971.0,487.7 972.0,491.2 973.0,487.3 974.0,487.7 975.0,485.6 976.0,487.6 977.0,487.9 978.0,487.2 979.0,487.5 980.0,486.7 981.0,488.4 982.0,487.7 983.0,486.6 984.0,487.4 985.0,488.0 986.0,487.9 987.0,490.0 988.0,487.6 989.0,487.8 990.0,486.9 991.0,488.3 992.0,486.9 993.0,488.2 994.0,487.1 995.0,487.0 996.0,487.0 997.0,489.6 998.0,486.7 999.0,488.7 1000.0,487.8 1001.0,486.6 1002.0,487.5 1003.0,487.1 1004.0,488.1 1005.0,488.8 1006.0,489.6 1007.0,487.3 1008.0,487.3 1009.0,487.2 1010.0,487.8 1011.0,487.1 1012.0,489.4 1013.0,487.7 1014.0,487.6 1015.0,485.0 1016.0,487.9 1017.0,486.8 1018.0,489.9 1019.0,488.3 1020.0,487.4 1021.0,488.2 1022.0,489.5 1023.0,488.0 1024.0,488.4 1025.0,485.9 1026.0,486.9 1027.0,486.4 1028.0,487.9 1029.0,486.1 1030.0,485.9 1031.0,487.0 1032.0,487.3 1033.0,487.9 1034.0,488.8 1035.0,488.5 1036.0,487.4 1037.0,487.4 1038.0,485.5 1039.0,488.2 1040.0,486.3 1041.0,486.6 1042.0,486.9 1043.0,485.9 1044.0,486.5 1045.0,487.5 1046.0,487.7 1047.0,488.0 1048.0,486.9 1049.0,485.2 1050.0,485.8 1051.0,483.8 1051.5,482.2 1052.0,484.5 1052.5,483.1 1053.0,482.6 1053.5,481.4 1054.0,483.4 1054.5,480.9 1055.0,481.2 1055.5,479.3 1056.0,478.8 1056.5,478.2 1057.0,479.2 1057.5,476.2 1058.0,478.2 1058.5,478.5 1059.0,480.3 1059.5,480.2 1060.0,481.5 1060.5,481.7 1061.0,482.0 1061.5,483.7 1062.0,484.7 1062.5,484.4 1063.0,483.2 1064.0,484.2 1065.0,486.0 1066.0,485.2 1067.0,486.5 1068.0,486.0 1069.0,487.4 1070.0,485.2 1071.0,486.4 1072.0,487.1 1073.0,486.8 1074.0,485.1 1075.0,485.6 1076.0,485.9 1077.0,485.3 1078.0,485.9 1079.0,485.8 1080.0,485.9 1080.5,485.8 1081.0,485.4 1081.5,486.9 1082.0,487.0 1082.5,485.9 1083.0,487.2 1083.5,487.1 1084.0,485.5 1084.5,487.4 1085.0,487.1 1085.5,486.5 1086.0,485.4 1086.5,486.1 1087.0,485.3 1087.5,486.5 1088.0,485.6 1088.5,484.9 1089.0,484.9 1089.5,485.5 1090.0,485.2 1090.5,486.6 1091.0,486.9 1091.5,486.3 1092.0,485.9 1093.0,486.0 1094.0,485.8 1095.0,485.5 1096.0,486.7 1097.0,485.7 1098.0,486.8 1099.0,485.3 1100.0,485.1 1101.0,486.5 1102.0,488.8 1103.0,486.3 1104.0,485.5 1105.0,487.6 1106.0,486.2 1107.0,485.8 1108.0,485.0 1109.0,486.8 1110.0,485.6 1111.0,485.1 1112.0,485.6 1112.5,486.8 1113.0,486.5 1113.5,484.6 1114.0,483.7 1114.5,486.9 1115.0,485.4 1115.5,487.1 1116.0,485.4 1116.5,485.4 1117.0,484.8 1117.5,484.8 1118.0,485.0 1118.5,484.8 1119.0,486.3 1119.5,484.8 1120.0,484.7 1120.5,486.3 1121.0,484.4 1121.5,485.1 1122.0,485.6 1122.5,484.2 1123.0,486.0 1123.5,485.6 1124.0,486.5 1125.0,486.1 1126.0,484.7 1127.0,484.6 1128.0,485.2 1129.0,485.7 1130.0,485.7 1131.0,485.7 1132.0,486.4 1133.0,484.7 1134.0,485.2 1135.0,487.1 1136.0,485.6 1137.0,485.5 1138.0,486.1 1139.0,484.0 1139.5,485.3 1140.0,484.7 1140.5,484.0 1141.0,484.6 1141.5,485.5 1142.0,484.1 1142.5,483.4 1143.0,484.7 1143.5,483.4 1144.0,484.4 1144.5,483.6 1145.0,482.5 1145.5,481.9 1146.0,482.4 1146.5,484.0 1147.0,482.1 1147.5,485.8 1148.0,481.6 1148.5,484.7 1149.0,485.5 1149.5,483.9 1150.0,482.9 1150.5,484.6 1151.0,484.8 1152.0,486.3 1153.0,485.6 1154.0,486.0 1155.0,485.7 1156.0,487.4 1157.0,485.6 1158.0,485.9 1159.0,486.4 1160.0,488.8 1161.0,483.3 1162.0,484.2 1163.0,485.7 1164.0,485.4 1165.0,486.2 1166.0,487.1 1167.0,487.0 1168.0,486.2 1169.0,485.8 1170.0,486.3 1171.0,485.8 1172.0,488.3 1173.0,487.7 1174.0,486.4 1175.0,487.2 1176.0,486.1 1177.0,486.6 1178.0,486.8 1179.0,485.5 1180.0,486.7 1181.0,486.1 1182.0,487.1 1183.0,485.7 1184.0,486.1 1185.0,487.2 1186.0,488.1 1187.0,487.3 1188.0,487.1 1189.0,485.4 1190.0,486.2 1191.0,486.9 1192.0,486.7 1193.0,486.9 1194.0,487.9 1195.0,488.1 1196.0,486.4 1197.0,486.1 1198.0,485.4 1199.0,487.0 1200.0,487.5 1201.0,488.1 1202.0,486.3 1203.0,486.5 1204.0,486.2 1205.0,489.1 1206.0,488.6 1207.0,486.6 1208.0,487.3 1209.0,486.3 1210.0,486.7 1211.0,489.1 1212.0,486.8 1213.0,486.9 1214.0,487.1 1215.0,485.8 1216.0,485.6 1217.0,485.2 1218.0,488.1 1219.0,486.4 1220.0,486.6 1221.0,488.1 1222.0,486.2 1223.0,486.8 1224.0,486.5 1225.0,487.6 1226.0,487.0 1227.0,485.6 1228.0,488.2 1229.0,488.5 1230.0,487.6 1231.0,487.0 1232.0,487.2 1233.0,486.2 1234.0,487.0 1235.0,488.3 1236.0,487.6 1237.0,486.1 1238.0,486.1 1239.0,487.1 1240.0,488.6 1241.0,487.8 1242.0,487.4 1243.0,488.2 1244.0,486.7 1245.0,487.7 1246.0,487.1 1247.0,486.3 1248.0,487.9 1249.0,486.2 1250.0,487.3 1251.0,488.3 1252.0,486.1 1253.0,488.4 1254.0,488.5 1255.0,487.8 1256.0,486.7 1256.5,486.6 1257.0,486.5 1257.5,486.7 1258.0,485.7 1258.5,486.7 1259.0,487.6 1259.5,484.7 1260.0,487.4 1260.5,484.6 1261.0,484.7 1261.5,485.0 1262.0,485.3 1262.5,485.6 1263.0,487.1 1263.5,486.2 1264.0,487.1 1264.5,485.7 1265.0,486.8 1265.5,484.8 1266.0,485.6 1266.5,489.0 1267.0,486.8 1267.5,487.6 1268.0,488.0 1269.0,488.0 1270.0,486.1 1271.0,487.7 1272.0,489.8 1273.0,488.7 1274.0,487.4 1275.0,487.8 1276.0,487.4 1277.0,488.1 1278.0,488.0 1279.0,487.9 1280.0,487.3 1281.0,486.3 1282.0,488.5 1283.0,488.3 1284.0,488.6 1285.0,489.2 1286.0,487.9 1287.0,489.3 1288.0,488.0 1289.0,489.1 1290.0,488.9 1291.0,487.5 1292.0,489.2 1293.0,488.8 1294.0,488.5 1295.0,488.3 1296.0,488.4 1297.0,487.7 1298.0,487.3 1299.0,488.4 1300.0,489.2 1301.0,488.3 1302.0,489.2 1303.0,487.1 1304.0,490.1 1305.0,488.8 1306.0,488.3 1307.0,488.6 1308.0,488.9 1309.0,488.7 1310.0,489.0 1311.0,487.5 1312.0,489.2 1313.0,488.5 1314.0,487.7 1315.0,489.5 1316.0,488.7 1317.0,490.2 1318.0,488.2 1319.0,490.1 1320.0,489.4 1321.0,488.1 1322.0,489.7 1323.0,489.4 1324.0,489.8 1325.0,488.4 1326.0,486.7 1327.0,488.5 1328.0,489.1 1329.0,489.8 1330.0,490.1 1331.0,490.2 1332.0,489.6 1333.0,489.2 1334.0,488.7 1335.0,489.6 1336.0,488.7 1337.0,489.4 1338.0,488.8 1339.0,489.8 1340.0,488.8 1341.0,488.6 1342.0,488.7 1343.0,489.7 1344.0,488.7 1345.0,490.4 1346.0,488.3 1347.0,489.5 1348.0,489.0 1349.0,488.2 1350.0,489.2 1351.0,489.7 1352.0,489.9 1353.0,489.1 1354.0,488.4 1355.0,488.7 1356.0,488.9 1357.0,491.1 1358.0,488.3 1359.0,489.3 1360.0,491.5 1361.0,488.4 1362.0,491.0 1363.0,490.8 1364.0,490.3 1365.0,490.0 1366.0,487.9 1367.0,489.5 1368.0,489.4 1369.0,490.7 1370.0,490.7 1371.0,488.5 1372.0,487.4 1373.0,488.9 1374.0,491.5 1375.0,489.8 1376.0,489.7 1377.0,490.4 1378.0,489.5 1379.0,490.0 1380.0,489.0 1381.0,489.0 1382.0,490.3 1383.0,490.0 1384.0,490.5 1385.0,489.9 1386.0,490.7 1387.0,490.3 1388.0,490.2 1389.0,490.9 1390.0,490.0 1391.0,488.8 1392.0,489.1 1393.0,489.7 1394.0,490.9 1395.0,489.4 1396.0,489.7 1397.0,491.2 1398.0,491.4 1399.0,488.7 1400.0,489.0 1401.0,489.9 1402.0,490.2 1403.0,489.5 1404.0,488.7 1405.0,492.1 1406.0,490.4 1407.0,491.5 1408.0,490.9 1409.0,490.7 1410.0,488.6 1411.0,490.5 1412.0,490.4 1413.0,490.4 1414.0,489.6 1415.0,489.1 1416.0,490.3 1417.0,490.9 1418.0,491.3 1419.0,490.5 1420.0,488.7 1421.0,490.0 1422.0,489.9 1423.0,489.7 1424.0,489.2 1425.0,490.9 1426.0,489.7 1427.0,490.5 1428.0,490.9 1429.0,489.7 1430.0,490.2 1431.0,489.8 1432.0,491.5 1433.0,489.8 1434.0,489.1 1435.0,491.4 1436.0,488.3 1437.0,491.9 1438.0,491.0 1439.0,491.0 1440.0,491.0 1441.0,490.7 1442.0,491.1 1443.0,488.3 1444.0,490.3 1445.0,489.5 1446.0,488.9 1447.0,489.5 1448.0,490.3 1449.0,490.9 1450.0,489.9 1451.0,489.8 1452.0,492.0 1453.0,491.3 1454.0,489.9 1455.0,489.9 1456.0,490.8 1457.0,491.5 1458.0,490.2 1459.0,490.6 1460.0,491.6 1461.0,489.4 1462.0,490.9 1463.0,490.6 1464.0,489.8 1465.0,491.0 1466.0,491.6 1467.0,490.5 1468.0,490.3 1469.0,492.1 1470.0,491.0 1471.0,490.1 1472.0,491.2 1473.0,491.6 1474.0,490.8 1475.0,489.3 1476.0,490.4 1477.0,490.0 1478.0,492.4 1479.0,490.3 1480.0,492.6 1481.0,491.1 1482.0,491.1 1483.0,491.3 1484.0,492.6 1485.0,490.1 1486.0,490.7 1487.0,490.8 1488.0,491.5 1489.0,490.6 1490.0,491.3 1491.0,492.0 1492.0,490.8 1493.0,492.4 1494.0,491.2 1495.0,491.1 1496.0,491.8 1497.0,491.0 1498.0,491.7 1499.0,490.7 1500.0,490.2 1501.0,491.6 1502.0,492.0 1503.0,491.2 1504.0,492.1 1505.0,490.9 1506.0,493.3 1507.0,491.1 1508.0,491.8 1509.0,491.3 1510.0,491.2 1511.0,490.6 1512.0,492.6 1513.0,491.2 1514.0,490.8 1515.0,492.4 1516.0,492.4 1517.0,490.8 1518.0,492.1 1519.0,492.5 1520.0,491.7 1521.0,490.3 1522.0,491.4 1523.0,490.8 1524.0,490.4 1525.0,491.7 1526.0,492.1 1527.0,489.5 1528.0,491.2 1529.0,490.8 1530.0,491.9 1531.0,491.0 1532.0,490.3 1533.0,492.8 1534.0,491.4 1535.0,492.8 1536.0,491.8 1537.0,490.8 1538.0,490.3 1539.0,490.2 1540.0,491.3 1541.0,491.7 1542.0,492.8 1543.0,490.5 1544.0,491.7 1545.0,492.3 1546.0,492.9 1547.0,492.5 1548.0,492.2 1549.0,492.3 1550.0,490.5 1551.0,491.7 1552.0,490.5 1553.0,493.6 1554.0,492.6 1555.0,491.6 1556.0,491.4 1557.0,491.4 1558.0,492.2 1559.0,491.4 1560.0,491.6 1561.0,490.9 1562.0,492.2 1563.0,492.4 1564.0,490.8 1565.0,492.3 1566.0,491.6 1567.0,492.6 1568.0,492.7 1569.0,491.3 1570.0,492.3 1571.0,492.8 1572.0,490.7 1573.0,491.8 1574.0,490.9 1575.0,492.4 1576.0,490.3 1577.0,492.6 1578.0,491.5 1579.0,492.4 1580.0,493.7 1581.0,491.8 1582.0,491.0 1583.0,490.8 1584.0,492.5 1585.0,490.7 1586.0,490.5 1587.0,492.2 1588.0,493.0 1589.0,492.2 1590.0,493.6 1591.0,493.0 1592.0,492.6 1593.0,492.3 1594.0,492.3 1595.0,492.3 1596.0,492.8 1597.0,492.0 1598.0,490.6 1599.0,490.4 1600.0,491.0 1601.0,491.9 1602.0,490.5 1603.0,491.7 1604.0,492.1 1605.0,493.0 1606.0,491.1 1607.0,491.1 1608.0,490.8 1609.0,490.8 1610.0,491.5 1611.0,493.3 1612.0,489.0 1613.0,491.9 1614.0,492.1 1615.0,493.1 1616.0,493.1 1617.0,492.2 1618.0,490.4 1619.0,491.2 1620.0,491.6 1621.0,491.2 1622.0,492.6 1623.0,491.4 1624.0,490.9 1625.0,491.9 1626.0,492.7 1627.0,491.4 1628.0,491.0 1629.0,491.2 1630.0,492.0 1631.0,492.2 1632.0,491.3 1633.0,491.3 1634.0,492.6 1635.0,494.0 1636.0,494.4 1637.0,494.1 1638.0,491.4 1639.0,492.2 1640.0,492.0 1641.0,491.6 1642.0,491.6 1643.0,492.1 1644.0,492.5 1645.0,493.3 1646.0,493.3 1647.0,491.8 1648.0,491.8 1649.0,492.9 1650.0,492.7 1651.0,491.7 1652.0,492.2 1653.0,490.5 1654.0,492.4 1655.0,491.1 1656.0,492.4 1657.0,489.5 1658.0,492.1 1659.0,491.0 1660.0,491.6 1661.0,492.2 1662.0,491.5 1663.0,493.6 1664.0,493.0 1665.0,491.8 1666.0,493.7 1667.0,492.1 1668.0,492.3 1669.0,493.8 1670.0,493.9 1671.0,492.2 1672.0,492.9 1673.0,492.1 1674.0,493.1 1675.0,492.0 1676.0,493.3 1677.0,490.7 1678.0,492.6 1679.0,493.3 1680.0,492.4 1681.0,490.7 1682.0,492.4 1683.0,491.2 1684.0,491.8 1685.0,492.3 1686.0,493.8 1687.0,492.1 1688.0,491.1 1689.0,493.8 1690.0,491.9 1691.0,491.6 1692.0,492.0 1693.0,491.9 1694.0,493.3 1695.0,490.2 1696.0,491.4 1697.0,492.8 1698.0,492.3 1699.0,492.0 1700.0,490.4 1701.0,492.9 1702.0,491.6 1703.0,493.4 1704.0,490.0 1705.0,492.4 1706.0,492.6 1707.0,493.6 1708.0,492.2 1709.0,491.6 1710.0,492.4 1711.0,491.8 1712.0,492.3 1713.0,490.3 1714.0,492.2 1715.0,492.3 1716.0,492.4 1717.0,492.2 1718.0,493.8 1719.0,494.0 1720.0,493.2 1721.0,492.3 1722.0,493.5 1723.0,492.4 1724.0,492.0 1725.0,491.8 1726.0,492.2 1727.0,493.6 1728.0,493.5 1729.0,493.4 1730.0,492.7 1731.0,491.8 1732.0,492.6 1733.0,492.3 1734.0,491.8 1735.0,493.3 1736.0,490.9 1737.0,491.1 1738.0,491.3 1739.0,491.9 1740.0,492.3 1741.0,493.1 1742.0,493.2 1743.0,492.0 1744.0,491.9 1745.0,492.5 1746.0,493.4 1747.0,492.8 1748.0,493.0 1749.0,493.3 1750.0,492.8 1751.0,492.5 1752.0,490.6 1753.0,492.0 1754.0,491.3 1755.0,491.8 1756.0,492.2 1757.0,493.1 1758.0,493.4 1759.0,491.7 1760.0,493.0 1761.0,493.1 1762.0,490.8 1763.0,492.8 1764.0,492.5 1765.0,490.9 1766.0,492.7 1767.0,493.2 1768.0,493.3 1769.0,492.2 1770.0,493.3 1771.0,493.6 1772.0,493.2 1773.0,491.4 1774.0,493.4 1775.0,492.2 1776.0,492.2 1777.0,493.8 1778.0,494.0 1779.0,494.1 1780.0,490.1 1781.0,493.9 1782.0,490.7 1783.0,493.2 1784.0,491.5 1785.0,492.9 1786.0,493.6 1787.0,493.5 1788.0,492.4 1789.0,490.2 1790.0,492.1 1791.0,492.1 1792.0,492.6 1793.0,493.5 1794.0,491.9 1795.0,493.3 1796.0,491.9 1797.0,492.1 1798.0,493.0 1799.0,493.4 1800.0,493.5 1801.0,492.2 1802.0,493.3 1803.0,491.7 1804.0,494.7 1805.0,493.3 1806.0,492.8 1807.0,491.9 1808.0,492.2 1809.0,492.9 1810.0,492.1 1811.0,492.8 1812.0,491.9 1813.0,492.1 1814.0,493.7 1815.0,491.9 1816.0,492.4 1817.0,491.9 1818.0,493.3 1819.0,491.9 1820.0,492.5 1821.0,492.8 1822.0,492.5 1823.0,493.3 1824.0,493.0 1825.0,492.9 1826.0,492.3 1827.0,492.5 1828.0,492.0 1829.0,492.1 1830.0,491.9 1831.0,494.1 1832.0,493.6 1833.0,491.8 1834.0,492.7 1835.0,493.6 1836.0,492.6 1837.0,494.3 1838.0,491.7 1839.0,492.9 1840.0,490.8 1841.0,493.9 1842.0,492.2 1843.0,493.0 1844.0,493.7 1845.0,492.7 1846.0,492.4 1847.0,492.2 1848.0,494.1 1849.0,494.3 1850.0,492.4 1851.0,494.1 1852.0,492.3 1853.0,490.8 1854.0,492.2 1855.0,492.1 1856.0,493.1 1857.0,493.1 1858.0,492.1 1859.0,492.1 1860.0,492.6 1861.0,490.5 1862.0,493.3 1863.0,493.6 1864.0,492.8 1865.0,491.4 1866.0,492.6 1867.0,492.0 1868.0,492.1 1869.0,494.2 1870.0,492.5 1871.0,492.1 1872.0,493.3 1873.0,491.4 1874.0,494.3 1875.0,493.1 1876.0,492.9 1877.0,493.0 1878.0,491.4 1879.0,493.2 1880.0,493.2 1881.0,492.8 1882.0,492.0 1883.0,492.7 1884.0,494.0 1885.0,492.1 1886.0,493.1 1887.0,493.6 1888.0,491.7 1889.0,492.3 1890.0,493.0 1891.0,493.9 1892.0,493.1 1893.0,492.2 1894.0,492.7 1895.0,491.2 1896.0,493.2 1897.0,492.7 1898.0,492.5 1899.0,492.8 1900.0,492.9 1901.0,491.9 1902.0,494.7 1903.0,491.8 1904.0,492.9 1905.0,492.8 1906.0,491.3 1907.0,492.5 1908.0,491.9 1909.0,491.5 1910.0,491.1 1911.0,492.7 1912.0,493.6 1913.0,493.5 1914.0,492.7 1915.0,493.1 1916.0,490.8 1917.0,493.1 1918.0,492.3 1919.0,493.3 1920.0,493.4 1921.0,492.8 1922.0,492.5 1923.0,492.5 1924.0,494.4 1925.0,492.5 1926.0,493.1 1927.0,493.6 1928.0,494.0 1929.0,491.5 1930.0,492.9 1931.0,491.7 1932.0,492.5 1933.0,493.5 1934.0,491.2 1935.0,493.0 1936.0,492.7 1937.0,493.6 1938.0,492.8 1939.0,493.0 1940.0,492.6 1941.0,493.9 1942.0,493.5 1943.0,493.1 1944.0,490.0 1945.0,493.5 1946.0,492.3 1947.0,493.4 1948.0,493.2 1949.0,493.4 1950.0,492.6 1951.0,493.1 1952.0,492.7 1953.0,491.5 1954.0,493.2 1955.0,492.2 1956.0,493.0 1957.0,493.8 1958.0,494.0 1959.0,493.4 1960.0,493.2 1961.0,492.9 1962.0,492.2 1963.0,493.4 1964.0,493.2 1965.0,492.4 1966.0,493.4 1967.0,491.9 1968.0,493.3 1969.0,492.4 1970.0,492.2 1971.0,492.2 1972.0,492.5 1973.0,492.1 1974.0,493.0 1975.0,493.1 1976.0,495.6 1977.0,491.5 1978.0,492.6 1979.0,493.7 1980.0,494.3 1981.0,493.0 1982.0,493.8 1983.0,492.7 1984.0,493.7 1985.0,492.5 1986.0,491.9 1987.0,493.1 1988.0,492.8 1989.0,493.0 1990.0,492.6 1991.0,491.7 1992.0,492.7 1993.0,492.5 1994.0,491.9 1995.0,492.2 1996.0,492.9 1997.0,493.0 1998.0,492.2 1999.0,492.0 2000.0,492.4 2001.0,492.3 2002.0,492.8 2003.0,494.5 2004.0,492.7 2005.0,491.3 2006.0,494.3 2007.0,493.0 2008.0,492.6 2009.0,493.4 2010.0,492.6 2011.0,494.5 2012.0,493.0 2013.0,493.0 2014.0,492.7 2015.0,493.4 2016.0,492.8 2017.0,492.7 2018.0,492.9 2019.0,492.3 2020.0,493.7 2021.0,494.2 2022.0,492.1 2023.0,492.7 2024.0,493.4 2025.0,491.9 2026.0,492.4 2027.0,493.5 2028.0,493.1 2029.0,493.3 2030.0,491.4 2031.0,494.1 2032.0,493.2 2033.0,493.0 2034.0,494.7 2035.0,494.0 2036.0,491.8 2037.0,494.8 2038.0,492.6 2039.0,493.0 2040.0,492.1 2041.0,494.5 2042.0,493.1 2043.0,493.7 2044.0,494.1 2045.0,493.3 2046.0,491.4 2047.0,494.7 2048.0,492.9 2049.0,491.9 2050.0,492.9 2051.0,493.0 2052.0,492.9 2053.0,493.2 2054.0,493.7 2055.0,494.9 2056.0,494.1 2057.0,493.4 2058.0,495.3 2059.0,493.4 2060.0,495.5 2061.0,493.4 2062.0,491.8 2063.0,494.6 2064.0,493.2 2065.0,493.1 2066.0,493.2 2067.0,493.4 2068.0,493.9 2069.0,493.3 2070.0,492.2 2071.0,493.7 2072.0,493.8 2073.0,493.1 2074.0,493.7 2075.0,494.0 2076.0,491.8 2077.0,491.6 2078.0,492.6 2079.0,494.2 2080.0,492.0 2081.0,494.4 2082.0,492.9 2083.0,493.8 2084.0,492.9 2085.0,492.9 2086.0,493.1 2087.0,492.7 2088.0,492.4 2089.0,492.7 2090.0,493.0 2091.0,493.0 2092.0,492.1 2093.0,492.9 2094.0,493.1 2095.0,493.9 2096.0,493.9 2097.0,493.5 2098.0,493.6 2099.0,492.3 2100.0,493.0 2101.0,494.1 2102.0,493.8 2103.0,494.8 2104.0,495.4 2105.0,495.1 2106.0,492.9 2107.0,492.9 2108.0,493.1 2109.0,494.7 2110.0,493.8 2111.0,493.2 2112.0,492.4 2113.0,493.4 2114.0,493.2 2115.0,494.6 2116.0,495.7 2117.0,492.2" fill="none" stroke="#DE0000" stroke-width="4.6" stroke-linejoin="round" stroke-linecap="butt" shape-rendering="crispEdges"/>
<circle cx="1481" cy="148.9" r="19" fill="#000"/>
<polygon points="1650.5,117 1679.1,145 1650.5,173 1621.9,145" fill="#000"/>
<polygon points="1869.5,117.0 1876.7,137.9 1900.0,138.3 1882.2,152.6 1889.0,172.8 1869.5,161.7 1851.1,172.8 1856.8,152.6 1840.0,138.3 1862.2,137.9" fill="#000"/>
<polygon points="681.8,895.8 689.0,916.7 712.3,917.1 694.5,931.4 701.3,951.6 681.8,940.5 663.4,951.6 669.1,931.4 652.3,917.1 674.5,916.7" fill="#000"/>
<circle cx="1161.9" cy="898.9" r="19" fill="#000"/>
<circle cx="1347" cy="970.8" r="19" fill="#000"/>
<polygon points="319,1671 342.2,1694 319,1717 295.8,1694" fill="#000"/>
<polygon points="1136,1801 1159,1824 1136,1847 1113,1824" fill="#000"/>
<g font-family="'Liberation Sans', Arial, sans-serif" fill="#000" stroke="#000" stroke-width="1.1">
<text x="167.2" y="2381" font-size="89" text-anchor="middle" textLength="48.5" lengthAdjust="spacingAndGlyphs">5</text>
<text x="427.8" y="2381" font-size="89" text-anchor="middle" textLength="98.5" lengthAdjust="spacingAndGlyphs">15</text>
<text x="686.0" y="2381" font-size="89" text-anchor="middle" textLength="98.5" lengthAdjust="spacingAndGlyphs">25</text>
<text x="944.8" y="2381" font-size="89" text-anchor="middle" textLength="98.5" lengthAdjust="spacingAndGlyphs">35</text>
<text x="1203.0" y="2381" font-size="89" text-anchor="middle" textLength="98.5" lengthAdjust="spacingAndGlyphs">45</text>
<text x="1463.8" y="2381" font-size="89" text-anchor="middle" textLength="98.5" lengthAdjust="spacingAndGlyphs">55</text>
<text x="1722.8" y="2381" font-size="89" text-anchor="middle" textLength="98.5" lengthAdjust="spacingAndGlyphs">65</text>
<text x="1981.2" y="2381" font-size="89" text-anchor="middle" textLength="98.5" lengthAdjust="spacingAndGlyphs">75</text>
<text x="1090.5 1144.8 1164.8 1219.6 1252.1 1290.6" y="2521.5" font-size="89" transform="scale(0.937 1)">2θ (°)</text>
<g transform="translate(111 0) rotate(-90)"><text x="-1586.8 -1559.5 -1505.9 -1476.7 -1425.4 -1377.1 -1333.9 -1309.3 -1278.0 -1258.0 -1212.6 -1184.4 -1132.1 -1105.4 -1054.2 -1026.5" y="0" font-size="89" transform="scale(0.972 1)" stroke-width="1.3">Intensity (a.u.)</text></g>
<text x="1864.8 1932.8 1991.6 2024.2 2091.5 2121.8 2185.2 2240.8 2271.3 2322.5" y="455" font-size="87.5" transform="scale(0.871 1)" stroke-width="1.5">H1/G(Cu)_B</text>
<text x="1854.7 1922.1 1980.8 2013.0 2080.2 2110.7 2173.5 2229.8 2260.5 2312.1" y="735.8" font-size="87.5" transform="scale(0.874 1)" stroke-width="1.5">H1/G(Cu)_A</text>
<text x="2183.7 2252.9 2283.7 2348.3 2405.7" y="1002.5" font-size="87.5" transform="scale(0.851 1)" stroke-width="1.5">G(Cu)</text>
<text x="1853.0 1918.6 1976.0 2007.6 2074.3 2123.9" y="1319.4" font-size="87.5" transform="scale(0.951 1)" stroke-width="1.5">H1/G_B</text>
<text x="1832.3 1897.2 1953.6 1985.2 2051.3 2100.9" y="1608.8" font-size="87.5" transform="scale(0.961 1)" stroke-width="1.5">H1/G_A</text>
<text x="2210.1 2278.5" y="1911" font-size="87.5" transform="scale(0.882 1)" stroke-width="1.5">GO</text>
<text x="2231.2 2297.1" y="2185.7" font-size="87.5" transform="scale(0.884 1)" stroke-width="1.5">H1</text>
<text x="1719.8 1776.0" y="172.5" font-size="80" font-style="italic" transform="scale(0.876 1)">Cu</text>
<text x="1926.9 1992.5" y="172.5" font-size="80" font-style="italic" transform="scale(0.874 1)">GO</text>
<text x="2025.2 2053.8 2111.4" y="172.5" font-size="80" font-style="italic" transform="scale(0.941 1)">rGO</text>
<text x="763.9 788.9 827.4 866.3 905.6" y="951.5" font-size="66" transform="scale(0.955 1)">(002)</text>
<text x="385.8 410.8 449.8 489.0 528.9" y="1717" font-size="66" transform="scale(0.945 1)">(001)</text>
<text x="227.4" y="378.3" font-size="59" text-anchor="middle" textLength="135.5" lengthAdjust="spacingAndGlyphs" transform="rotate(-90 227.4 378.3)">(200)</text>
<text x="293.7" y="335.5" font-size="59" text-anchor="middle" textLength="135.5" lengthAdjust="spacingAndGlyphs" transform="rotate(-90 293.7 335.5)">(220)</text>
<text x="355.5" y="285.2" font-size="59" text-anchor="middle" textLength="135.5" lengthAdjust="spacingAndGlyphs" transform="rotate(-90 355.5 285.2)">(222)</text>
<text x="413.4" y="357.3" font-size="59" text-anchor="middle" textLength="135.5" lengthAdjust="spacingAndGlyphs" transform="rotate(-90 413.4 357.3)">(400)</text>
</g>
</svg>
</body></html>
